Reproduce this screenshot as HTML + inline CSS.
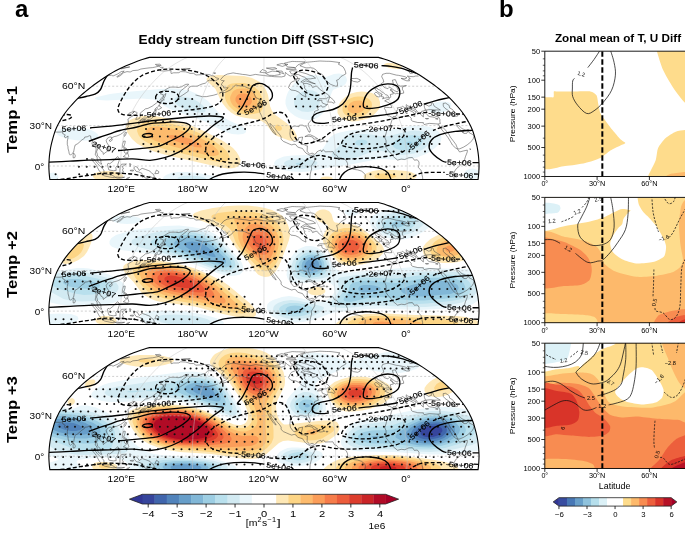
<!DOCTYPE html>
<html><head><meta charset="utf-8"><style>
html,body{margin:0;padding:0;background:#fff;}
svg{display:block;will-change:transform;}
text{font-family:"Liberation Sans",sans-serif;}
</style></head><body>
<svg width="685" height="537" viewBox="0 0 685 537">
<rect width="685" height="537" fill="#fff"/>
<text x="15" y="16.6" font-size="24" font-weight="bold">a</text>
<text x="499" y="16.5" font-size="24" font-weight="bold">b</text>
<text x="138.6" y="43.8" font-size="12.2" font-weight="bold" textLength="235.2" lengthAdjust="spacingAndGlyphs">Eddy stream function Diff (SST+SIC)</text>
<text x="554.9" y="42.2" font-size="10.6" font-weight="bold" textLength="126.2" lengthAdjust="spacingAndGlyphs">Zonal mean of T, U Diff</text>
<text x="17.4" y="119.4" font-size="14.4" text-anchor="middle" font-weight="bold" textLength="67" lengthAdjust="spacingAndGlyphs" transform="rotate(-90 17.4 119.4)">Temp +1</text>
<clipPath id="clip0"><path d="M149.47,57.4 L153.35,57.4 L157.23,57.4 L161.12,57.4 L165,57.4 L168.88,57.4 L172.76,57.4 L176.64,57.4 L180.52,57.4 L184.4,57.4 L188.28,57.4 L192.16,57.4 L196.04,57.4 L199.92,57.4 L203.8,57.4 L207.68,57.4 L211.56,57.4 L215.44,57.4 L219.32,57.4 L223.2,57.4 L227.08,57.4 L230.97,57.4 L234.85,57.4 L238.73,57.4 L242.61,57.4 L246.49,57.4 L250.37,57.4 L254.25,57.4 L258.13,57.4 L262.01,57.4 L265.89,57.4 L269.77,57.4 L273.65,57.4 L277.53,57.4 L281.41,57.4 L285.29,57.4 L289.17,57.4 L293.05,57.4 L296.93,57.4 L300.82,57.4 L304.7,57.4 L308.58,57.4 L312.46,57.4 L316.34,57.4 L320.22,57.4 L324.1,57.4 L327.98,57.4 L331.86,57.4 L335.74,57.4 L339.62,57.4 L343.5,57.4 L347.38,57.4 L351.26,57.4 L355.14,57.4 L359.02,57.4 L362.9,57.4 L366.78,57.4 L370.67,57.4 L374.55,57.4 L378.43,57.4 L378.43,57.4 L381.06,58.1 L384,58.99 L387.2,60.05 L390.62,61.27 L394.22,62.64 L397.97,64.14 L401.81,65.75 L405.62,67.46 L409.29,69.22 L412.74,71.03 L416.01,72.89 L419.14,74.78 L422.19,76.71 L425.17,78.68 L428.09,80.68 L430.96,82.71 L433.79,84.77 L436.55,86.85 L439.25,88.96 L441.89,91.09 L444.44,93.24 L446.91,95.42 L449.28,97.61 L451.51,99.81 L453.62,102.03 L455.64,104.27 L457.6,106.51 L459.5,108.76 L461.32,111.02 L463.02,113.29 L464.61,115.56 L466.09,117.84 L467.48,120.12 L468.78,122.4 L469.99,124.69 L471.09,126.97 L472.08,129.25 L472.96,131.54 L473.73,133.82 L474.41,136.1 L475.04,138.38 L475.65,140.66 L476.23,142.95 L476.77,145.23 L477.25,147.51 L477.65,149.79 L478,152.08 L478.29,154.36 L478.53,156.64 L478.72,158.92 L478.87,161.21 L478.98,163.49 L479.05,165.77 L479,168.05 L478.9,170.34 L478.76,172.62 L478.57,174.9 L478.34,177.18 L478.06,179.47 L478.06,179.47 L470.8,179.47 L463.54,179.47 L456.29,179.47 L449.03,179.47 L441.77,179.47 L434.51,179.47 L427.25,179.47 L420,179.47 L412.74,179.47 L405.48,179.47 L398.22,179.47 L390.96,179.47 L383.71,179.47 L376.45,179.47 L369.19,179.47 L361.93,179.47 L354.67,179.47 L347.42,179.47 L340.16,179.47 L332.9,179.47 L325.64,179.47 L318.38,179.47 L311.13,179.47 L303.87,179.47 L296.61,179.47 L289.35,179.47 L282.09,179.47 L274.84,179.47 L267.58,179.47 L260.32,179.47 L253.06,179.47 L245.81,179.47 L238.55,179.47 L231.29,179.47 L224.03,179.47 L216.77,179.47 L209.52,179.47 L202.26,179.47 L195,179.47 L187.74,179.47 L180.48,179.47 L173.23,179.47 L165.97,179.47 L158.71,179.47 L151.45,179.47 L144.19,179.47 L136.94,179.47 L129.68,179.47 L122.42,179.47 L115.16,179.47 L107.9,179.47 L100.65,179.47 L93.39,179.47 L86.13,179.47 L78.87,179.47 L71.61,179.47 L64.36,179.47 L57.1,179.47 L49.84,179.47 L49.84,179.47 L49.56,177.18 L49.33,174.9 L49.14,172.62 L49,170.34 L48.9,168.05 L48.85,165.77 L48.92,163.49 L49.03,161.21 L49.18,158.92 L49.37,156.64 L49.61,154.36 L49.9,152.08 L50.25,149.79 L50.65,147.51 L51.13,145.23 L51.67,142.95 L52.25,140.66 L52.86,138.38 L53.49,136.1 L54.17,133.82 L54.94,131.54 L55.82,129.25 L56.81,126.97 L57.91,124.69 L59.12,122.4 L60.42,120.12 L61.81,117.84 L63.29,115.56 L64.88,113.29 L66.58,111.02 L68.4,108.76 L70.3,106.51 L72.26,104.27 L74.28,102.03 L76.39,99.81 L78.62,97.61 L80.99,95.42 L83.46,93.24 L86.01,91.09 L88.65,88.96 L91.35,86.85 L94.11,84.77 L96.94,82.71 L99.81,80.68 L102.73,78.68 L105.71,76.71 L108.76,74.78 L111.89,72.89 L115.16,71.03 L118.61,69.22 L122.28,67.46 L126.09,65.75 L129.93,64.14 L133.68,62.64 L137.28,61.27 L140.7,60.05 L143.9,58.99 L146.84,58.1 L149.47,57.4Z"/></clipPath>
<g clip-path="url(#clip0)" id="mapbody0">
<path d="M387 63l5 0 5 1 4 2 1 1 -0.5 1 -1.5 1 -3 0 -8 -1 -3 -1.5 -2 -1.5 0.5 -1 2.5 -1zM210.5 76l7.5 -1 26 1 8 2 7 3.5 4 3.5 3 5 2 5 2 11 2 5 3.5 4 11 8 6.5 6 2 3 1.5 3 0.5 2 -0.5 2 -1.5 1 -3 1 -3 -0.5 -4 -1.5 -8 -3 -3 -2 -2 -2 -6 -8 -4.5 -3 -4.5 -1.5 -11 -1.5 -5 -1 -5 -1.5 -5 -3 -4 -3.5 -4 -5 -3 -5 -4.5 -10 -8.5 -8 -0.5 -2 0.5 -1 1 -1 2.5 -1zM357 92l5 -0.5 5 0.5 5 1 4 2.5 2.5 2.5 1.5 4 0 3 -1 4 -2.5 3 -3.5 3.5 -4 2.5 -5 1.5 -6 1.5 -6 0.5 -5 -1 -4 -1.5 -3 -2 -2.5 -4 0 -4 1.5 -5 3 -4 4 -3.5 5 -3 6 -1.5zM142.5 116l6.5 0 6 0 17 3.5 18 5.5 15 6.5 18 9.5 6 4 4 3 3.5 4 2.5 4 1.5 4 -0.5 4 -2 2.5 -4 1.5 -6 0.5 -7 -1 -53 -12 -14 -4 -10 -4 -7 -4 -5 -4.5 -5 -7 -1 -5 0 -2 1 -2 3 -3 6 -2.5 6.5 -1.5zM379 170l15 0 12.5 1 4.5 1 4 2 1 1 0.5 2 -1 1 -2.5 1.5 -6 2 -8 1.5 -10 0.5 -9 0 -7 -1 -6 -2 -3 -2.5 -0.5 -1 0.5 -2 3 -2 6 -2 6 -1zM104.5 171l6.5 0 6.5 1 4.5 2 1.5 2 -1.5 2 -3 1.5 -5 1 -5 0.5 -6 0 -4.5 -1 -3.5 -1 -2 -2 0 -2 2.5 -2 3.5 -1 5.5 -1zM322 177l3 -0.5 4 0 3 1 0.5 0.5 0 1 -1.5 1 -2 0.5 -5 0 -2 -0.5 -1.5 -1 0 -1 1.5 -1z" fill="#fee8b6" fill-rule="evenodd"/>
<path d="M237 83l7 0 6 1.5 5 3 4 3.5 2.5 5 1.5 7 -0.5 6 -2 3 -2.5 1 -5 1 -5 0.5 -5 -0.5 -4 -1 -4 -1.5 -3 -2.5 -3 -3 -2.5 -4 -1.5 -4 0 -4 1 -5.5 1 -2.5 2 -1.5 3 -1 5 -0.5zM354 97l4 -0.5 4 0 4 1 3 1.5 2.5 3 0.5 3 -0.5 3 -2 3 -2 2 -3 2 -3.5 1.5 -4 0.5 -7 0 -2.5 -1 -2.5 -1.5 -2 -2.5 -0.5 -2 0 -2 0.5 -3 2 -2.5 2.5 -2.5 3.5 -2 3 -1zM146 122l4 -0.5 5 0 13 1.5 16 4 14 5.5 14.5 7.5 10 7 4 4 2 3 1 3 -0.5 2 -2 2 -3 1 -5 0 -6 -1 -45 -11 -12 -3.5 -7 -3 -4.5 -2.5 -4 -3 -2 -3 -1.5 -4 0.5 -3 1.5 -2.5 3 -2 4 -1.5zM276 125l2 -0.5 2.5 1.5 1.5 2 -0.5 2 -2.5 1 -2.5 -1 -1 -1 -0.5 -2 1 -2zM377.5 174l4.5 -0.5 6 0 6 1 2.5 1.5 -0.5 1 -5 1.5 -6 0.5 -5 0 -4 -1 -1.5 -1 0 -1 1 -1 2 -1z" fill="#fdd585" fill-rule="evenodd"/>
<path d="M237 89l4 -0.5 5 0 4 1.5 4 3 2.5 4 1 4 -0.5 4 -2 3 -2 1.5 -3 1 -6 0.5 -6 -2 -4.5 -3 -1.5 -2 -1.5 -3 -0.5 -3 0.5 -2 2 -4 1.5 -1.5 3 -1.5zM354 101l5 -0.5 3 0.5 1.5 1 1.5 1.5 0.5 1.5 0 2 -1 2 -2.5 2.5 -4 1.5 -5 0.5 -3.5 -1.5 -1 -1 -1 -2 0.5 -3 2 -3 4 -2zM150.5 127l7.5 -0.5 11 1.5 12 2.5 11 3.5 10.5 5 10 6 5 5 1 2 0.5 2 -1 1 -3 1 -4 0 -5 -1 -31 -8 -19.5 -6 -6 -3 -2 -2 -1.5 -2 -0.5 -2 1 -2 1.5 -1.5 2.5 -1.5z" fill="#fdbb6d" fill-rule="evenodd"/>
<path d="M239 94l3 -0.5 3 0 3 1 1.5 1.5 1.5 2 1 3 -0.5 2 -1.5 2 -3 1.5 -3 0.5 -3.5 -1 -3 -2 -2 -3 0 -3 1.5 -2.5 2 -1.5zM171.5 135l9 1 10 3 8 4 2.5 2 1 2 -2 0.5 -5 -0.5 -10.5 -3 -9 -3 -6 -3 -1.5 -1 -0.5 -1 1.5 -0.5 2.5 -0.5z" fill="#fb9d59" fill-rule="evenodd"/>
<path d="M334 74l5 -0.5 3 0.5 2 1 1.5 1 1 2 0.5 2 -0.5 2 -1 2 -2.5 2 -8 3 -2 1 -1 2 -6.5 17 -2.5 4 -3 3 -3 2 -4 1.5 -4 0.5 -5 -0.5 -5 -1.5 -4 -2 -4 -3 -3 -3 -1.5 -3 -1 -3 0 -4 1 -4 1.5 -4 3 -4.5 3 -4 4 -3.5 5 -3 6 -1.5 6 -0.5 11 2 8 -3zM160 89l12 -0.5 9 0.5 8 1.5 7 3 7 4 5 3.5 12 13 4 3.5 5 3 12 5.5 3 2 2 2 0 2 -1 1 -2 1 -5 0.5 -6 -0.5 -6.5 -2 -6.5 -3 -9 -5 -6 -3 -26 -9 -8 -3 -5.5 -3 -6.5 -5 -5 -1.5 -11 -1 -35 2 -8.5 -0.5 -3.5 -1 0 -1 2 -1 13 -3 16 -2 34 -3zM437.5 102l5.5 -0.5 5 0.5 3 1.5 0.5 2.5 -1 2 -2 2 -6.5 2.5 -4 0.5 -4 0 -3 -0.5 -2 -1.5 -1 -2 1.5 -3 3.5 -2.5 4.5 -1.5zM410.5 126l7.5 -0.5 6 0.5 6 1 4.5 2 4.5 3 2 3 0.5 3 -1 4 -2.5 3 -3 3 -8 5.5 -10 4 -10 2 -9 0.5 -16 -1 -6 0.5 -25 5 -22 3 -20 4 -7 0.5 -10 -0.5 -9 -1.5 -6.5 -3 -1 -1 -1.5 -2 0.5 -2 1.5 -2 4 -2 4 -1.5 8 -1 18.5 -0.5 3.5 -0.5 3 -1 3.5 -2.5 3.5 -4 4 -7 2.5 -3 4.5 -3 5 -1.5 9 -2 12 -1 28 0.5 21.5 -4zM63.5 128l10.5 -0.5 12 1 5 1.5 4 2 2.5 2 1 2 -1.5 2 -1.5 1 -7.5 1.5 -10 0 -10 -1.5 -8.5 -3 -1.5 -1 -1.5 -2 0.5 -2 1 -1 5.5 -2zM469 169l4 -0.5 4.5 1.5 1.5 1.5 1 1.5 -0.5 3 -2 2 -3.5 1 -4 0 -3.5 -1 -2 -2 -0.5 -3 2 -2.5 3 -1.5zM178 172l11 0 12 1.5 12 2.5 4 1.5 1.5 1.5 -0.5 1 -2 1 -6 1.5 -10 1 -11 0.5 -9 0 -8 -1.5 -5.5 -1.5 -3 -2 -0.5 -1 0.5 -1 2.5 -2 5 -2 7 -1zM50.5 173l3.5 -0.5 3 1.5 1 1.5 0.5 1.5 -0.5 1.5 -1 1.5 -2 1 -2 0.5 -2 -0.5 -2 -1 -1.5 -2 0 -2 1.5 -2 1.5 -1z" fill="#e9f6fb" fill-rule="evenodd"/>
<path d="M304 91l4 -1 5 0.5 4 2 2.5 3.5 1 4 -1 4 -2.5 4 -4 3 -5 1 -6 -0.5 -5 -2.5 -2.5 -3 -0.5 -4 0.5 -3 1 -2 3.5 -3.5 5 -2.5zM177 97l3 -0.5 5 0.5 5 1 5 2 3.5 2 4 3 2.5 3 0.5 3 -0.5 1 -2 0.5 -5 0 -10 -2.5 -8 -3 -3 -2 -2.5 -3 0 -3 0.5 -1 2 -1zM410.5 131l4.5 -0.5 5 0.5 4 1 3.5 2 2 2 1 3 0 2 -1.5 3 -4 4 -5 3 -6 2.5 -7 1 -5 0.5 -5 -0.5 -13 -3 -5 -1 -7 1 -14 5.5 -9 2 -6 0 -5 -0.5 -4 -1 -2 -1.5 -0.5 -1 0.5 -2 7 -7 3 -6 3 -2.5 4 -2 7 -1.5 8 0 7 0.5 11 2 4 0 5 -1 12 -3 7.5 -1.5zM293 159l8 -0.5 9 1 5.5 1.5 1.5 1 0.5 1 -1.5 2 -4 2 -5 1 -5 1 -6 -0.5 -5 -0.5 -3.5 -1 -3 -2 -0.5 -2 2 -2 3 -1 4 -1zM183 176l6 -0.5 8 0.5 6 1 2.5 1 0.5 1 -1.5 1 -3.5 0.5 -9 1 -9 -1 -3 -0.5 -2 -1 -0.5 -1 1.5 -1 4 -1z" fill="#d2eaf2" fill-rule="evenodd"/>
<path d="M405.5 136l7.5 -1 6 1 3 2 1 2 -0.5 2 -2 3 -2.5 2 -4 2 -5 1.5 -5 0 -4 -0.5 -3.5 -1 -3 -2 -1 -2 0 -1 2 -3 5.5 -3 5.5 -2zM358 140l4 -0.5 3 0.5 2 1 0.5 1 -0.5 1.5 -3 1.5 -3 0.5 -3 0 -2 -1 -1 -1.5 1 -2 2 -1zM296 163l5 -0.5 1.5 0.5 0.5 1 -3 1 -2 0 -2.5 -1 0.5 -1z" fill="#b9e0ed" fill-rule="evenodd"/>
<path d="M407 142l3 -0.5 1.5 0.5 0 1 -1.5 1 -3 0 -1 -1 1 -1z" fill="#9dcee3" fill-rule="evenodd"/>
<g fill="#111"><circle cx="55.6" cy="174.2" r="1.02"/><circle cx="79.2" cy="174.2" r="1.02"/><circle cx="87.1" cy="174.2" r="1.02"/><circle cx="94.9" cy="174.2" r="1.02"/><circle cx="102.8" cy="174.2" r="1.02"/><circle cx="110.7" cy="174.2" r="1.02"/><circle cx="118.6" cy="174.2" r="1.02"/><circle cx="173.7" cy="174.2" r="1.02"/><circle cx="181.5" cy="174.2" r="1.02"/><circle cx="189.4" cy="174.2" r="1.02"/><circle cx="197.3" cy="174.2" r="1.02"/><circle cx="205.2" cy="174.2" r="1.02"/><circle cx="213.0" cy="174.2" r="1.02"/><circle cx="291.7" cy="174.2" r="1.02"/><circle cx="299.6" cy="174.2" r="1.02"/><circle cx="307.5" cy="174.2" r="1.02"/><circle cx="315.4" cy="174.2" r="1.02"/><circle cx="323.2" cy="174.2" r="1.02"/><circle cx="331.1" cy="174.2" r="1.02"/><circle cx="339.0" cy="174.2" r="1.02"/><circle cx="370.5" cy="174.2" r="1.02"/><circle cx="378.3" cy="174.2" r="1.02"/><circle cx="386.2" cy="174.2" r="1.02"/><circle cx="394.1" cy="174.2" r="1.02"/><circle cx="401.9" cy="174.2" r="1.02"/><circle cx="409.8" cy="174.2" r="1.02"/><circle cx="78.9" cy="166.7" r="1.02"/><circle cx="86.7" cy="166.7" r="1.02"/><circle cx="94.6" cy="166.7" r="1.02"/><circle cx="102.5" cy="166.7" r="1.02"/><circle cx="110.4" cy="166.7" r="1.02"/><circle cx="118.3" cy="166.7" r="1.02"/><circle cx="212.9" cy="166.7" r="1.02"/><circle cx="220.8" cy="166.7" r="1.02"/><circle cx="228.7" cy="166.7" r="1.02"/><circle cx="276.0" cy="166.7" r="1.02"/><circle cx="283.9" cy="166.7" r="1.02"/><circle cx="291.8" cy="166.7" r="1.02"/><circle cx="299.7" cy="166.7" r="1.02"/><circle cx="307.6" cy="166.7" r="1.02"/><circle cx="315.5" cy="166.7" r="1.02"/><circle cx="323.3" cy="166.7" r="1.02"/><circle cx="331.2" cy="166.7" r="1.02"/><circle cx="339.1" cy="166.7" r="1.02"/><circle cx="347.0" cy="166.7" r="1.02"/><circle cx="354.9" cy="166.7" r="1.02"/><circle cx="370.7" cy="166.7" r="1.02"/><circle cx="378.5" cy="166.7" r="1.02"/><circle cx="386.4" cy="166.7" r="1.02"/><circle cx="394.3" cy="166.7" r="1.02"/><circle cx="87.0" cy="159.1" r="1.02"/><circle cx="165.7" cy="159.1" r="1.02"/><circle cx="173.6" cy="159.1" r="1.02"/><circle cx="181.5" cy="159.1" r="1.02"/><circle cx="189.4" cy="159.1" r="1.02"/><circle cx="197.2" cy="159.1" r="1.02"/><circle cx="205.1" cy="159.1" r="1.02"/><circle cx="213.0" cy="159.1" r="1.02"/><circle cx="220.9" cy="159.1" r="1.02"/><circle cx="228.7" cy="159.1" r="1.02"/><circle cx="236.6" cy="159.1" r="1.02"/><circle cx="291.8" cy="159.1" r="1.02"/><circle cx="299.6" cy="159.1" r="1.02"/><circle cx="307.5" cy="159.1" r="1.02"/><circle cx="315.4" cy="159.1" r="1.02"/><circle cx="323.3" cy="159.1" r="1.02"/><circle cx="331.1" cy="159.1" r="1.02"/><circle cx="339.0" cy="159.1" r="1.02"/><circle cx="346.9" cy="159.1" r="1.02"/><circle cx="354.8" cy="159.1" r="1.02"/><circle cx="150.4" cy="151.6" r="1.02"/><circle cx="158.3" cy="151.6" r="1.02"/><circle cx="166.1" cy="151.6" r="1.02"/><circle cx="174.0" cy="151.6" r="1.02"/><circle cx="181.8" cy="151.6" r="1.02"/><circle cx="189.7" cy="151.6" r="1.02"/><circle cx="197.5" cy="151.6" r="1.02"/><circle cx="205.3" cy="151.6" r="1.02"/><circle cx="213.2" cy="151.6" r="1.02"/><circle cx="221.0" cy="151.6" r="1.02"/><circle cx="228.9" cy="151.6" r="1.02"/><circle cx="338.7" cy="151.6" r="1.02"/><circle cx="346.6" cy="151.6" r="1.02"/><circle cx="354.4" cy="151.6" r="1.02"/><circle cx="362.3" cy="151.6" r="1.02"/><circle cx="370.1" cy="151.6" r="1.02"/><circle cx="378.0" cy="151.6" r="1.02"/><circle cx="385.8" cy="151.6" r="1.02"/><circle cx="393.6" cy="151.6" r="1.02"/><circle cx="401.5" cy="151.6" r="1.02"/><circle cx="409.3" cy="151.6" r="1.02"/><circle cx="417.2" cy="151.6" r="1.02"/><circle cx="425.0" cy="151.6" r="1.02"/><circle cx="143.4" cy="144.0" r="1.02"/><circle cx="151.2" cy="144.0" r="1.02"/><circle cx="159.0" cy="144.0" r="1.02"/><circle cx="166.8" cy="144.0" r="1.02"/><circle cx="174.6" cy="144.0" r="1.02"/><circle cx="182.4" cy="144.0" r="1.02"/><circle cx="190.1" cy="144.0" r="1.02"/><circle cx="197.9" cy="144.0" r="1.02"/><circle cx="205.7" cy="144.0" r="1.02"/><circle cx="213.5" cy="144.0" r="1.02"/><circle cx="221.3" cy="144.0" r="1.02"/><circle cx="229.1" cy="144.0" r="1.02"/><circle cx="338.2" cy="144.0" r="1.02"/><circle cx="346.0" cy="144.0" r="1.02"/><circle cx="353.8" cy="144.0" r="1.02"/><circle cx="361.6" cy="144.0" r="1.02"/><circle cx="369.4" cy="144.0" r="1.02"/><circle cx="377.2" cy="144.0" r="1.02"/><circle cx="385.0" cy="144.0" r="1.02"/><circle cx="392.8" cy="144.0" r="1.02"/><circle cx="400.6" cy="144.0" r="1.02"/><circle cx="408.4" cy="144.0" r="1.02"/><circle cx="416.2" cy="144.0" r="1.02"/><circle cx="424.0" cy="144.0" r="1.02"/><circle cx="431.7" cy="144.0" r="1.02"/><circle cx="439.5" cy="144.0" r="1.02"/><circle cx="144.5" cy="136.5" r="1.02"/><circle cx="152.2" cy="136.5" r="1.02"/><circle cx="159.9" cy="136.5" r="1.02"/><circle cx="167.7" cy="136.5" r="1.02"/><circle cx="175.4" cy="136.5" r="1.02"/><circle cx="183.1" cy="136.5" r="1.02"/><circle cx="190.8" cy="136.5" r="1.02"/><circle cx="198.6" cy="136.5" r="1.02"/><circle cx="206.3" cy="136.5" r="1.02"/><circle cx="214.0" cy="136.5" r="1.02"/><circle cx="221.7" cy="136.5" r="1.02"/><circle cx="353.0" cy="136.5" r="1.02"/><circle cx="360.7" cy="136.5" r="1.02"/><circle cx="368.4" cy="136.5" r="1.02"/><circle cx="376.1" cy="136.5" r="1.02"/><circle cx="383.9" cy="136.5" r="1.02"/><circle cx="391.6" cy="136.5" r="1.02"/><circle cx="399.3" cy="136.5" r="1.02"/><circle cx="407.0" cy="136.5" r="1.02"/><circle cx="414.7" cy="136.5" r="1.02"/><circle cx="422.5" cy="136.5" r="1.02"/><circle cx="430.2" cy="136.5" r="1.02"/><circle cx="146.0" cy="129.0" r="1.02"/><circle cx="153.6" cy="129.0" r="1.02"/><circle cx="161.2" cy="129.0" r="1.02"/><circle cx="168.8" cy="129.0" r="1.02"/><circle cx="176.5" cy="129.0" r="1.02"/><circle cx="184.1" cy="129.0" r="1.02"/><circle cx="191.7" cy="129.0" r="1.02"/><circle cx="199.3" cy="129.0" r="1.02"/><circle cx="237.5" cy="129.0" r="1.02"/><circle cx="245.1" cy="129.0" r="1.02"/><circle cx="405.3" cy="129.0" r="1.02"/><circle cx="412.9" cy="129.0" r="1.02"/><circle cx="420.5" cy="129.0" r="1.02"/><circle cx="148.1" cy="121.4" r="1.02"/><circle cx="155.6" cy="121.4" r="1.02"/><circle cx="163.1" cy="121.4" r="1.02"/><circle cx="170.5" cy="121.4" r="1.02"/><circle cx="193.0" cy="121.4" r="1.02"/><circle cx="200.5" cy="121.4" r="1.02"/><circle cx="208.0" cy="121.4" r="1.02"/><circle cx="215.5" cy="121.4" r="1.02"/><circle cx="223.0" cy="121.4" r="1.02"/><circle cx="180.0" cy="113.9" r="1.02"/><circle cx="187.4" cy="113.9" r="1.02"/><circle cx="194.7" cy="113.9" r="1.02"/><circle cx="202.0" cy="113.9" r="1.02"/><circle cx="209.3" cy="113.9" r="1.02"/><circle cx="216.6" cy="113.9" r="1.02"/><circle cx="223.9" cy="113.9" r="1.02"/><circle cx="348.3" cy="113.9" r="1.02"/><circle cx="355.6" cy="113.9" r="1.02"/><circle cx="362.9" cy="113.9" r="1.02"/><circle cx="370.2" cy="113.9" r="1.02"/><circle cx="175.4" cy="106.4" r="1.02"/><circle cx="182.5" cy="106.4" r="1.02"/><circle cx="189.6" cy="106.4" r="1.02"/><circle cx="196.7" cy="106.4" r="1.02"/><circle cx="239.3" cy="106.4" r="1.02"/><circle cx="246.4" cy="106.4" r="1.02"/><circle cx="253.5" cy="106.4" r="1.02"/><circle cx="260.6" cy="106.4" r="1.02"/><circle cx="296.1" cy="106.4" r="1.02"/><circle cx="303.2" cy="106.4" r="1.02"/><circle cx="310.3" cy="106.4" r="1.02"/><circle cx="317.4" cy="106.4" r="1.02"/><circle cx="345.8" cy="106.4" r="1.02"/><circle cx="352.9" cy="106.4" r="1.02"/><circle cx="360.0" cy="106.4" r="1.02"/><circle cx="367.1" cy="106.4" r="1.02"/><circle cx="171.7" cy="99.1" r="1.02"/><circle cx="178.5" cy="99.1" r="1.02"/><circle cx="185.4" cy="99.1" r="1.02"/><circle cx="192.2" cy="99.1" r="1.02"/><circle cx="240.2" cy="99.1" r="1.02"/><circle cx="247.0" cy="99.1" r="1.02"/><circle cx="253.9" cy="99.1" r="1.02"/><circle cx="260.7" cy="99.1" r="1.02"/><circle cx="295.0" cy="99.1" r="1.02"/><circle cx="301.8" cy="99.1" r="1.02"/><circle cx="308.7" cy="99.1" r="1.02"/><circle cx="315.5" cy="99.1" r="1.02"/><circle cx="241.2" cy="91.9" r="1.02"/><circle cx="247.8" cy="91.9" r="1.02"/><circle cx="254.3" cy="91.9" r="1.02"/><circle cx="260.9" cy="91.9" r="1.02"/><circle cx="242.3" cy="84.9" r="1.02"/><circle cx="248.6" cy="84.9" r="1.02"/><circle cx="254.8" cy="84.9" r="1.02"/></g>
<path d="M107.2,75.8L111.6,75.2L113.0,76.0L118.0,73.8L121.2,71.6L124.2,71.1L121.8,73.3L116.8,76.7L117.3,77.2L120.6,75.5L123.6,72.7L127.0,71.6L130.2,72.0L132.9,70.6L137.9,70.2L140.9,69.0L145.0,68.4L149.0,67.9L152.7,67.6L159.0,66.2L160.3,67.3L163.3,67.4L160.0,70.6L163.9,71.1L168.6,70.6L171.1,70.6L170.9,72.2L171.2,73.5L173.6,72.8L176.2,72.8L178.8,72.7L180.7,71.6L183.1,71.7L185.5,71.8L188.2,72.6L190.0,73.4L193.5,73.3L195.3,74.4L195.7,75.0L198.4,74.8L201.0,74.7L203.9,74.3L206.4,74.4L208.9,74.5L211.8,75.6L214.1,76.1L216.0,77.8L218.4,78.4L219.0,79.0L216.3,80.2L215.5,81.0L213.0,80.5L210.6,80.6L209.5,80.2L207.8,80.8L205.3,83.2L202.0,84.0L199.7,85.0L197.1,86.2L193.3,86.2L191.4,86.3L190.1,86.8L188.1,88.7L188.3,91.2L186.2,92.7L182.8,95.0L180.7,96.3L178.2,97.6L178.8,95.0L180.3,91.2L183.1,89.0L188.3,85.0L188.4,84.1L185.6,84.4L181.5,86.8L178.2,87.5L175.6,87.1L170.8,87.1L168.1,88.1L163.8,90.8L160.3,93.8L163.3,94.7L163.1,96.3L160.8,98.9L159.5,100.9L156.6,102.9L152.2,106.2L147.9,108.4L145.5,108.8L143.1,110.8L140.2,113.1L140.5,115.9L139.4,118.5L137.1,119.3L135.7,119.4L137.2,116.4L137.2,115.2L135.7,114.8L137.3,112.8L136.5,112.3L134.3,111.5L132.3,113.6L134.2,111.8L134.1,111.0L131.8,112.2L129.1,113.2L128.2,114.3L128.9,115.6L131.3,115.1L132.8,115.9L130.0,117.5L127.9,119.1L128.5,122.1L128.9,124.3L128.1,125.3L128.4,126.3L127.2,128.3L124.1,131.7L122.5,133.0L120.5,134.4L116.9,136.0L114.2,136.6L112.3,137.5L111.7,138.7L111.3,137.0L109.7,137.0L107.6,138.1L106.2,140.4L106.7,142.4L107.8,144.2L108.8,145.5L108.9,148.5L108.6,150.5L106.8,151.6L105.1,152.8L103.3,154.4L103.1,152.7L102.7,151.9L101.1,151.2L100.5,149.6L98.9,148.9L98.0,148.0L96.5,151.9L97.2,153.6L97.5,155.9L98.6,156.7L99.6,157.7L100.9,159.9L100.9,162.5L101.8,164.1L100.9,164.2L99.1,162.6L98.3,162.1L97.3,159.7L97.1,157.4L96.0,155.4L95.2,154.7L95.6,152.5L96.1,149.8L96.0,147.8L95.8,144.5L95.5,143.2L93.9,144.0L92.4,144.7L91.9,143.9L92.7,141.1L91.8,139.9L90.8,138.1L90.7,136.0L89.4,135.7L87.2,136.8L84.8,137.0L84.4,138.3L81.8,140.0L80.2,141.5L77.8,143.6L75.1,145.1L74.4,147.8L73.6,152.1L71.7,153.9L70.4,155.2L69.3,154.0L68.8,151.2L68.1,148.8L67.9,146.3L67.3,144.5L67.3,141.1L67.9,138.4L67.9,137.2L68.1,136.0L65.3,137.9L64.2,136.0L65.4,135.2L63.8,134.2L62.8,133.8L62.6,131.8L60.0,132.1L56.6,132.1L54.8,131.8M73.5,152.8L74.8,154.6L75.4,155.9L74.7,157.7L73.2,157.9L73.1,155.2L73.5,152.8M165.8,93.4L165.4,95.7L163.7,98.9L164.1,100.2L163.1,99.8L161.2,102.2L161.1,103.4L159.6,104.2L161.1,100.9L163.1,97.6L163.8,95.7L165.8,93.4M154.7,110.2L156.1,109.8L157.1,108.7L158.6,109.5L161.7,107.8L160.9,107.0L159.8,106.6L159.2,104.8L158.3,106.3L157.2,107.6L156.2,107.8L155.1,109.0L154.7,110.2M156.2,110.3L155.7,112.7L154.0,114.4L153.3,116.2L152.3,117.9L151.1,119.0L149.8,119.4L147.7,119.4L145.8,120.9L145.6,119.4L143.1,119.7L140.6,120.3L140.7,119.8L143.1,118.2L145.4,118.1L147.2,117.8L148.8,115.8L149.2,116.4L151.1,115.0L152.8,113.6L153.9,111.9L154.2,111.1L156.2,110.3M139.3,120.8L140.6,120.3L140.9,122.1L139.6,123.7L138.5,124.0L138.7,121.8L139.3,120.8M141.9,121.6L144.0,121.2L144.8,120.1L143.0,120.1L141.9,121.6M125.6,132.1L126.6,132.5L125.3,135.6L124.4,136.4L124.0,134.8L125.6,132.1M109.5,140.1L111.4,138.9L112.4,139.6L110.9,141.4L109.4,141.0L109.5,140.1M123.5,141.1L125.3,141.1L124.8,143.8L123.7,146.9L126.5,148.5L125.8,149.0L122.8,147.7L122.5,144.5L123.5,141.1M123.3,156.6L125.3,155.2L127.6,152.9L128.8,156.3L127.2,158.5L125.9,157.4L123.3,156.6M124.5,150.4L126.7,149.2L128.0,150.9L128.0,152.5L125.2,153.3L124.2,151.9L124.5,150.4M107.4,164.0L108.1,167.3L108.9,170.0L113.5,170.7L116.2,170.4L115.8,167.3L117.6,165.3L118.9,161.3L119.6,159.0L117.9,156.6L116.0,157.9L114.8,159.5L112.9,161.3L109.8,163.8L108.1,163.3L107.4,164.0M91.3,158.5L93.9,159.0L97.3,163.3L101.1,167.3L103.9,170.0L104.0,173.8L102.3,173.8L99.6,171.4L97.3,167.3L95.3,163.7L93.2,161.7L91.3,158.5M103.2,175.2L104.1,174.1L107.1,174.6L110.1,174.6L112.2,175.3L114.4,176.4L114.4,177.7L110.3,177.2L107.3,176.5L104.8,176.0L103.2,175.2M120.2,173.4L119.8,170.7L120.3,166.0L121.7,164.2L126.4,164.0L124.5,165.3L121.9,166.8L123.5,168.0L122.4,170.0L123.7,172.2L122.2,172.2L121.3,173.4L120.2,173.4M115.1,177.3L116.8,177.0L119.9,177.4L122.2,177.3L124.6,177.2L121.7,178.0L117.5,178.1L115.1,177.3M126.0,179.5L127.0,178.1L129.7,177.3L128.3,178.4L126.0,179.5M129.6,163.6L131.0,164.0L130.1,166.8L129.6,163.6M130.2,170.3L133.5,170.0L133.2,171.1L130.2,170.7L130.2,170.3M133.7,167.8L135.5,166.5L137.3,167.2L139.2,170.4L142.1,168.3L145.7,169.5L149.9,171.1L151.8,173.4L153.6,174.3L154.3,176.8L156.9,179.9L153.3,179.5L152.0,177.4L149.6,176.4L148.5,178.1L146.1,178.3L143.6,176.8L142.5,177.3L142.0,173.4L138.6,171.9L136.2,171.4L135.0,169.8L133.7,167.8M156.5,170.0L158.9,171.7L158.4,173.4L154.8,173.7L156.5,170.0M140.5,182.2L141.4,181.5L140.4,180.8L136.8,181.2L134.4,181.2L133.3,182.2M147.0,182.2L148.0,180.4L149.0,182.2M220.6,79.5L223.9,75.8L227.2,74.1L230.1,73.5L233.1,72.9L236.7,73.5L239.6,73.9L242.5,74.4L245.9,74.7L250.0,75.5L252.7,75.0L255.4,74.4L259.6,75.0L263.9,75.5L268.3,76.1L271.4,76.4L274.5,76.7L278.0,76.8L281.6,76.9L284.9,76.1L285.4,72.4L287.6,74.4L290.2,76.1L294.2,75.0L297.3,76.7L297.9,78.4L294.5,80.8L291.6,82.0L290.2,83.8L288.5,87.5L290.9,90.0L295.5,90.6L298.8,92.2L302.2,95.2L306.0,97.0L305.2,93.1L306.6,90.6L304.6,88.1L304.3,85.6L303.1,83.4L306.9,83.4L311.2,85.0L312.6,87.5L316.3,85.9L317.9,87.5L320.8,90.0L323.6,91.9L327.6,94.4L329.7,96.3L328.5,97.1L326.1,98.7L322.7,98.7L319.4,98.7L317.4,100.9L321.9,100.2L321.8,101.5L322.5,103.1L326.9,104.8L327.8,104.2L324.3,106.8L322.2,107.1L321.2,105.5L320.8,105.9L317.9,107.2L317.7,108.8L318.6,110.0L316.5,110.6L314.5,111.5L314.7,112.8L313.8,113.6L313.5,115.5L313.1,116.3L313.9,118.6L311.9,119.5L310.5,121.3L308.4,123.2L308.3,125.6L309.5,128.0L310.3,130.0L310.0,132.1L309.0,132.1L308.0,130.2L306.9,128.0L305.8,125.9L304.1,126.0L302.3,125.1L299.5,125.2L299.0,126.7L297.9,126.5L295.0,126.0L293.0,126.4L290.2,129.0L290.2,131.1L289.9,133.7L290.4,137.0L292.1,139.7L294.0,141.5L296.5,141.0L298.1,140.5L298.6,139.2L298.7,137.7L302.6,137.0L302.1,139.7L301.4,141.8L301.2,144.5L304.1,144.6L306.5,145.8L307.4,145.9L307.1,151.2L308.0,152.5L309.8,154.1L312.1,153.1L314.6,154.3L316.3,153.2L316.9,151.9L318.6,150.9L320.9,150.0L321.6,151.9L323.3,149.6L325.2,151.9L328.1,151.7L330.5,151.7L332.9,151.6L334.5,154.6L336.6,155.2L338.5,157.9L341.5,158.1L345.1,159.7L346.3,160.6L347.6,163.6L347.7,166.7L349.4,167.8L354.1,169.4L357.7,169.9L361.3,171.0L363.6,172.7L365.3,174.8L365.3,176.8L364.9,178.8L363.8,180.1M309.7,180.8L310.2,174.1L311.1,170.7L311.7,169.0L311.3,166.7L312.0,164.7L313.2,163.6L314.7,160.6L314.9,157.2L313.6,155.2L311.8,155.0L311.0,156.2L309.2,155.0L306.0,153.1L304.6,151.5L302.5,148.5L300.1,147.8L297.7,147.1L295.9,144.7L294.1,144.2L291.7,144.9L289.3,144.0L286.4,142.7L283.4,141.4L281.0,139.1L281.2,137.0L279.7,134.6L277.3,131.9L274.9,128.6L272.6,125.9L270.0,123.3L270.3,125.6L272.0,128.3L273.8,131.0L275.6,133.7L276.2,134.8L275.3,134.4L273.3,132.6L270.9,129.0L269.1,125.9L267.2,122.2L265.8,120.2L263.3,119.4L261.8,116.7L261.2,115.1L259.8,112.4L259.3,109.8L259.1,108.2L259.7,103.9L259.0,101.0L260.8,101.3L258.8,98.9L255.7,97.6L253.9,93.1L252.1,90.6L249.4,88.5L247.1,87.7L244.8,86.5L241.1,86.0L238.3,85.6L235.6,84.9L233.4,87.2L230.7,89.7L227.8,91.2L225.0,92.5L221.5,92.5L219.4,93.1L222.3,91.5L226.3,89.6L228.2,87.7L223.8,88.0L223.4,86.2L221.4,85.0L222.1,82.9L224.3,80.8L221.6,80.5L220.6,79.5M217.6,94.0L213.2,95.3L209.9,95.9L206.6,96.6L202.5,96.7L199.7,96.0L196.9,95.3L195.5,95.0M300.8,82.0L302.3,80.8L305.7,79.0L310.6,78.8L313.1,78.4L315.6,78.1L312.9,76.1L309.3,75.0L306.6,73.8L302.7,72.7L298.9,71.6L295.8,71.1L292.7,70.6L289.6,71.1L291.3,73.8L294.9,74.4L298.4,74.6L301.5,76.1L304.6,77.2L308.7,80.8L313.3,83.2L315.4,83.8L311.4,82.9L305.9,80.8L302.8,82.3L300.8,82.0M265.6,73.3L269.0,72.2L272.2,71.1L275.6,71.4L278.9,71.6L280.3,74.4L277.3,75.0L274.4,75.5L271.8,75.4L269.2,75.3L265.6,73.3M259.8,72.2L262.3,69.5L266.4,71.1L265.6,72.7L262.7,72.5L259.8,72.2M287.4,66.9L290.1,67.1L292.8,67.4L295.5,67.6L297.9,64.9L299.9,64.1L301.9,63.4L303.8,62.7L305.3,61.8L303.1,61.8L300.9,61.7L298.7,61.6L296.5,61.6L294.4,61.5L292.2,61.4L290.3,61.8L288.4,62.2L286.4,62.7L284.4,63.1L287.4,66.9M286.3,68.4L288.9,68.2L291.4,67.9L294.0,67.7L296.3,69.3L293.1,69.4L289.9,69.6L286.6,69.4L286.3,68.4M276.3,70.9L279.2,71.0L282.1,71.1L283.6,73.8L280.8,72.7L276.3,70.9M266.3,68.1L269.2,68.0L272.1,67.8L275.0,67.7L276.8,68.7L274.4,69.1L272.1,69.5L269.2,68.8L266.3,68.1M276.8,64.9L279.2,64.2L281.6,63.5L284.7,64.0L287.9,64.4L285.3,65.4L282.5,66.4L279.6,65.6L276.8,64.9M294.5,79.0L297.1,78.7L299.7,78.4L297.9,81.4L294.5,79.0M299.9,65.7L302.9,66.8L306.0,67.9L308.3,67.8L310.6,67.7L313.3,68.2L316.2,70.0L318.3,72.7L321.1,73.8L323.8,76.1L323.4,78.4L327.2,81.4L330.7,84.4L335.5,86.2L337.4,86.1L337.5,83.2L336.6,80.2L338.5,79.6L341.1,76.4L343.6,75.1L345.9,73.8L345.5,71.6L344.4,69.0L343.1,66.9L338.2,64.0L340.0,62.7L337.0,62.2L334.0,61.8L331.0,61.4L328.8,61.3L326.6,61.3L324.3,61.2L322.1,61.1L319.9,61.0L317.8,61.2L315.7,61.4L313.6,61.6L311.4,61.8L309.2,62.0L307.0,62.2L305.4,62.9L303.7,63.5L301.9,64.6L299.9,65.7M353.4,81.4L350.6,79.6L351.6,78.5L354.2,78.5L356.9,78.4L360.4,79.9L360.0,81.0L357.6,82.1L353.4,81.4M327.8,102.1L329.8,96.9L333.3,99.8L334.9,102.2L334.1,103.3L331.4,102.1L327.8,102.1M304.9,136.6L308.3,134.8L310.6,134.9L314.3,136.6L317.7,138.8L313.8,139.2L312.5,137.0L309.0,136.2L306.6,136.5L304.9,136.6M317.5,141.2L319.7,139.2L322.7,139.5L324.7,141.0L322.8,141.5L320.5,141.8L317.5,141.2M313.0,141.2L315.4,141.5L314.6,142.0L313.0,141.2M326.1,141.1L328.0,141.2L327.8,141.8L326.1,141.8L326.1,141.1M418.6,76.1L415.8,76.0L413.3,76.7L409.5,76.4L407.3,76.1L410.3,78.6L408.6,79.0L409.5,80.8L406.8,80.8L403.5,79.6L401.1,78.4L404.7,78.8L407.0,77.8L405.0,76.7L398.3,75.3L396.3,75.1L389.5,73.3L386.1,73.3L384.3,73.8L382.5,74.4L381.7,76.7L383.2,79.6L383.8,82.0L381.0,83.8L384.4,87.5L387.9,88.7L389.4,87.2L391.2,88.1L394.7,90.8L397.4,91.9L398.4,90.6L396.7,86.8L393.7,85.0L392.4,80.2L395.3,79.6L397.7,85.0L400.4,86.2L403.4,85.9L406.4,85.6L404.4,86.3L402.3,87.1L402.5,89.7L403.5,91.2L403.7,93.1L399.4,93.9L396.4,93.4L395.5,93.8L393.5,92.5L390.0,90.0L391.2,89.1L393.1,93.0L393.4,93.9L390.3,94.5L390.7,96.3L390.8,97.2L389.3,97.8L388.8,99.6L387.2,99.5L384.7,100.9L388.6,102.6L390.6,104.4L392.0,107.5L389.4,107.6L384.8,107.2L384.4,108.4L385.8,110.8L386.4,113.8L387.9,115.9L389.6,116.0L391.5,117.1L392.4,117.5L393.1,116.6L395.9,116.4L396.7,114.6L397.0,113.5L396.3,110.8L398.2,109.5L397.2,107.8L399.1,107.6L401.5,107.1L402.4,106.3L404.6,107.5L407.8,109.5L413.3,112.2L414.8,114.2L414.7,114.8L415.5,114.2L415.5,113.0L416.3,111.9L413.8,110.6L409.5,108.7L406.1,106.3L406.3,104.6L407.5,105.6L410.9,107.5L416.0,109.8L417.6,112.2L420.4,114.2L423.4,116.9L423.2,115.1L423.9,114.6L421.6,112.8L421.7,111.2L424.1,111.1L424.0,110.2L427.1,110.8L425.4,112.8L426.9,114.3L428.5,116.2L429.7,116.6L432.5,117.0L434.4,117.4L436.7,116.4L438.6,116.9L439.0,117.9L439.9,119.4L439.9,121.6L440.3,123.6L438.0,124.0L435.2,123.8L429.4,123.4L424.1,124.5L423.4,123.6L423.4,122.6L417.8,122.5L412.6,121.2L411.0,119.8L411.4,118.6L409.8,116.6L408.4,115.8L403.7,116.4L398.7,117.8L396.8,118.7L392.7,117.7L392.1,118.2L391.9,120.2L390.4,125.1L390.6,126.3L387.0,129.0L386.2,133.0L384.8,137.5L386.0,140.4L386.2,144.5L385.3,146.2L386.4,148.0L388.3,150.5L390.7,153.2L393.3,156.6L397.6,160.1L401.2,159.1L404.8,159.5L408.9,157.7L412.4,157.5L414.4,160.2L417.3,159.8L419.0,162.0L419.0,164.7L418.3,167.3L421.0,170.4L421.7,173.4L422.6,177.4L422.8,180.1M438.0,124.0L439.0,125.7L441.3,129.0L445.1,133.7L448.1,137.7L450.6,141.8L452.5,145.1L455.4,147.8L457.7,149.2L459.6,152.0L463.6,150.9L467.3,150.1L467.3,151.9L465.4,156.8L464.5,159.9L462.2,163.3L458.7,166.7L456.3,168.7L455.0,170.7L453.6,173.4L454.0,176.8L454.2,180.1M439.0,125.7L442.0,128.6L441.9,126.3L445.0,129.6L448.6,133.7L450.3,137.0L453.4,141.1L455.9,144.5L457.7,148.9L459.7,148.8L463.6,147.1L467.2,144.9L470.2,142.4L472.1,140.5L473.4,138.4L474.1,135.7L472.1,134.1L469.4,133.0L468.4,130.7L466.6,133.4L463.7,133.4L462.9,131.0L462.6,132.6L460.9,130.3L458.1,127.6L456.5,125.6L458.4,125.6L460.0,126.7L462.0,128.6L466.1,130.3L468.1,129.5L470.6,131.5M382.5,98.9L384.8,98.1L388.8,97.4L387.7,95.4L385.4,94.4L384.0,93.1L381.5,91.7L379.7,90.0L377.5,89.1L377.1,88.0L375.1,88.0L375.0,89.2L377.1,91.2L379.0,92.7L381.6,93.8L382.3,94.7L380.9,94.9L382.0,95.9L381.5,96.7L383.9,97.1L382.5,98.9M380.5,96.3L378.6,93.8L375.9,92.1L374.4,93.5L376.4,96.3L378.9,97.0L380.5,96.3M425.6,110.0L424.5,107.5L423.9,103.5L428.8,106.2L431.4,105.2L431.1,102.9L432.7,102.6L434.2,106.2L440.4,110.0L434.2,109.9L430.7,109.5L425.6,110.0M443.3,106.2L444.9,108.2L449.8,111.5L451.9,114.8L455.7,116.4L458.1,115.8L454.5,112.2L452.5,109.5L449.6,107.9L449.2,105.5L445.6,103.1L443.2,103.4L443.3,106.2M361.7,64.4L363.5,64.1L365.3,63.8L367.9,63.9L370.5,63.9L373.1,64.0L372.7,64.9L372.2,65.9L371.6,66.9L369.3,66.9L361.7,64.4M409.9,73.3L408.6,70.6M120.2,68.4L125.0,67.7L129.8,66.9L125.3,67.9L120.8,69.0M411.3,71.6L412.4,73.3L409.9,73.3M155.4,64.4L159.7,64.2L161.2,65.4L157.0,65.6L155.4,64.4M181.1,69.0L185.7,68.4L188.0,68.5L190.3,68.6L187.0,69.4L183.8,70.2L181.1,69.0M213.4,72.7L215.7,73.1L213.8,73.5L213.4,72.7M404.7,110.8L405.9,110.8L407.3,113.5L406.1,113.5L404.7,110.8M411.1,114.7L414.6,114.6L414.9,116.6L411.1,114.7M425.4,118.5L428.6,118.6L426.8,119.0L425.4,118.5M435.5,118.7L437.6,118.1L437.6,119.4L435.5,118.7M464.8,182.2L465.7,182.2M469.6,149.0L471.0,149.2L470.0,149.4L469.6,149.0" fill="none" stroke="#3a3a3a" stroke-width="0.5" stroke-linejoin="round"/>
<path d="M121.21,179.47 L120.94,176.01 L120.74,172.56 L120.61,169.11 L120.55,165.65 L120.63,162.2 L120.78,158.75 L120.99,155.3 L121.27,151.84 L121.64,148.39 L122.11,144.94 L122.68,141.48 L123.29,138.03 L123.94,134.58 L124.71,131.13 L125.64,127.67 L126.75,124.22 L128.01,120.77 L129.41,117.32 L130.96,113.87 L132.68,110.44 L134.55,107.03 L136.53,103.64 L138.61,100.27 L140.87,96.93 L143.32,93.63 L145.9,90.38 L148.6,87.17 L151.4,84.02 L154.28,80.94 L157.23,77.92 L160.28,74.97 L163.46,72.12 L166.87,69.36 L170.6,66.7 L174.47,64.22 L178.22,61.99 L181.73,60.08 L184.9,58.54 L187.63,57.4" fill="none" stroke="#c4c4c4" stroke-width="0.5"/>
<path d="M192.58,179.47 L192.44,176.01 L192.35,172.56 L192.28,169.11 L192.25,165.65 L192.29,162.2 L192.36,158.75 L192.47,155.3 L192.61,151.84 L192.8,148.39 L193.03,144.94 L193.31,141.48 L193.62,138.03 L193.95,134.58 L194.33,131.13 L194.8,127.67 L195.35,124.22 L195.98,120.77 L196.68,117.32 L197.45,113.87 L198.31,110.44 L199.25,107.03 L200.24,103.64 L201.28,100.27 L202.41,96.93 L203.64,93.63 L204.93,90.38 L206.28,87.17 L207.67,84.02 L209.11,80.94 L210.59,77.92 L212.11,74.97 L213.71,72.12 L215.41,69.36 L217.28,66.7 L219.21,64.22 L221.09,61.99 L222.84,60.08 L224.42,58.54 L225.79,57.4" fill="none" stroke="#c4c4c4" stroke-width="0.5"/>
<path d="M263.95,179.47 L263.95,176.01 L263.95,172.56 L263.95,169.11 L263.95,165.65 L263.95,162.2 L263.95,158.75 L263.95,155.3 L263.95,151.84 L263.95,148.39 L263.95,144.94 L263.95,141.48 L263.95,138.03 L263.95,134.58 L263.95,131.13 L263.95,127.67 L263.95,124.22 L263.95,120.77 L263.95,117.32 L263.95,113.87 L263.95,110.44 L263.95,107.03 L263.95,103.64 L263.95,100.27 L263.95,96.93 L263.95,93.63 L263.95,90.38 L263.95,87.17 L263.95,84.02 L263.95,80.94 L263.95,77.92 L263.95,74.97 L263.95,72.12 L263.95,69.36 L263.95,66.7 L263.95,64.22 L263.95,61.99 L263.95,60.08 L263.95,58.54 L263.95,57.4" fill="none" stroke="#c4c4c4" stroke-width="0.5"/>
<path d="M335.32,179.47 L335.46,176.01 L335.55,172.56 L335.62,169.11 L335.65,165.65 L335.61,162.2 L335.54,158.75 L335.43,155.3 L335.29,151.84 L335.1,148.39 L334.87,144.94 L334.59,141.48 L334.28,138.03 L333.95,134.58 L333.57,131.13 L333.1,127.67 L332.55,124.22 L331.92,120.77 L331.22,117.32 L330.45,113.87 L329.59,110.44 L328.65,107.03 L327.66,103.64 L326.62,100.27 L325.49,96.93 L324.26,93.63 L322.97,90.38 L321.62,87.17 L320.23,84.02 L318.79,80.94 L317.31,77.92 L315.79,74.97 L314.19,72.12 L312.49,69.36 L310.62,66.7 L308.69,64.22 L306.81,61.99 L305.06,60.08 L303.48,58.54 L302.11,57.4" fill="none" stroke="#c4c4c4" stroke-width="0.5"/>
<path d="M406.69,179.47 L406.96,176.01 L407.16,172.56 L407.29,169.11 L407.35,165.65 L407.27,162.2 L407.12,158.75 L406.91,155.3 L406.63,151.84 L406.26,148.39 L405.79,144.94 L405.22,141.48 L404.61,138.03 L403.96,134.58 L403.19,131.13 L402.26,127.67 L401.15,124.22 L399.89,120.77 L398.49,117.32 L396.94,113.87 L395.22,110.44 L393.35,107.03 L391.37,103.64 L389.29,100.27 L387.03,96.93 L384.58,93.63 L382,90.38 L379.3,87.17 L376.5,84.02 L373.62,80.94 L370.67,77.92 L367.62,74.97 L364.44,72.12 L361.03,69.36 L357.3,66.7 L353.43,64.22 L349.68,61.99 L346.17,60.08 L343,58.54 L340.27,57.4" fill="none" stroke="#c4c4c4" stroke-width="0.5"/>
<line x1="48.85" y1="166" x2="479.05" y2="166" stroke="#b0b0b0" stroke-width="0.6" stroke-dasharray="2,2"/>
<line x1="57.45" y1="125.6" x2="470.45" y2="125.6" stroke="#b0b0b0" stroke-width="0.6" stroke-dasharray="2,2"/>
<line x1="92.17" y1="86.22" x2="435.73" y2="86.22" stroke="#b0b0b0" stroke-width="0.6" stroke-dasharray="2,2"/>
<path d="M108.5,73.5 C107.75,74.75 105.33,78.33 104,81 C102.67,83.67 102,87.3 100.5,89.5 C99,91.7 97.42,93.03 95,94.2 C92.58,95.37 89,95.78 86,96.5 C83,97.22 78.5,98.17 77,98.5" fill="none" stroke="#000" stroke-width="1.35"/>
<path d="M56,120 C56.67,119.42 58.33,117.42 60,116.5 C61.67,115.58 64.08,114.67 66,114.5 C67.92,114.33 70.83,114.83 71.5,115.5 C72.17,116.17 71.42,117.67 70,118.5 C68.58,119.33 65.33,120 63,120.5 C60.67,121 57.17,121.33 56,121.5" fill="none" stroke="#000" stroke-width="1.35" stroke-dasharray="4,2.2"/>
<path d="M172,111.8 C175.83,111.4 188.33,110.3 195,109.4 C201.67,108.5 207.75,107.72 212,106.4 C216.25,105.08 218.7,103.63 220.5,101.5 C222.3,99.37 223.13,96.35 222.8,93.6 C222.47,90.85 221.05,87.93 218.5,85 C215.95,82.07 211.42,78.25 207.5,76 C203.58,73.75 200.18,72.62 195,71.5 C189.82,70.38 182.42,69.55 176.4,69.3 C170.38,69.05 164.75,68.88 158.9,70 C153.05,71.12 146.45,72.83 141.3,76 C136.15,79.17 131.72,84.17 128,89 C124.28,93.83 120.58,101.25 119,105 C117.42,108.75 117.67,109.87 118.5,111.5 C119.33,113.13 120.92,114.17 124,114.8 C127.08,115.43 133.83,115.27 137,115.3 C140.17,115.33 142,115.05 143,115" fill="none" stroke="#000" stroke-width="1.35" stroke-dasharray="4,2.2"/>
<path d="M155.6,97.5 C155.68,95.92 157.1,93.53 159,92.5 C160.9,91.47 164.17,91.22 167,91.3 C169.83,91.38 174.03,91.97 176,93 C177.97,94.03 178.97,96 178.8,97.5 C178.63,99 176.97,100.98 175,102 C173.03,103.02 169.75,103.6 167,103.6 C164.25,103.6 160.4,103.02 158.5,102 C156.6,100.98 155.52,99.08 155.6,97.5Z" fill="none" stroke="#000" stroke-width="1.35" stroke-dasharray="4,2.2"/>
<path d="M90,128 C95.27,127.47 110.85,126.05 121.6,124.8 C132.35,123.55 143.93,121.72 154.5,120.5 C165.07,119.28 176.02,118.25 185,117.5 C193.98,116.75 202.57,116.15 208.4,116 C214.23,115.85 217.57,116.22 220,116.6 C222.43,116.98 223.97,116.93 223,118.3 C222.03,119.67 217.12,122.5 214.2,124.8 C211.28,127.1 208.9,129.18 205.5,132.1 C202.1,135.02 198.18,139.02 193.8,142.3 C189.42,145.58 184.07,149.23 179.2,151.8 C174.33,154.37 169.47,156.28 164.6,157.7 C159.73,159.12 155.33,160.1 150,160.3 C144.67,160.5 139.27,159.02 132.6,158.9 C125.93,158.78 117.3,159.38 110,159.6 C102.7,159.82 95.47,159.93 88.8,160.2 C82.13,160.47 76.63,160.87 70,161.2 C63.37,161.53 52.5,162.03 49,162.2" fill="none" stroke="#000" stroke-width="1.35"/>
<path d="M118,150.5 C118.97,150.45 120.13,150.52 123.8,150.2 C127.47,149.88 134.42,149.18 140,148.6 C145.58,148.02 152.72,147.75 157.3,146.7 C161.88,145.65 163.85,144 167.5,142.3 C171.15,140.6 176.03,138.32 179.2,136.5 C182.37,134.68 184.68,132.98 186.5,131.4 C188.32,129.82 189.62,128.1 190.1,127 C190.58,125.9 190.48,125.53 189.4,124.8 C188.32,124.07 186.52,123.08 183.6,122.6 C180.68,122.12 175.3,121.88 171.9,121.9 C168.5,121.92 166.85,122.42 163.2,122.7 C159.55,122.98 154.37,122.88 150,123.6 C145.63,124.32 142,125.85 137,127 C132,128.15 124.38,129.4 120,130.5 C115.62,131.6 114.2,132.43 110.7,133.6 C107.2,134.77 102.65,136.22 99,137.5 C95.35,138.78 90.5,140.67 88.8,141.3" fill="none" stroke="#000" stroke-width="1.35"/>
<path d="M142.4,135.6 C142.73,135.02 145.35,133.92 147,133.7 C148.65,133.48 151.63,133.82 152.3,134.3 C152.97,134.78 152.22,136.12 151,136.6 C149.78,137.08 146.43,137.37 145,137.2 C143.57,137.03 142.07,136.18 142.4,135.6Z" fill="none" stroke="#000" stroke-width="1.35"/>
<path d="M269.5,101 C269.97,100.33 272.05,98.78 272.3,97 C272.55,95.22 272.32,92.37 271,90.3 C269.68,88.23 266.58,85.73 264.4,84.6 C262.22,83.47 259.9,83.27 257.9,83.5 C255.9,83.73 254.05,83.95 252.4,86 C250.75,88.05 249.65,92.35 248,95.8 C246.35,99.25 244.25,103.78 242.5,106.7 C240.75,109.62 237.75,112.05 237.5,113.3 C237.25,114.55 240.42,114.05 241,114.2" fill="none" stroke="#000" stroke-width="1.35"/>
<path d="M294,74.5 C295.05,73.12 298.22,70.98 301,70.4 C303.78,69.82 307.45,70.32 310.7,71 C313.95,71.68 317.82,72.75 320.5,74.5 C323.18,76.25 325.63,79.17 326.8,81.5 C327.97,83.83 328.08,86.52 327.5,88.5 C326.92,90.48 325.4,92.23 323.3,93.4 C321.2,94.57 317.7,95.62 314.9,95.5 C312.1,95.38 309.07,94.33 306.5,92.7 C303.93,91.07 301.47,88.03 299.5,85.7 C297.53,83.37 295.62,80.57 294.7,78.7 C293.78,76.83 292.95,75.88 294,74.5Z" fill="none" stroke="#000" stroke-width="1.35" stroke-dasharray="4,2.2"/>
<path d="M418,73.8 C416.33,73.25 410.88,71.43 408,70.5 C405.12,69.57 403.53,68.9 400.7,68.2 C397.87,67.5 394.2,66.73 391,66.3 C387.8,65.87 383.08,65.72 381.5,65.6" fill="none" stroke="#000" stroke-width="1.35"/>
<path d="M352.6,67.5 C352.43,68.25 351.83,70.37 351.6,72 C351.37,73.63 351.38,74.78 351.2,77.3 C351.02,79.82 350.97,84.07 350.5,87.1 C350.03,90.13 349.68,92.7 348.4,95.5 C347.12,98.3 345.37,101.57 342.8,103.9 C340.23,106.23 336.72,108.12 333,109.5 C329.28,110.88 323.63,111.28 320.5,112.2 C317.37,113.12 315.6,113.83 314.2,115 C312.8,116.17 311.98,117.92 312.1,119.2 C312.22,120.48 313.27,122 314.9,122.7 C316.53,123.4 319.55,123.4 321.9,123.4 C324.25,123.4 327.82,122.82 329,122.7" fill="none" stroke="#000" stroke-width="1.35"/>
<path d="M358.5,117.8 C361.25,117.5 369.08,116.75 375,116 C380.92,115.25 390.17,113.9 394,113.3 C397.83,112.7 397.33,112.55 398,112.4" fill="none" stroke="#000" stroke-width="1.35"/>
<path d="M424,104.2 C426,103.6 431.85,101.7 436,100.6 C440.15,99.5 445.23,98.5 448.9,97.6 C452.57,96.7 456.48,95.6 458,95.2" fill="none" stroke="#000" stroke-width="1.35"/>
<path d="M478,120.3 C476.07,120.52 470.23,120.98 466.4,121.6 C462.57,122.22 458.65,123.22 455,124 C451.35,124.78 448.17,125.22 444.5,126.3 C440.83,127.38 434.92,129.8 433,130.5" fill="none" stroke="#000" stroke-width="1.35" stroke-dasharray="4,2.2"/>
<path d="M405,150.5 C403.5,151.18 400.43,153.45 396,154.6 C391.57,155.75 383.77,156.78 378.4,157.4 C373.03,158.02 368.67,158.05 363.8,158.3 C358.93,158.55 354.07,158.92 349.2,158.9 C344.33,158.88 338.8,158.68 334.6,158.2 C330.4,157.72 326.93,156.43 324,156 C321.07,155.57 319.63,155.13 317,155.6 C314.37,156.07 311.12,157.2 308.2,158.8 C305.28,160.4 302.78,163.6 299.5,165.2 C296.22,166.8 292.75,167.93 288.5,168.4 C284.25,168.87 277.65,168.15 274,168 C270.35,167.85 267.83,167.58 266.6,167.5" fill="none" stroke="#000" stroke-width="1.35" stroke-dasharray="4,2.2"/>
<path d="M238.5,163.2 C236.25,163 229.42,162.82 225,162 C220.58,161.18 215.1,159.93 212,158.3 C208.9,156.67 207.33,154.3 206.4,152.2 C205.47,150.1 205.58,147.83 206.4,145.7 C207.22,143.57 209.03,141.42 211.3,139.4 C213.57,137.38 216.58,135.55 220,133.6 C223.42,131.65 227.63,129.33 231.8,127.7 C235.97,126.07 240.97,124.88 245,123.8 C249.03,122.72 252.5,122.25 256,121.2 C259.5,120.15 263.33,118.7 266,117.5 C268.67,116.3 270,114.88 272,114 C274,113.12 276,112.27 278,112.2 C280,112.13 282.42,112.63 284,113.6 C285.58,114.57 286.42,115.93 287.5,118 C288.58,120.07 289.5,123.22 290.5,126 C291.5,128.78 292,132 293.5,134.7 C295,137.4 297.05,140.75 299.5,142.2 C301.95,143.65 304.55,143.93 308.2,143.4 C311.85,142.87 317,141.28 321.4,139 C325.8,136.72 329.97,131.87 334.6,129.7 C339.23,127.53 344.33,126.97 349.2,126 C354.07,125.03 358.93,124.62 363.8,123.9 C368.67,123.18 373.53,122.55 378.4,121.7 C383.27,120.85 388.13,119.78 393,118.8 C397.87,117.82 403.1,116.73 407.6,115.8 C412.1,114.87 416.6,113.78 420,113.2 C423.4,112.62 426.67,112.45 428,112.3" fill="none" stroke="#000" stroke-width="1.35" stroke-dasharray="4,2.2"/>
<path d="M456,114 C457,114 459.67,113.92 462,114 C464.33,114.08 468.67,114.42 470,114.5" fill="none" stroke="#000" stroke-width="1.35" stroke-dasharray="4,2.2"/>
<path d="M365.5,130.5 C363.25,131.02 355.58,132.18 352,133.6 C348.42,135.02 345.68,137.1 344,139 C342.32,140.9 341.03,143.62 341.9,145 C342.77,146.38 345.55,146.68 349.2,147.3 C352.85,147.92 357.97,148.83 363.8,148.7 C369.63,148.57 378.85,147.6 384.2,146.5 C389.55,145.4 392.73,143.8 395.9,142.1 C399.07,140.4 401.73,138.25 403.2,136.3 C404.67,134.35 405.67,131.75 404.7,130.4 C403.73,129.05 399.27,128.53 397.4,128.2 C395.53,127.87 394.15,128.37 393.5,128.4" fill="none" stroke="#000" stroke-width="1.35" stroke-dasharray="4,2.2"/>
<path d="M363.4,106.5 C362.57,104.1 364.32,97.52 367,94 C369.68,90.48 375.33,87.03 379.5,85.4 C383.67,83.77 388.7,83.6 392,84.2 C395.3,84.8 398.3,86.53 399.3,89 C400.3,91.47 400.05,96.3 398,99 C395.95,101.7 391.33,103.63 387,105.2 C382.67,106.77 375.93,108.18 372,108.4 C368.07,108.62 364.23,108.9 363.4,106.5Z" fill="none" stroke="#000" stroke-width="1.35"/>
<path d="M479,130 C477.63,130.05 474.73,130.07 470.8,130.3 C466.87,130.53 460.53,130.67 455.4,131.4 C450.27,132.13 444.02,133.23 440,134.7 C435.98,136.17 433.1,138.02 431.3,140.2 C429.5,142.38 428.83,145.43 429.2,147.8 C429.57,150.17 431.32,152.2 433.5,154.4 C435.68,156.6 440.13,159.7 442.3,161 C444.47,162.3 445.8,162 446.5,162.2" fill="none" stroke="#000" stroke-width="1.35"/>
<path d="M472.5,162.6 L479,162.6" fill="none" stroke="#000" stroke-width="1.35"/>
<path d="M408.5,181 C409.08,180.4 410.58,178.47 412,177.4 C413.42,176.33 415.27,175.35 417,174.6 C418.73,173.85 419.73,173.27 422.4,172.9 C425.07,172.53 429.28,172.48 433,172.4 C436.72,172.32 442.75,172.4 444.7,172.4" fill="none" stroke="#000" stroke-width="1.35" stroke-dasharray="4,2.2"/>
<path d="M474,174 L479,174.2" fill="none" stroke="#000" stroke-width="1.35" stroke-dasharray="4,2.2"/>
<path d="M339,181 C339.5,180 340.5,176.83 342,175 C343.5,173.17 345.33,171.3 348,170 C350.67,168.7 354.33,167.73 358,167.2 C361.67,166.67 366.17,166.57 370,166.8 C373.83,167.03 378,167.57 381,168.6 C384,169.63 386.25,170.93 388,173 C389.75,175.07 390.92,179.67 391.5,181" fill="none" stroke="#000" stroke-width="1.35"/>
<path d="M207,181 C208.17,180.33 211.37,178.17 214,177 C216.63,175.83 219.47,174.75 222.8,174 C226.13,173.25 230.35,172.8 234,172.5 C237.65,172.2 241.2,172.18 244.7,172.2 C248.2,172.22 251.72,172.3 255,172.6 C258.28,172.9 262.83,173.77 264.4,174" fill="none" stroke="#000" stroke-width="1.35"/>
<path d="M291,176.5 L295,181" fill="none" stroke="#000" stroke-width="1.35"/>
<path d="M48,180.5 C51.17,180.18 61.67,179.27 67,178.6 C72.33,177.93 76.37,177.05 80,176.5 C83.63,175.95 85.47,175.78 88.8,175.3 C92.13,174.82 96.35,173.98 100,173.6 C103.65,173.22 107.03,173.03 110.7,173 C114.37,172.97 118.35,173.22 122,173.4 C125.65,173.58 129.27,173.7 132.6,174.1 C135.93,174.5 139.1,175.25 142,175.8 C144.9,176.35 147.5,176.9 150,177.4 C152.5,177.9 154.5,178.27 157,178.8 C159.5,179.33 163.67,180.3 165,180.6" fill="none" stroke="#000" stroke-width="1.35" stroke-dasharray="4,2.2"/>
<text x="74" y="131.2" font-size="7.4" text-anchor="middle" textLength="24.6" lengthAdjust="spacingAndGlyphs" stroke="#000" stroke-width="0.18" transform="rotate(-3 74 128.6)">5e+06</text>
<text x="104" y="149.6" font-size="7.4" text-anchor="middle" textLength="24.6" lengthAdjust="spacingAndGlyphs" stroke="#000" stroke-width="0.18" transform="rotate(17 104 147)">2e+07</text>
<text x="157.5" y="116.6" font-size="7.4" text-anchor="middle" textLength="27.4" lengthAdjust="spacingAndGlyphs" stroke="#000" stroke-width="0.18" transform="rotate(-5 157.5 114)">-5e+06</text>
<text x="255.5" y="110.1" font-size="7.4" text-anchor="middle" textLength="24.6" lengthAdjust="spacingAndGlyphs" stroke="#000" stroke-width="0.18" transform="rotate(-28 255.5 107.5)">5e+06</text>
<text x="366.2" y="67.8" font-size="7.4" text-anchor="middle" textLength="24.6" lengthAdjust="spacingAndGlyphs" stroke="#000" stroke-width="0.18" transform="rotate(3 366.2 65.2)">5e+06</text>
<text x="344.3" y="121.2" font-size="7.4" text-anchor="middle" textLength="24.6" lengthAdjust="spacingAndGlyphs" stroke="#000" stroke-width="0.18" transform="rotate(-5 344.3 118.6)">5e+06</text>
<text x="410.6" y="110" font-size="7.4" text-anchor="middle" textLength="24.6" lengthAdjust="spacingAndGlyphs" stroke="#000" stroke-width="0.18" transform="rotate(-22 410.6 107.4)">5e+06</text>
<text x="442" y="116.1" font-size="7.4" text-anchor="middle" textLength="27.4" lengthAdjust="spacingAndGlyphs" stroke="#000" stroke-width="0.18" transform="rotate(3 442 113.5)">-5e+06</text>
<text x="418.5" y="143.6" font-size="7.4" text-anchor="middle" textLength="27.4" lengthAdjust="spacingAndGlyphs" stroke="#000" stroke-width="0.18" transform="rotate(-42 418.5 141)">-5e+06</text>
<text x="379.3" y="131.1" font-size="7.4" text-anchor="middle" textLength="27.4" lengthAdjust="spacingAndGlyphs" stroke="#000" stroke-width="0.18" transform="rotate(-3 379.3 128.5)">-2e+07</text>
<text x="252" y="167.2" font-size="7.4" text-anchor="middle" textLength="27.4" lengthAdjust="spacingAndGlyphs" stroke="#000" stroke-width="0.18" transform="rotate(5 252 164.6)">-5e+06</text>
<text x="459.3" y="165.2" font-size="7.4" text-anchor="middle" textLength="24.6" lengthAdjust="spacingAndGlyphs" stroke="#000" stroke-width="0.18" transform="rotate(2 459.3 162.6)">5e+06</text>
<text x="459.7" y="177.4" font-size="7.4" text-anchor="middle" textLength="27.4" lengthAdjust="spacingAndGlyphs" stroke="#000" stroke-width="0.18" transform="rotate(5 459.7 174.8)">-5e+06</text>
<text x="278.6" y="179.2" font-size="7.4" text-anchor="middle" textLength="24.6" lengthAdjust="spacingAndGlyphs" stroke="#000" stroke-width="0.18" transform="rotate(10 278.6 176.6)">5e+06</text>
</g>
<path d="M149.47,57.4 L153.35,57.4 L157.23,57.4 L161.12,57.4 L165,57.4 L168.88,57.4 L172.76,57.4 L176.64,57.4 L180.52,57.4 L184.4,57.4 L188.28,57.4 L192.16,57.4 L196.04,57.4 L199.92,57.4 L203.8,57.4 L207.68,57.4 L211.56,57.4 L215.44,57.4 L219.32,57.4 L223.2,57.4 L227.08,57.4 L230.97,57.4 L234.85,57.4 L238.73,57.4 L242.61,57.4 L246.49,57.4 L250.37,57.4 L254.25,57.4 L258.13,57.4 L262.01,57.4 L265.89,57.4 L269.77,57.4 L273.65,57.4 L277.53,57.4 L281.41,57.4 L285.29,57.4 L289.17,57.4 L293.05,57.4 L296.93,57.4 L300.82,57.4 L304.7,57.4 L308.58,57.4 L312.46,57.4 L316.34,57.4 L320.22,57.4 L324.1,57.4 L327.98,57.4 L331.86,57.4 L335.74,57.4 L339.62,57.4 L343.5,57.4 L347.38,57.4 L351.26,57.4 L355.14,57.4 L359.02,57.4 L362.9,57.4 L366.78,57.4 L370.67,57.4 L374.55,57.4 L378.43,57.4 L378.43,57.4 L381.06,58.1 L384,58.99 L387.2,60.05 L390.62,61.27 L394.22,62.64 L397.97,64.14 L401.81,65.75 L405.62,67.46 L409.29,69.22 L412.74,71.03 L416.01,72.89 L419.14,74.78 L422.19,76.71 L425.17,78.68 L428.09,80.68 L430.96,82.71 L433.79,84.77 L436.55,86.85 L439.25,88.96 L441.89,91.09 L444.44,93.24 L446.91,95.42 L449.28,97.61 L451.51,99.81 L453.62,102.03 L455.64,104.27 L457.6,106.51 L459.5,108.76 L461.32,111.02 L463.02,113.29 L464.61,115.56 L466.09,117.84 L467.48,120.12 L468.78,122.4 L469.99,124.69 L471.09,126.97 L472.08,129.25 L472.96,131.54 L473.73,133.82 L474.41,136.1 L475.04,138.38 L475.65,140.66 L476.23,142.95 L476.77,145.23 L477.25,147.51 L477.65,149.79 L478,152.08 L478.29,154.36 L478.53,156.64 L478.72,158.92 L478.87,161.21 L478.98,163.49 L479.05,165.77 L479,168.05 L478.9,170.34 L478.76,172.62 L478.57,174.9 L478.34,177.18 L478.06,179.47 L478.06,179.47 L470.8,179.47 L463.54,179.47 L456.29,179.47 L449.03,179.47 L441.77,179.47 L434.51,179.47 L427.25,179.47 L420,179.47 L412.74,179.47 L405.48,179.47 L398.22,179.47 L390.96,179.47 L383.71,179.47 L376.45,179.47 L369.19,179.47 L361.93,179.47 L354.67,179.47 L347.42,179.47 L340.16,179.47 L332.9,179.47 L325.64,179.47 L318.38,179.47 L311.13,179.47 L303.87,179.47 L296.61,179.47 L289.35,179.47 L282.09,179.47 L274.84,179.47 L267.58,179.47 L260.32,179.47 L253.06,179.47 L245.81,179.47 L238.55,179.47 L231.29,179.47 L224.03,179.47 L216.77,179.47 L209.52,179.47 L202.26,179.47 L195,179.47 L187.74,179.47 L180.48,179.47 L173.23,179.47 L165.97,179.47 L158.71,179.47 L151.45,179.47 L144.19,179.47 L136.94,179.47 L129.68,179.47 L122.42,179.47 L115.16,179.47 L107.9,179.47 L100.65,179.47 L93.39,179.47 L86.13,179.47 L78.87,179.47 L71.61,179.47 L64.36,179.47 L57.1,179.47 L49.84,179.47 L49.84,179.47 L49.56,177.18 L49.33,174.9 L49.14,172.62 L49,170.34 L48.9,168.05 L48.85,165.77 L48.92,163.49 L49.03,161.21 L49.18,158.92 L49.37,156.64 L49.61,154.36 L49.9,152.08 L50.25,149.79 L50.65,147.51 L51.13,145.23 L51.67,142.95 L52.25,140.66 L52.86,138.38 L53.49,136.1 L54.17,133.82 L54.94,131.54 L55.82,129.25 L56.81,126.97 L57.91,124.69 L59.12,122.4 L60.42,120.12 L61.81,117.84 L63.29,115.56 L64.88,113.29 L66.58,111.02 L68.4,108.76 L70.3,106.51 L72.26,104.27 L74.28,102.03 L76.39,99.81 L78.62,97.61 L80.99,95.42 L83.46,93.24 L86.01,91.09 L88.65,88.96 L91.35,86.85 L94.11,84.77 L96.94,82.71 L99.81,80.68 L102.73,78.68 L105.71,76.71 L108.76,74.78 L111.89,72.89 L115.16,71.03 L118.61,69.22 L122.28,67.46 L126.09,65.75 L129.93,64.14 L133.68,62.64 L137.28,61.27 L140.7,60.05 L143.9,58.99 L146.84,58.1 L149.47,57.4Z" fill="none" stroke="#000" stroke-width="1.1"/>
<text x="85.3" y="88.9" font-size="9.9" text-anchor="end" textLength="23.3" lengthAdjust="spacingAndGlyphs">60°N</text>
<text x="52.1" y="128.8" font-size="9.9" text-anchor="end" textLength="22.5" lengthAdjust="spacingAndGlyphs">30°N</text>
<text x="44.2" y="169.5" font-size="9.9" text-anchor="end" textLength="9.5" lengthAdjust="spacingAndGlyphs">0°</text>
<text x="121.3" y="192" font-size="9.9" text-anchor="middle" textLength="27.5" lengthAdjust="spacingAndGlyphs">120°E</text>
<text x="192.7" y="192" font-size="9.9" text-anchor="middle" textLength="30.4" lengthAdjust="spacingAndGlyphs">180°W</text>
<text x="263.5" y="192" font-size="9.9" text-anchor="middle" textLength="30.4" lengthAdjust="spacingAndGlyphs">120°W</text>
<text x="334.6" y="192" font-size="9.9" text-anchor="middle" textLength="24.6" lengthAdjust="spacingAndGlyphs">60°W</text>
<text x="406" y="192" font-size="9.9" text-anchor="middle" textLength="9.5" lengthAdjust="spacingAndGlyphs">0°</text>
<text x="17.4" y="264.5" font-size="14.4" text-anchor="middle" font-weight="bold" textLength="67" lengthAdjust="spacingAndGlyphs" transform="rotate(-90 17.4 264.5)">Temp +2</text>
<clipPath id="clip1"><path d="M149.47,202.5 L153.35,202.5 L157.23,202.5 L161.12,202.5 L165,202.5 L168.88,202.5 L172.76,202.5 L176.64,202.5 L180.52,202.5 L184.4,202.5 L188.28,202.5 L192.16,202.5 L196.04,202.5 L199.92,202.5 L203.8,202.5 L207.68,202.5 L211.56,202.5 L215.44,202.5 L219.32,202.5 L223.2,202.5 L227.08,202.5 L230.97,202.5 L234.85,202.5 L238.73,202.5 L242.61,202.5 L246.49,202.5 L250.37,202.5 L254.25,202.5 L258.13,202.5 L262.01,202.5 L265.89,202.5 L269.77,202.5 L273.65,202.5 L277.53,202.5 L281.41,202.5 L285.29,202.5 L289.17,202.5 L293.05,202.5 L296.93,202.5 L300.82,202.5 L304.7,202.5 L308.58,202.5 L312.46,202.5 L316.34,202.5 L320.22,202.5 L324.1,202.5 L327.98,202.5 L331.86,202.5 L335.74,202.5 L339.62,202.5 L343.5,202.5 L347.38,202.5 L351.26,202.5 L355.14,202.5 L359.02,202.5 L362.9,202.5 L366.78,202.5 L370.67,202.5 L374.55,202.5 L378.43,202.5 L378.43,202.5 L381.06,203.2 L384,204.09 L387.2,205.15 L390.62,206.37 L394.22,207.74 L397.97,209.24 L401.81,210.85 L405.62,212.56 L409.29,214.32 L412.74,216.13 L416.01,217.99 L419.14,219.88 L422.19,221.81 L425.17,223.78 L428.09,225.78 L430.96,227.81 L433.79,229.87 L436.55,231.95 L439.25,234.06 L441.89,236.19 L444.44,238.34 L446.91,240.52 L449.28,242.71 L451.51,244.91 L453.62,247.13 L455.64,249.37 L457.6,251.61 L459.5,253.86 L461.32,256.12 L463.02,258.39 L464.61,260.66 L466.09,262.94 L467.48,265.22 L468.78,267.5 L469.99,269.79 L471.09,272.07 L472.08,274.35 L472.96,276.64 L473.73,278.92 L474.41,281.2 L475.04,283.48 L475.65,285.76 L476.23,288.05 L476.77,290.33 L477.25,292.61 L477.65,294.89 L478,297.18 L478.29,299.46 L478.53,301.74 L478.72,304.02 L478.87,306.31 L478.98,308.59 L479.05,310.87 L479,313.15 L478.9,315.44 L478.76,317.72 L478.57,320 L478.34,322.28 L478.06,324.57 L478.06,324.57 L470.8,324.57 L463.54,324.57 L456.29,324.57 L449.03,324.57 L441.77,324.57 L434.51,324.57 L427.25,324.57 L420,324.57 L412.74,324.57 L405.48,324.57 L398.22,324.57 L390.96,324.57 L383.71,324.57 L376.45,324.57 L369.19,324.57 L361.93,324.57 L354.67,324.57 L347.42,324.57 L340.16,324.57 L332.9,324.57 L325.64,324.57 L318.38,324.57 L311.13,324.57 L303.87,324.57 L296.61,324.57 L289.35,324.57 L282.09,324.57 L274.84,324.57 L267.58,324.57 L260.32,324.57 L253.06,324.57 L245.81,324.57 L238.55,324.57 L231.29,324.57 L224.03,324.57 L216.77,324.57 L209.52,324.57 L202.26,324.57 L195,324.57 L187.74,324.57 L180.48,324.57 L173.23,324.57 L165.97,324.57 L158.71,324.57 L151.45,324.57 L144.19,324.57 L136.94,324.57 L129.68,324.57 L122.42,324.57 L115.16,324.57 L107.9,324.57 L100.65,324.57 L93.39,324.57 L86.13,324.57 L78.87,324.57 L71.61,324.57 L64.36,324.57 L57.1,324.57 L49.84,324.57 L49.84,324.57 L49.56,322.28 L49.33,320 L49.14,317.72 L49,315.44 L48.9,313.15 L48.85,310.87 L48.92,308.59 L49.03,306.31 L49.18,304.02 L49.37,301.74 L49.61,299.46 L49.9,297.18 L50.25,294.89 L50.65,292.61 L51.13,290.33 L51.67,288.05 L52.25,285.76 L52.86,283.48 L53.49,281.2 L54.17,278.92 L54.94,276.64 L55.82,274.35 L56.81,272.07 L57.91,269.79 L59.12,267.5 L60.42,265.22 L61.81,262.94 L63.29,260.66 L64.88,258.39 L66.58,256.12 L68.4,253.86 L70.3,251.61 L72.26,249.37 L74.28,247.13 L76.39,244.91 L78.62,242.71 L80.99,240.52 L83.46,238.34 L86.01,236.19 L88.65,234.06 L91.35,231.95 L94.11,229.87 L96.94,227.81 L99.81,225.78 L102.73,223.78 L105.71,221.81 L108.76,219.88 L111.89,217.99 L115.16,216.13 L118.61,214.32 L122.28,212.56 L126.09,210.85 L129.93,209.24 L133.68,207.74 L137.28,206.37 L140.7,205.15 L143.9,204.09 L146.84,203.2 L149.47,202.5Z"/></clipPath>
<g clip-path="url(#clip1)" id="mapbody1">
<path d="M227.5 206l10.5 -0.5 10 0 9 1 8 1.5 7 2 6 3 4.5 3 3 4 2.5 5 1.5 5 0.5 5 -1 5 -2.5 7 -7.5 19 -3 5 -4 4 -3 1.5 -4 0.5 -4 -1 -3 -1.5 -3 -3.5 -7 -10 -12 -13 -8 -12.5 -3.5 -4.5 -3.5 -2.5 -4 -2 -20.5 -7.5 -3 -2 -0.5 -1 0 -1.5 1.5 -1.5 6.5 -2.5 12 -2.5 14.5 -2zM319.5 210l2.5 -0.5 3 0 4 1.5 2.5 3 2 7 1.5 1.5 18 2 4 1 5 3 13.5 10.5 6.5 6 1.5 3 0.5 2 -0.5 2 -1 2 -3.5 3.5 -5 3 -6 2.5 -6 1.5 -7 1 -7 0 -5 -1 -4 -2 -3 -2.5 -4.5 -5 -5.5 -7 -2.5 -5 -1 -4 0.5 -3 5 -10 -0.5 -1 -0.5 -0.5 -8 -3 -3.5 -3.5 -1 -3 1 -2 1.5 -1.5 2.5 -1.5zM449 231l7 -0.5 7 0.5 6 2 4.5 3 3.5 4 1.5 5 -1 5 -3 4 -3.5 3 -6 3 -7 2 -7 1 -8 0 -7 -1 -5.5 -2 -5 -3 -2 -3 -1 -4 0.5 -3 3 -4 4.5 -4 5.5 -3 7 -3.5 6 -1.5zM87.5 233l2.5 0 2 1 0.5 2 0 2 -1.5 5 -2 5 -2 4 -3 4 -5.5 4 -7.5 3.5 -6 0.5 -2.5 -1 -1.5 -1 -1 -3 0.5 -3 2.5 -4 3 -4 6 -5.5 6 -4.5 5 -3 4.5 -2zM143 260l8 0 8 0.5 16 2.5 20 5.5 17 7.5 10 5 6 4 21 17.5 3.5 3.5 2.5 3 1 3 0 3 -2 2 -4 0.5 -6 0 -7 -0.5 -14 -3 -28 -7.5 -34 -4.5 -6 -1.5 -5 -2 -5 -3 -4 -3.5 -7.5 -10 -8.5 -9 -2 -4 0.5 -3 1.5 -1.5 2.5 -1.5 7.5 -2 8 -1zM317.5 287l4.5 0.5 2.5 1.5 1 2 -1 2 -3.5 2 -5 0.5 -5 -1 -2.5 -1.5 -0.5 -1 0.5 -2 1.5 -1 3 -1.5 4.5 -0.5zM366 314l19 -0.5 30 1.5 41 1 9.5 1 7.5 2 5 2 1 2 -0.5 2 -3 2 -9.5 3 -126.5 0 -3.5 -3 -0.5 -2 1 -2 2.5 -2 4 -2 10 -3 13 -2zM102.5 316l5.5 0 5 1 3 2 0.5 2 -0.5 1 -2 1.5 -6 1.5 -7 -0.5 -4 -1.5 -1.5 -2 0.5 -2 3 -2 3.5 -1z" fill="#fee8b6" fill-rule="evenodd"/>
<path d="M237 211l16 1 6 1 6 1.5 4 2 4 2.5 4 4 3 4 2 5 1 4 0.5 4 -1 5 -2.5 9 -3 8 -3 4.5 -3 3 -3 1 -3 0.5 -4 -1.5 -3 -2 -18.5 -19.5 -4 -6 -4 -11 -2.5 -3 -4 -3 -10.5 -5 -2.5 -2 -0.5 -1 0 -1 1 -1 5.5 -2 8 -1 11 -1zM344 228l7 0 6 1.5 6 3 7 5.5 4 4 2.5 4 0 4 -2 4 -3.5 3 -5 3 -5 1.5 -6 1 -5 0.5 -5 -1 -4 -1.5 -4 -2.5 -4.5 -5 -3 -5 -2 -4 0 -4 2 -4 3.5 -3.5 5 -3 6 -1.5zM447.5 236l5.5 -0.5 5 0 5 1.5 3.5 2 2.5 3 1.5 3 -0.5 4 -1.5 3 -3 3 -3.5 2 -5 2 -5 1 -6 0 -5 -0.5 -4.5 -1.5 -3.5 -2 -1.5 -2 -1.5 -3 0.5 -3 1.5 -3 2.5 -3 3.5 -2.5 5 -2 4.5 -1.5zM80.5 243l2.5 0 1 2 -1 4 -2 3.5 -3 3 -4 2.5 -3 1 -3 -0.5 -1 -1 0 -1.5 0.5 -2 2 -3 5.5 -5 5.5 -3zM148.5 263l11.5 0 14 2 16 4 14 5.5 11.5 6.5 8 6 21.5 18 2.5 3 1 2 -0.5 1 -2 1.5 -4 1 -6 -0.5 -7 -1 -10 -2 -23 -6 -30 -5 -7 -2.5 -5 -2 -6 -3 -5 -4.5 -7.5 -9 -2.5 -5 0 -2 0.5 -2 2.5 -2.5 5 -2 7.5 -1.5zM370.5 316l18.5 0 54 3 11 2 3 1 1 1 0 1 -1.5 1 -6.5 2 -9 1.5 -19.5 1.5 -66 0 -5 -2 -1.5 -1 -1.5 -2 0.5 -2 0.5 -1 4.5 -2.5 8 -2 9.5 -1.5z" fill="#fdd585" fill-rule="evenodd"/>
<path d="M239 217l6 -0.5 6 0.5 5 0.5 5 1.5 4 2 4 2.5 4 3.5 2.5 3 1.5 3 1.5 4 0.5 4 -0.5 5 -1.5 6 -2 6 -2 3.5 -3 3 -2 1 -3 0 -2 -0.5 -3 -1.5 -13 -11 -5.5 -6.5 -1.5 -3 -1.5 -4 -1.5 -13 -3 -6 0 -1 1 -1 4 -1zM342.5 232l5.5 -0.5 6 0.5 6 2 5 3 4.5 4 2 4 0.5 4 -1.5 3 -3 3 -3.5 2 -4 2 -5 1 -5 0 -4 -0.5 -4 -1 -3 -2 -3.5 -3.5 -3 -4 -1 -4 0 -3 1 -3 2.5 -3 3 -2 4.5 -2zM448.5 240l3.5 -0.5 4 0.5 3 1 3 2 1.5 2 0.5 2 -1 3 -1.5 2 -4.5 3 -7 2 -6 -0.5 -3 -1 -2 -1.5 -2 -2 -0.5 -2 0.5 -2 1 -2 4 -3.5 3 -1.5 3.5 -1zM150.5 266l10.5 -0.5 12 1 13 3.5 13 4.5 10 5.5 8 6 19 17 1.5 2 0.5 2 -1 1 -3 1 -5 -0.5 -6 -0.5 -28 -7 -25 -4.5 -7 -2 -6 -2.5 -6 -3.5 -5 -4 -4.5 -5.5 -1.5 -4 0 -3 2 -2.5 3 -2 5.5 -1.5zM378 318l13 0.5 16.5 1.5 11.5 2 3 1 0.5 1 -6.5 2 -11.5 2 -11.5 1.5 -11 0.5 -9 -0.5 -8 -1.5 -5.5 -2 -1.5 -2 1.5 -2 4.5 -2 6 -1 8 -1z" fill="#fdbb6d" fill-rule="evenodd"/>
<path d="M252.5 224l3.5 0 3 0.5 6 2 3 2 3 2.5 3 5 1 6 0 4 -1 4 -1.5 4 -1.5 3 -2 2 -1.5 1 -2.5 0.5 -2 -0.5 -6 -3 -9 -7.5 -2.5 -3.5 -1.5 -3 -1 -3 -0.5 -3 0.5 -3 1 -3 1.5 -3 2 -2 2.5 -1.5 2.5 -0.5zM343.5 235l4.5 -1 5 0.5 5 1.5 4 2 3.5 3 2 3 0.5 2 -0.5 2 -1 3 -2 2 -3 2 -3.5 1.5 -4 1 -7 0 -3 -1 -3 -1.5 -2.5 -2 -2.5 -3 -1 -3 -0.5 -3 1 -3 1.5 -2 3 -2.5 3.5 -1.5zM447.5 246l2.5 -0.5 3 0 2 1.5 0 2 -1 1.5 -2 1 -3 0.5 -2 -0.5 -1.5 -1.5 -0.5 -1 1 -2 1.5 -1zM157 268l9 0 10 1 11 3 10 4 9 5 8.5 7 9.5 10 1.5 2 0 2 -1 1 -2.5 0.5 -8 -1 -19 -4.5 -23 -4 -7 -2 -6 -2.5 -5 -3 -4 -3.5 -3 -4 -1 -3 0.5 -3 2 -2 3.5 -2 5 -1zM375.5 322l6.5 -0.5 6 0.5 5.5 1 0.5 1 -2 1 -4 1 -9 0 -4.5 -1 -1.5 -1 0 -1 2.5 -1z" fill="#fb9d59" fill-rule="evenodd"/>
<path d="M253.5 230l4.5 -0.5 5 1 4 2.5 3 4 1.5 5 -0.5 5 -2 5 -3 2.5 -3 0.5 -5 -2 -6 -4.5 -3.5 -4.5 -1.5 -4 0.5 -4 2.5 -4 3.5 -2zM347 237l4 0 4 0.5 3.5 1.5 3 2 1.5 2 1 3 -1 3 -1.5 2 -4.5 3 -6 1 -6 -1 -4 -2.5 -2 -2 -1 -2.5 0 -2 0.5 -2 1 -2 2.5 -2 5 -2zM157.5 271l7.5 -1 8 0.5 10 2.5 9 3 9 5 6.5 5 5.5 6 1 2 0.5 2 -1 1 -1.5 0.5 -7 -0.5 -29.5 -5 -6.5 -1.5 -6 -2.5 -4 -2 -4 -3 -2.5 -3 -0.5 -2 -0.5 -2 1 -2 2.5 -2 2.5 -1z" fill="#f67c4a" fill-rule="evenodd"/>
<path d="M256 235l2 -0.5 3 0.5 2 1 2 2 1.5 3 0 3 -0.5 2 -2 2.5 -2 0.5 -3 -0.5 -3 -2 -2 -2.5 -1 -2 -0.5 -3 1.5 -2.5 2 -1.5zM348 240l5 0 4.5 2 2 3 0 2 -1 2 -3.5 2.5 -4 0.5 -4 -0.5 -3 -1.5 -2 -3 0.5 -3 1.5 -2 4 -2zM163.5 273l5.5 -0.5 6 0.5 7 1.5 7 2.5 5.5 3 6 4 3.5 4 0.5 2 0 1 -1.5 1 -2 0.5 -9 -0.5 -15 -2 -10 -3 -6.5 -4 -2 -2 -1 -2 0 -2 1.5 -2 1.5 -1 3 -1z" fill="#ec5c3b" fill-rule="evenodd"/>
<path d="M167.5 276l3.5 -0.5 4 0.5 9.5 2 4 2 4.5 3 1.5 2 0 1 0 1 -3.5 1 -6 0 -7 -1 -7 -2 -3.5 -2 -3 -3 0 -2 1 -1 2 -1z" fill="#dd3d2d" fill-rule="evenodd"/>
<path d="M400 207l8 -0.5 7 0.5 6 0.5 6 2 4 2 3.5 2.5 1 3 0 3 -1.5 3 -3 3 -8 6 -10 5 -5 1.5 -5 1 -9 0 -8 -2 -8 -4 -3 -2.5 -3 -3 -1.5 -3 -0.5 -4 1 -3 1.5 -2 5.5 -3 7 -2.5 7 -2 8 -1.5zM346 210l4 -1 4 0.5 3.5 1.5 1 2 -0.5 1 -3 1.5 -4 0.5 -3 -0.5 -2.5 -1.5 -1 -1 0.5 -2 1 -1zM117 216l8 -0.5 8 0.5 6.5 2 1 1 0.5 1 -0.5 1 -1.5 1 -5 1.5 -7 0.5 -7 -0.5 -5.5 -1.5 -3 -2 -0.5 -1 0.5 -1 2 -1 3.5 -1zM164.5 226l14.5 -0.5 13 1.5 13 2.5 9 4 4 2.5 3.5 3 8.5 10 10 11 2 3 1 3 0.5 3 -1 3 -2.5 2.5 -4 1 -5 0.5 -5 -0.5 -9 -2.5 -21 -8 -20 -6 -19 -4.5 -28 -3.5 -8 -1 -8.5 -3 -1.5 -1 -1.5 -2 0 -3 2 -3 4.5 -3 5 -1.5 10 -3 10 -1.5 23.5 -3zM306 246l4 0 4 0.5 3 1 4 2.5 6.5 6 8.5 13 3 2 4 1 6 0.5 11 -1 54 -4.5 28 1.5 24 0.5 9 1 4 1.5 4 2.5 0 22 -4 4 -6 4 -7 2.5 -8 1.5 -40 2 -37 -1.5 -14 0.5 -32 3.5 -6 1.5 -16 6 -10 2 -7 0.5 -6 0 -6 -1 -6 -2 -4 -2 -3 -2 -2.5 -3.5 -1.5 -3 0 -3 0.5 -2 2 -2 3.5 -2 9 -3 7 -1 7 1 18 4.5 4 0 4 0 4 -1 3 -2 3.5 -3.5 2 -3 0 -3 -1 -3 -2.5 -2.5 -3 -1.5 -7 -0.5 -18 1.5 -7 0 -5 -1 -3 -2.5 -1.5 -4.5 0.5 -5 1 -6 2.5 -6 3.5 -4.5 4 -4 4 -2 4 -1.5zM44 267l0 -0.5 2 0.5 8 2.5 5 1 6 -0.5 12 -2 6 0 6 0.5 8 2 14 5 6 3 3.5 2.5 2.5 2 2 3 0.5 3 -0.5 3 -2.5 5 -3.5 3.5 -6 2.5 -8 1.5 -16 1 -16 0 -14 -1 -10.5 -2.5 -4.5 -1.5 0 -33.5zM155 311l9 -0.5 10 0.5 11 0.5 10 1.5 10 2 11 3 6.5 3 1.5 2 -1 1.5 -3 1.5 -9 2 -15 1 -18 0 -15 -1.5 -12 -2 -7 -3 -2.5 -1.5 -1.5 -2 0 -2 0.5 -1 2 -2 5.5 -2 7 -1zM48 314l13 -0.5 10 0.5 6 2 1 1 0.5 2 -1.5 2 -1.5 1 -3.5 1.5 -4 0.5 -12 0.5 -12 -1 0 -9 4 -0.5z" fill="#e9f6fb" fill-rule="evenodd"/>
<path d="M398 212l11 -0.5 9 2 4 1.5 2 2 1 2 0 3 -3 4 -5 4 -7 3.5 -8 2 -7 0.5 -7 -1 -6 -2.5 -4 -3.5 -1.5 -2 -0.5 -3 1 -3 1.5 -2 3.5 -2 5 -2.5 11 -2.5zM169 230l12 -1 12 1 10 2 9 4 7 5 17 18 3 5 0 3 -0.5 2 -2.5 2.5 -4 1 -5 0 -5 -0.5 -7 -2.5 -16 -6 -10 -3 -24 -7 -26.5 -6.5 -4.5 -2 -2.5 -2 0 -1 0.5 -2 3.5 -2 3.5 -1.5 13.5 -3.5 16.5 -3zM306.5 250l4.5 -0.5 5 1 5 2 4 3.5 3.5 5 2 6 1 6 -1.5 2.5 -3 1.5 -6 1.5 -14 1.5 -8 -0.5 -3 -1.5 -2.5 -2 -1.5 -3 -1 -4 0.5 -4 1.5 -4 2.5 -4 3 -3 3.5 -2 4.5 -2zM69.5 272l7.5 -0.5 7 0.5 11 2.5 11 3 6 2.5 4.5 3 2 3 0 3 -1.5 2.5 -3 2.5 -4 2.5 -5 2 -10 2.5 -13 0.5 -10 -0.5 -8.5 -2 -19.5 -11 0 -15 13 0.5 12.5 -1.5zM414.5 272l12.5 -0.5 20 0 11 0.5 7 1.5 6 2 4 3.5 1.5 2 1 3 0 5 -1 3 -2 3 -2.5 2.5 -3 2 -7 3 -10 2 -26 2.5 -11 0 -42 -1.5 -22 2 -8 0.5 -10.5 -1 -2.5 -1 -0.5 -1 2 -4 5 -6 2 -3 0.5 -3 -1.5 -8 0.5 -2 2 -1.5 6 -1 11 -1.5 13 -0.5 24 0 20.5 -2.5zM283.5 301l7.5 -1 9 1 21 5 2.5 1 0.5 1 -1 2 -4 3 -5 2.5 -5 2 -5 1 -6 0.5 -6 0 -5 -0.5 -5 -1.5 -4.5 -2 -2.5 -2 -2 -3 0.5 -3 1.5 -2 3 -2 5.5 -2zM162.5 315l12.5 -0.5 16 1 8.5 1.5 7.5 2 3.5 2 0 1 -0.5 1 -2.5 1 -10.5 1.5 -13 0 -13 -1 -9 -2 -5.5 -2.5 -0.5 -1 0 -1 1 -1 2 -1 3.5 -1z" fill="#d2eaf2" fill-rule="evenodd"/>
<path d="M397 216l8 -0.5 7 1.5 2 1 2 2 0 3 -2 3 -4 3 -5 2 -5 1 -5 0.5 -5 -1 -4 -1 -3 -2.5 -1 -2 0 -2 2 -3 5.5 -3 7.5 -2zM173 233l10 -1 10 0.5 9 2 8 3.5 7 5 15 15 2.5 3 0.5 2 0.5 2 -1 2 -2 2 -3.5 1 -5 0 -5 -1 -20 -7.5 -37.5 -12.5 -7 -3 -3 -2 -0.5 -1 0 -2 4.5 -3 8.5 -3 9 -2zM306 253l5 -1 4 0.5 4 1.5 4 3 3 4 1.5 5 -0.5 4 -2 3.5 -2.5 1.5 -3.5 1.5 -9 1.5 -7.5 -1 -2.5 -1 -2.5 -2 -1.5 -2 -1 -3 0 -3 1 -4 2 -3 2 -2 3 -2.5 3 -1.5zM69 275l6 -0.5 6 0.5 18.5 4 6 2 3.5 2 2 2 0.5 2 -0.5 1.5 -2 1.5 -6 2.5 -10 2 -9 0.5 -9 -1.5 -14 -4 -7 -3 -2 -1.5 -2 -2 0 -2 0.5 -1 2.5 -1.5 6 -1.5 10 -2zM422 275l11 -0.5 13 0 8.5 0.5 6.5 1.5 5 2.5 3.5 3 2 4 -0.5 4 -1.5 3 -3 3 -3.5 2 -4 1.5 -8 1.5 -24 2.5 -9 0.5 -9 0 -24 -2.5 -10 0 -7 0.5 -15 2.5 -7 0.5 -6 -1 -2 -1 -1 -1 0 -1 0.5 -2 5.5 -7 0.5 -2 0 -5 1 -2 1.5 -2 4 -1.5 7 -1.5 9 -0.5 24 1 7 0 25 -3.5zM289.5 303l7.5 0 9 1.5 5.5 2.5 1 1 0.5 2 -1 2 -3.5 2 -4.5 1.5 -6 1 -6 0 -5 -1 -4 -1.5 -3 -2 -0.5 -1 -0.5 -2 1 -2 4 -2.5 5.5 -1.5zM182.5 320l3 0 -3 0z" fill="#b9e0ed" fill-rule="evenodd"/>
<path d="M396 221l4 -0.5 3 0.5 2 1 0.5 1 0 1 -2.5 2 -4 1.5 -5 0 -2.5 -1.5 -0.5 -1 1 -2 4 -2zM183 235l8 0 7 1 6.5 2 5.5 3 6 4.5 13 12.5 2 4 0.5 2 -0.5 1 -2 1.5 -3 1 -4 -0.5 -4 -1 -17 -6.5 -25 -8.5 -8 -4 -3.5 -3 -0.5 -2 0.5 -1 3.5 -2.5 7 -2 8 -1.5zM308 255l4 -0.5 4 0.5 3 1.5 3 2.5 2 3 0.5 4 -0.5 3 -2 3 -5 2.5 -7 1 -6 -1 -4 -2.5 -1 -2 -1 -3 0.5 -3 1 -2 3.5 -4.5 5 -2.5zM426 278l18 -0.5 7 0.5 5 1 4 1.5 3.5 2.5 1.5 3 0.5 3 -1 2 -1.5 2 -4 2.5 -5 2 -8 1 -22 2 -9 0 -9 -0.5 -17 -2.5 -10 -0.5 -12 1 -16 4 -5 -0.5 -1.5 -0.5 -1 -1 0.5 -2 3.5 -4 1 -2 1 -5 0.5 -2 2.5 -2 3.5 -1 6 -1 7 -0.5 20 2 7 0.5 7 -1 23 -4zM69.5 279l8.5 0 12.5 2 6.5 2 3 2 0 1 -1 1.5 -4 1 -5 0.5 -7 -0.5 -8 -1 -6 -1 -3.5 -1.5 -2.5 -2 0 -1 1 -1 1.5 -1 4 -1zM290.5 306l4.5 -0.5 5 0.5 4.5 2 1 1 0 1 -2 2 -3.5 1.5 -5 0 -5 -0.5 -4 -2 -0.5 -2 2 -2 3 -1z" fill="#9dcee3" fill-rule="evenodd"/>
<path d="M185.5 238l6.5 0 6 1 5 1.5 5 2.5 5.5 4 10.5 10 2 3 0 2.5 -1 1 -2 0.5 -3 0 -4 -1.5 -32 -11.5 -6 -3 -3.5 -3 -0.5 -2 1.5 -2 4.5 -2 5.5 -1zM309.5 257l3.5 -0.5 3 0.5 3 2 2 2 1 3 0 3 -2 3 -2 1.5 -4 1.5 -5 0.5 -4 -1.5 -3 -3 -0.5 -3 1 -4 3 -3 4 -2zM434 281l11 0 8 1.5 4.5 2.5 1 2 0 2 -1.5 2 -1 1 -5.5 2 -27.5 2.5 -8 0 -6 -1 -6 -2.5 -2 -2 0 -1 3 -2 7.5 -3 11.5 -2.5 11 -1.5zM363.5 285l5.5 0 5 0.5 5 1.5 1.5 1 0 1 -0.5 1 -3 1 -6 1 -7 0.5 -4.5 -1.5 -1.5 -2 1 -2 1 -1 3.5 -1z" fill="#81b7d7" fill-rule="evenodd"/>
<path d="M188 242l4 -0.5 4 0.5 4.5 1 3.5 2 3.5 2 4.5 4 3 4 0.5 1 0 1 -2.5 0 -4 -1 -13 -4 -7 -3 -3 -2 -1.5 -2 0 -1 1 -1 2.5 -1zM308.5 260l4.5 -1 2 0.5 2 1 1.5 1.5 0.5 2 0 2 -1 2 -3 2 -3 1 -3 -0.5 -3 -1.5 -1 -2 0 -3 1 -2 2.5 -2z" fill="#679ec9" fill-rule="evenodd"/>
<path d="M311.5 263l1.5 0 1 0.5 0.5 1.5 -0.5 1 -2 1 -2 -1 -0.5 -1 0.5 -1 1.5 -1z" fill="#5183bb" fill-rule="evenodd"/>
<g fill="#111"><circle cx="55.6" cy="319.3" r="1.02"/><circle cx="63.5" cy="319.3" r="1.02"/><circle cx="71.3" cy="319.3" r="1.02"/><circle cx="94.9" cy="319.3" r="1.02"/><circle cx="102.8" cy="319.3" r="1.02"/><circle cx="110.7" cy="319.3" r="1.02"/><circle cx="118.6" cy="319.3" r="1.02"/><circle cx="126.4" cy="319.3" r="1.02"/><circle cx="134.3" cy="319.3" r="1.02"/><circle cx="142.2" cy="319.3" r="1.02"/><circle cx="150.0" cy="319.3" r="1.02"/><circle cx="157.9" cy="319.3" r="1.02"/><circle cx="165.8" cy="319.3" r="1.02"/><circle cx="173.7" cy="319.3" r="1.02"/><circle cx="181.5" cy="319.3" r="1.02"/><circle cx="189.4" cy="319.3" r="1.02"/><circle cx="197.3" cy="319.3" r="1.02"/><circle cx="291.7" cy="319.3" r="1.02"/><circle cx="299.6" cy="319.3" r="1.02"/><circle cx="307.5" cy="319.3" r="1.02"/><circle cx="315.4" cy="319.3" r="1.02"/><circle cx="323.2" cy="319.3" r="1.02"/><circle cx="331.1" cy="319.3" r="1.02"/><circle cx="339.0" cy="319.3" r="1.02"/><circle cx="346.8" cy="319.3" r="1.02"/><circle cx="354.7" cy="319.3" r="1.02"/><circle cx="362.6" cy="319.3" r="1.02"/><circle cx="370.5" cy="319.3" r="1.02"/><circle cx="378.3" cy="319.3" r="1.02"/><circle cx="386.2" cy="319.3" r="1.02"/><circle cx="394.1" cy="319.3" r="1.02"/><circle cx="401.9" cy="319.3" r="1.02"/><circle cx="409.8" cy="319.3" r="1.02"/><circle cx="417.7" cy="319.3" r="1.02"/><circle cx="425.6" cy="319.3" r="1.02"/><circle cx="433.4" cy="319.3" r="1.02"/><circle cx="441.3" cy="319.3" r="1.02"/><circle cx="449.2" cy="319.3" r="1.02"/><circle cx="457.0" cy="319.3" r="1.02"/><circle cx="464.9" cy="319.3" r="1.02"/><circle cx="472.8" cy="319.3" r="1.02"/><circle cx="94.6" cy="311.8" r="1.02"/><circle cx="102.5" cy="311.8" r="1.02"/><circle cx="110.4" cy="311.8" r="1.02"/><circle cx="118.3" cy="311.8" r="1.02"/><circle cx="126.2" cy="311.8" r="1.02"/><circle cx="134.1" cy="311.8" r="1.02"/><circle cx="141.9" cy="311.8" r="1.02"/><circle cx="149.8" cy="311.8" r="1.02"/><circle cx="157.7" cy="311.8" r="1.02"/><circle cx="165.6" cy="311.8" r="1.02"/><circle cx="173.5" cy="311.8" r="1.02"/><circle cx="181.4" cy="311.8" r="1.02"/><circle cx="189.3" cy="311.8" r="1.02"/><circle cx="197.2" cy="311.8" r="1.02"/><circle cx="205.0" cy="311.8" r="1.02"/><circle cx="212.9" cy="311.8" r="1.02"/><circle cx="220.8" cy="311.8" r="1.02"/><circle cx="228.7" cy="311.8" r="1.02"/><circle cx="236.6" cy="311.8" r="1.02"/><circle cx="244.5" cy="311.8" r="1.02"/><circle cx="252.4" cy="311.8" r="1.02"/><circle cx="260.2" cy="311.8" r="1.02"/><circle cx="291.8" cy="311.8" r="1.02"/><circle cx="299.7" cy="311.8" r="1.02"/><circle cx="307.6" cy="311.8" r="1.02"/><circle cx="315.5" cy="311.8" r="1.02"/><circle cx="323.3" cy="311.8" r="1.02"/><circle cx="331.2" cy="311.8" r="1.02"/><circle cx="339.1" cy="311.8" r="1.02"/><circle cx="347.0" cy="311.8" r="1.02"/><circle cx="354.9" cy="311.8" r="1.02"/><circle cx="362.8" cy="311.8" r="1.02"/><circle cx="370.7" cy="311.8" r="1.02"/><circle cx="378.5" cy="311.8" r="1.02"/><circle cx="386.4" cy="311.8" r="1.02"/><circle cx="394.3" cy="311.8" r="1.02"/><circle cx="402.2" cy="311.8" r="1.02"/><circle cx="410.1" cy="311.8" r="1.02"/><circle cx="418.0" cy="311.8" r="1.02"/><circle cx="425.9" cy="311.8" r="1.02"/><circle cx="433.7" cy="311.8" r="1.02"/><circle cx="441.6" cy="311.8" r="1.02"/><circle cx="449.5" cy="311.8" r="1.02"/><circle cx="457.4" cy="311.8" r="1.02"/><circle cx="465.3" cy="311.8" r="1.02"/><circle cx="473.2" cy="311.8" r="1.02"/><circle cx="157.9" cy="304.2" r="1.02"/><circle cx="165.7" cy="304.2" r="1.02"/><circle cx="173.6" cy="304.2" r="1.02"/><circle cx="181.5" cy="304.2" r="1.02"/><circle cx="189.4" cy="304.2" r="1.02"/><circle cx="197.2" cy="304.2" r="1.02"/><circle cx="205.1" cy="304.2" r="1.02"/><circle cx="213.0" cy="304.2" r="1.02"/><circle cx="220.9" cy="304.2" r="1.02"/><circle cx="228.7" cy="304.2" r="1.02"/><circle cx="236.6" cy="304.2" r="1.02"/><circle cx="244.5" cy="304.2" r="1.02"/><circle cx="252.4" cy="304.2" r="1.02"/><circle cx="260.3" cy="304.2" r="1.02"/><circle cx="331.1" cy="304.2" r="1.02"/><circle cx="339.0" cy="304.2" r="1.02"/><circle cx="346.9" cy="304.2" r="1.02"/><circle cx="354.8" cy="304.2" r="1.02"/><circle cx="362.6" cy="304.2" r="1.02"/><circle cx="370.5" cy="304.2" r="1.02"/><circle cx="378.4" cy="304.2" r="1.02"/><circle cx="386.3" cy="304.2" r="1.02"/><circle cx="142.6" cy="296.7" r="1.02"/><circle cx="150.4" cy="296.7" r="1.02"/><circle cx="158.3" cy="296.7" r="1.02"/><circle cx="166.1" cy="296.7" r="1.02"/><circle cx="174.0" cy="296.7" r="1.02"/><circle cx="181.8" cy="296.7" r="1.02"/><circle cx="189.7" cy="296.7" r="1.02"/><circle cx="197.5" cy="296.7" r="1.02"/><circle cx="205.3" cy="296.7" r="1.02"/><circle cx="213.2" cy="296.7" r="1.02"/><circle cx="221.0" cy="296.7" r="1.02"/><circle cx="228.9" cy="296.7" r="1.02"/><circle cx="236.7" cy="296.7" r="1.02"/><circle cx="244.6" cy="296.7" r="1.02"/><circle cx="307.3" cy="296.7" r="1.02"/><circle cx="315.2" cy="296.7" r="1.02"/><circle cx="323.0" cy="296.7" r="1.02"/><circle cx="330.9" cy="296.7" r="1.02"/><circle cx="338.7" cy="296.7" r="1.02"/><circle cx="346.6" cy="296.7" r="1.02"/><circle cx="354.4" cy="296.7" r="1.02"/><circle cx="362.3" cy="296.7" r="1.02"/><circle cx="370.1" cy="296.7" r="1.02"/><circle cx="378.0" cy="296.7" r="1.02"/><circle cx="385.8" cy="296.7" r="1.02"/><circle cx="393.6" cy="296.7" r="1.02"/><circle cx="401.5" cy="296.7" r="1.02"/><circle cx="409.3" cy="296.7" r="1.02"/><circle cx="417.2" cy="296.7" r="1.02"/><circle cx="425.0" cy="296.7" r="1.02"/><circle cx="432.9" cy="296.7" r="1.02"/><circle cx="440.7" cy="296.7" r="1.02"/><circle cx="448.6" cy="296.7" r="1.02"/><circle cx="456.4" cy="296.7" r="1.02"/><circle cx="464.3" cy="296.7" r="1.02"/><circle cx="472.1" cy="296.7" r="1.02"/><circle cx="57.7" cy="289.1" r="1.02"/><circle cx="65.5" cy="289.1" r="1.02"/><circle cx="73.2" cy="289.1" r="1.02"/><circle cx="81.0" cy="289.1" r="1.02"/><circle cx="88.8" cy="289.1" r="1.02"/><circle cx="96.6" cy="289.1" r="1.02"/><circle cx="104.4" cy="289.1" r="1.02"/><circle cx="135.6" cy="289.1" r="1.02"/><circle cx="143.4" cy="289.1" r="1.02"/><circle cx="151.2" cy="289.1" r="1.02"/><circle cx="159.0" cy="289.1" r="1.02"/><circle cx="166.8" cy="289.1" r="1.02"/><circle cx="174.6" cy="289.1" r="1.02"/><circle cx="182.4" cy="289.1" r="1.02"/><circle cx="190.1" cy="289.1" r="1.02"/><circle cx="197.9" cy="289.1" r="1.02"/><circle cx="205.7" cy="289.1" r="1.02"/><circle cx="213.5" cy="289.1" r="1.02"/><circle cx="221.3" cy="289.1" r="1.02"/><circle cx="229.1" cy="289.1" r="1.02"/><circle cx="307.1" cy="289.1" r="1.02"/><circle cx="314.8" cy="289.1" r="1.02"/><circle cx="322.6" cy="289.1" r="1.02"/><circle cx="330.4" cy="289.1" r="1.02"/><circle cx="338.2" cy="289.1" r="1.02"/><circle cx="346.0" cy="289.1" r="1.02"/><circle cx="353.8" cy="289.1" r="1.02"/><circle cx="361.6" cy="289.1" r="1.02"/><circle cx="369.4" cy="289.1" r="1.02"/><circle cx="377.2" cy="289.1" r="1.02"/><circle cx="385.0" cy="289.1" r="1.02"/><circle cx="392.8" cy="289.1" r="1.02"/><circle cx="400.6" cy="289.1" r="1.02"/><circle cx="408.4" cy="289.1" r="1.02"/><circle cx="416.2" cy="289.1" r="1.02"/><circle cx="424.0" cy="289.1" r="1.02"/><circle cx="431.7" cy="289.1" r="1.02"/><circle cx="439.5" cy="289.1" r="1.02"/><circle cx="447.3" cy="289.1" r="1.02"/><circle cx="455.1" cy="289.1" r="1.02"/><circle cx="462.9" cy="289.1" r="1.02"/><circle cx="470.7" cy="289.1" r="1.02"/><circle cx="59.6" cy="281.6" r="1.02"/><circle cx="67.3" cy="281.6" r="1.02"/><circle cx="75.0" cy="281.6" r="1.02"/><circle cx="82.7" cy="281.6" r="1.02"/><circle cx="90.5" cy="281.6" r="1.02"/><circle cx="98.2" cy="281.6" r="1.02"/><circle cx="105.9" cy="281.6" r="1.02"/><circle cx="136.8" cy="281.6" r="1.02"/><circle cx="144.5" cy="281.6" r="1.02"/><circle cx="152.2" cy="281.6" r="1.02"/><circle cx="159.9" cy="281.6" r="1.02"/><circle cx="167.7" cy="281.6" r="1.02"/><circle cx="175.4" cy="281.6" r="1.02"/><circle cx="183.1" cy="281.6" r="1.02"/><circle cx="190.8" cy="281.6" r="1.02"/><circle cx="198.6" cy="281.6" r="1.02"/><circle cx="206.3" cy="281.6" r="1.02"/><circle cx="214.0" cy="281.6" r="1.02"/><circle cx="221.7" cy="281.6" r="1.02"/><circle cx="291.2" cy="281.6" r="1.02"/><circle cx="298.9" cy="281.6" r="1.02"/><circle cx="306.6" cy="281.6" r="1.02"/><circle cx="314.4" cy="281.6" r="1.02"/><circle cx="322.1" cy="281.6" r="1.02"/><circle cx="329.8" cy="281.6" r="1.02"/><circle cx="337.5" cy="281.6" r="1.02"/><circle cx="345.3" cy="281.6" r="1.02"/><circle cx="353.0" cy="281.6" r="1.02"/><circle cx="360.7" cy="281.6" r="1.02"/><circle cx="368.4" cy="281.6" r="1.02"/><circle cx="376.1" cy="281.6" r="1.02"/><circle cx="383.9" cy="281.6" r="1.02"/><circle cx="391.6" cy="281.6" r="1.02"/><circle cx="399.3" cy="281.6" r="1.02"/><circle cx="407.0" cy="281.6" r="1.02"/><circle cx="414.7" cy="281.6" r="1.02"/><circle cx="422.5" cy="281.6" r="1.02"/><circle cx="430.2" cy="281.6" r="1.02"/><circle cx="437.9" cy="281.6" r="1.02"/><circle cx="445.6" cy="281.6" r="1.02"/><circle cx="453.4" cy="281.6" r="1.02"/><circle cx="461.1" cy="281.6" r="1.02"/><circle cx="62.1" cy="274.1" r="1.02"/><circle cx="69.7" cy="274.1" r="1.02"/><circle cx="77.3" cy="274.1" r="1.02"/><circle cx="84.9" cy="274.1" r="1.02"/><circle cx="92.6" cy="274.1" r="1.02"/><circle cx="100.2" cy="274.1" r="1.02"/><circle cx="138.3" cy="274.1" r="1.02"/><circle cx="146.0" cy="274.1" r="1.02"/><circle cx="153.6" cy="274.1" r="1.02"/><circle cx="161.2" cy="274.1" r="1.02"/><circle cx="168.8" cy="274.1" r="1.02"/><circle cx="176.5" cy="274.1" r="1.02"/><circle cx="184.1" cy="274.1" r="1.02"/><circle cx="191.7" cy="274.1" r="1.02"/><circle cx="199.3" cy="274.1" r="1.02"/><circle cx="207.0" cy="274.1" r="1.02"/><circle cx="290.9" cy="274.1" r="1.02"/><circle cx="298.5" cy="274.1" r="1.02"/><circle cx="306.1" cy="274.1" r="1.02"/><circle cx="313.8" cy="274.1" r="1.02"/><circle cx="321.4" cy="274.1" r="1.02"/><circle cx="329.0" cy="274.1" r="1.02"/><circle cx="367.1" cy="274.1" r="1.02"/><circle cx="374.8" cy="274.1" r="1.02"/><circle cx="382.4" cy="274.1" r="1.02"/><circle cx="390.0" cy="274.1" r="1.02"/><circle cx="397.7" cy="274.1" r="1.02"/><circle cx="405.3" cy="274.1" r="1.02"/><circle cx="412.9" cy="274.1" r="1.02"/><circle cx="420.5" cy="274.1" r="1.02"/><circle cx="428.2" cy="274.1" r="1.02"/><circle cx="435.8" cy="274.1" r="1.02"/><circle cx="140.6" cy="266.5" r="1.02"/><circle cx="148.1" cy="266.5" r="1.02"/><circle cx="155.6" cy="266.5" r="1.02"/><circle cx="163.1" cy="266.5" r="1.02"/><circle cx="170.5" cy="266.5" r="1.02"/><circle cx="178.0" cy="266.5" r="1.02"/><circle cx="185.5" cy="266.5" r="1.02"/><circle cx="215.5" cy="266.5" r="1.02"/><circle cx="223.0" cy="266.5" r="1.02"/><circle cx="230.5" cy="266.5" r="1.02"/><circle cx="238.0" cy="266.5" r="1.02"/><circle cx="260.4" cy="266.5" r="1.02"/><circle cx="267.9" cy="266.5" r="1.02"/><circle cx="275.4" cy="266.5" r="1.02"/><circle cx="290.4" cy="266.5" r="1.02"/><circle cx="297.9" cy="266.5" r="1.02"/><circle cx="305.4" cy="266.5" r="1.02"/><circle cx="312.9" cy="266.5" r="1.02"/><circle cx="320.4" cy="266.5" r="1.02"/><circle cx="327.8" cy="266.5" r="1.02"/><circle cx="187.4" cy="259.0" r="1.02"/><circle cx="194.7" cy="259.0" r="1.02"/><circle cx="202.0" cy="259.0" r="1.02"/><circle cx="209.3" cy="259.0" r="1.02"/><circle cx="216.6" cy="259.0" r="1.02"/><circle cx="223.9" cy="259.0" r="1.02"/><circle cx="231.3" cy="259.0" r="1.02"/><circle cx="238.6" cy="259.0" r="1.02"/><circle cx="260.5" cy="259.0" r="1.02"/><circle cx="267.8" cy="259.0" r="1.02"/><circle cx="275.1" cy="259.0" r="1.02"/><circle cx="289.8" cy="259.0" r="1.02"/><circle cx="297.1" cy="259.0" r="1.02"/><circle cx="304.4" cy="259.0" r="1.02"/><circle cx="311.7" cy="259.0" r="1.02"/><circle cx="319.0" cy="259.0" r="1.02"/><circle cx="326.4" cy="259.0" r="1.02"/><circle cx="333.7" cy="259.0" r="1.02"/><circle cx="341.0" cy="259.0" r="1.02"/><circle cx="348.3" cy="259.0" r="1.02"/><circle cx="355.6" cy="259.0" r="1.02"/><circle cx="362.9" cy="259.0" r="1.02"/><circle cx="370.2" cy="259.0" r="1.02"/><circle cx="377.6" cy="259.0" r="1.02"/><circle cx="384.9" cy="259.0" r="1.02"/><circle cx="132.9" cy="251.5" r="1.02"/><circle cx="140.0" cy="251.5" r="1.02"/><circle cx="147.1" cy="251.5" r="1.02"/><circle cx="154.1" cy="251.5" r="1.02"/><circle cx="161.2" cy="251.5" r="1.02"/><circle cx="168.3" cy="251.5" r="1.02"/><circle cx="175.4" cy="251.5" r="1.02"/><circle cx="182.5" cy="251.5" r="1.02"/><circle cx="189.6" cy="251.5" r="1.02"/><circle cx="196.7" cy="251.5" r="1.02"/><circle cx="203.8" cy="251.5" r="1.02"/><circle cx="210.9" cy="251.5" r="1.02"/><circle cx="218.0" cy="251.5" r="1.02"/><circle cx="225.1" cy="251.5" r="1.02"/><circle cx="232.2" cy="251.5" r="1.02"/><circle cx="239.3" cy="251.5" r="1.02"/><circle cx="253.5" cy="251.5" r="1.02"/><circle cx="260.6" cy="251.5" r="1.02"/><circle cx="267.7" cy="251.5" r="1.02"/><circle cx="274.8" cy="251.5" r="1.02"/><circle cx="281.9" cy="251.5" r="1.02"/><circle cx="289.0" cy="251.5" r="1.02"/><circle cx="296.1" cy="251.5" r="1.02"/><circle cx="303.2" cy="251.5" r="1.02"/><circle cx="310.3" cy="251.5" r="1.02"/><circle cx="317.4" cy="251.5" r="1.02"/><circle cx="324.5" cy="251.5" r="1.02"/><circle cx="331.6" cy="251.5" r="1.02"/><circle cx="338.7" cy="251.5" r="1.02"/><circle cx="345.8" cy="251.5" r="1.02"/><circle cx="352.9" cy="251.5" r="1.02"/><circle cx="360.0" cy="251.5" r="1.02"/><circle cx="367.1" cy="251.5" r="1.02"/><circle cx="374.2" cy="251.5" r="1.02"/><circle cx="381.3" cy="251.5" r="1.02"/><circle cx="130.6" cy="244.2" r="1.02"/><circle cx="137.4" cy="244.2" r="1.02"/><circle cx="144.3" cy="244.2" r="1.02"/><circle cx="151.1" cy="244.2" r="1.02"/><circle cx="158.0" cy="244.2" r="1.02"/><circle cx="164.8" cy="244.2" r="1.02"/><circle cx="171.7" cy="244.2" r="1.02"/><circle cx="178.5" cy="244.2" r="1.02"/><circle cx="185.4" cy="244.2" r="1.02"/><circle cx="192.2" cy="244.2" r="1.02"/><circle cx="199.1" cy="244.2" r="1.02"/><circle cx="205.9" cy="244.2" r="1.02"/><circle cx="212.8" cy="244.2" r="1.02"/><circle cx="219.6" cy="244.2" r="1.02"/><circle cx="226.5" cy="244.2" r="1.02"/><circle cx="233.3" cy="244.2" r="1.02"/><circle cx="253.9" cy="244.2" r="1.02"/><circle cx="260.7" cy="244.2" r="1.02"/><circle cx="267.6" cy="244.2" r="1.02"/><circle cx="274.4" cy="244.2" r="1.02"/><circle cx="281.3" cy="244.2" r="1.02"/><circle cx="336.1" cy="244.2" r="1.02"/><circle cx="342.9" cy="244.2" r="1.02"/><circle cx="349.8" cy="244.2" r="1.02"/><circle cx="356.6" cy="244.2" r="1.02"/><circle cx="363.5" cy="244.2" r="1.02"/><circle cx="370.3" cy="244.2" r="1.02"/><circle cx="377.2" cy="244.2" r="1.02"/><circle cx="384.0" cy="244.2" r="1.02"/><circle cx="136.3" cy="237.0" r="1.02"/><circle cx="142.8" cy="237.0" r="1.02"/><circle cx="149.4" cy="237.0" r="1.02"/><circle cx="155.9" cy="237.0" r="1.02"/><circle cx="162.5" cy="237.0" r="1.02"/><circle cx="169.1" cy="237.0" r="1.02"/><circle cx="175.6" cy="237.0" r="1.02"/><circle cx="182.2" cy="237.0" r="1.02"/><circle cx="188.7" cy="237.0" r="1.02"/><circle cx="195.3" cy="237.0" r="1.02"/><circle cx="201.8" cy="237.0" r="1.02"/><circle cx="208.4" cy="237.0" r="1.02"/><circle cx="215.0" cy="237.0" r="1.02"/><circle cx="221.5" cy="237.0" r="1.02"/><circle cx="228.1" cy="237.0" r="1.02"/><circle cx="247.8" cy="237.0" r="1.02"/><circle cx="254.3" cy="237.0" r="1.02"/><circle cx="260.9" cy="237.0" r="1.02"/><circle cx="267.4" cy="237.0" r="1.02"/><circle cx="274.0" cy="237.0" r="1.02"/><circle cx="280.5" cy="237.0" r="1.02"/><circle cx="333.0" cy="237.0" r="1.02"/><circle cx="339.6" cy="237.0" r="1.02"/><circle cx="346.1" cy="237.0" r="1.02"/><circle cx="352.7" cy="237.0" r="1.02"/><circle cx="359.2" cy="237.0" r="1.02"/><circle cx="365.8" cy="237.0" r="1.02"/><circle cx="372.4" cy="237.0" r="1.02"/><circle cx="378.9" cy="237.0" r="1.02"/><circle cx="385.5" cy="237.0" r="1.02"/><circle cx="392.0" cy="237.0" r="1.02"/><circle cx="398.6" cy="237.0" r="1.02"/><circle cx="405.1" cy="237.0" r="1.02"/><circle cx="411.7" cy="237.0" r="1.02"/><circle cx="418.3" cy="237.0" r="1.02"/><circle cx="236.1" cy="230.0" r="1.02"/><circle cx="242.3" cy="230.0" r="1.02"/><circle cx="248.6" cy="230.0" r="1.02"/><circle cx="254.8" cy="230.0" r="1.02"/><circle cx="261.0" cy="230.0" r="1.02"/><circle cx="267.3" cy="230.0" r="1.02"/><circle cx="273.5" cy="230.0" r="1.02"/><circle cx="279.7" cy="230.0" r="1.02"/><circle cx="354.5" cy="230.0" r="1.02"/><circle cx="360.7" cy="230.0" r="1.02"/><circle cx="367.0" cy="230.0" r="1.02"/><circle cx="373.2" cy="230.0" r="1.02"/><circle cx="379.4" cy="230.0" r="1.02"/><circle cx="385.7" cy="230.0" r="1.02"/><circle cx="391.9" cy="230.0" r="1.02"/><circle cx="398.1" cy="230.0" r="1.02"/><circle cx="404.4" cy="230.0" r="1.02"/><circle cx="410.6" cy="230.0" r="1.02"/><circle cx="416.8" cy="230.0" r="1.02"/><circle cx="231.8" cy="223.3" r="1.02"/><circle cx="237.7" cy="223.3" r="1.02"/><circle cx="243.5" cy="223.3" r="1.02"/><circle cx="249.4" cy="223.3" r="1.02"/><circle cx="255.3" cy="223.3" r="1.02"/><circle cx="261.2" cy="223.3" r="1.02"/><circle cx="267.1" cy="223.3" r="1.02"/><circle cx="273.0" cy="223.3" r="1.02"/><circle cx="278.8" cy="223.3" r="1.02"/><circle cx="284.7" cy="223.3" r="1.02"/><circle cx="343.6" cy="223.3" r="1.02"/><circle cx="349.4" cy="223.3" r="1.02"/><circle cx="355.3" cy="223.3" r="1.02"/><circle cx="361.2" cy="223.3" r="1.02"/><circle cx="367.1" cy="223.3" r="1.02"/><circle cx="373.0" cy="223.3" r="1.02"/><circle cx="378.9" cy="223.3" r="1.02"/><circle cx="384.7" cy="223.3" r="1.02"/><circle cx="390.6" cy="223.3" r="1.02"/><circle cx="396.5" cy="223.3" r="1.02"/><circle cx="402.4" cy="223.3" r="1.02"/><circle cx="408.3" cy="223.3" r="1.02"/><circle cx="414.2" cy="223.3" r="1.02"/><circle cx="228.3" cy="216.9" r="1.02"/><circle cx="233.8" cy="216.9" r="1.02"/><circle cx="239.3" cy="216.9" r="1.02"/><circle cx="244.8" cy="216.9" r="1.02"/><circle cx="250.3" cy="216.9" r="1.02"/><circle cx="255.9" cy="216.9" r="1.02"/><circle cx="261.4" cy="216.9" r="1.02"/><circle cx="266.9" cy="216.9" r="1.02"/><circle cx="272.4" cy="216.9" r="1.02"/><circle cx="338.5" cy="216.9" r="1.02"/><circle cx="344.0" cy="216.9" r="1.02"/><circle cx="349.5" cy="216.9" r="1.02"/><circle cx="355.0" cy="216.9" r="1.02"/><circle cx="360.5" cy="216.9" r="1.02"/><circle cx="366.0" cy="216.9" r="1.02"/><circle cx="371.6" cy="216.9" r="1.02"/><circle cx="377.1" cy="216.9" r="1.02"/><circle cx="382.6" cy="216.9" r="1.02"/><circle cx="388.1" cy="216.9" r="1.02"/><circle cx="393.6" cy="216.9" r="1.02"/><circle cx="399.1" cy="216.9" r="1.02"/><circle cx="404.6" cy="216.9" r="1.02"/><circle cx="410.1" cy="216.9" r="1.02"/><circle cx="236.2" cy="211.1" r="1.02"/><circle cx="241.3" cy="211.1" r="1.02"/><circle cx="246.3" cy="211.1" r="1.02"/><circle cx="251.4" cy="211.1" r="1.02"/><circle cx="256.5" cy="211.1" r="1.02"/><circle cx="261.6" cy="211.1" r="1.02"/><circle cx="342.8" cy="211.1" r="1.02"/><circle cx="347.8" cy="211.1" r="1.02"/><circle cx="352.9" cy="211.1" r="1.02"/><circle cx="358.0" cy="211.1" r="1.02"/><circle cx="363.1" cy="211.1" r="1.02"/><circle cx="368.1" cy="211.1" r="1.02"/><circle cx="373.2" cy="211.1" r="1.02"/><circle cx="378.3" cy="211.1" r="1.02"/><circle cx="383.4" cy="211.1" r="1.02"/><circle cx="388.4" cy="211.1" r="1.02"/><circle cx="393.5" cy="211.1" r="1.02"/><circle cx="398.6" cy="211.1" r="1.02"/></g>
<path d="M107.2,220.9L111.6,220.3L113.0,221.1L118.0,218.9L121.2,216.7L124.2,216.2L121.8,218.4L116.8,221.8L117.3,222.3L120.6,220.6L123.6,217.8L127.0,216.7L130.2,217.1L132.9,215.7L137.9,215.3L140.9,214.1L145.0,213.5L149.0,213.0L152.7,212.7L159.0,211.3L160.3,212.4L163.3,212.5L160.0,215.7L163.9,216.2L168.6,215.7L171.1,215.7L170.9,217.3L171.2,218.6L173.6,217.9L176.2,217.9L178.8,217.8L180.7,216.7L183.1,216.8L185.5,216.9L188.2,217.7L190.0,218.5L193.5,218.4L195.3,219.5L195.7,220.1L198.4,219.9L201.0,219.8L203.9,219.4L206.4,219.5L208.9,219.6L211.8,220.7L214.1,221.2L216.0,222.9L218.4,223.5L219.0,224.1L216.3,225.3L215.5,226.1L213.0,225.6L210.6,225.7L209.5,225.3L207.8,225.9L205.3,228.3L202.0,229.1L199.7,230.1L197.1,231.3L193.3,231.3L191.4,231.4L190.1,231.9L188.1,233.8L188.3,236.3L186.2,237.8L182.8,240.1L180.7,241.4L178.2,242.7L178.8,240.1L180.3,236.3L183.1,234.1L188.3,230.1L188.4,229.2L185.6,229.5L181.5,231.9L178.2,232.6L175.6,232.2L170.8,232.2L168.1,233.2L163.8,235.9L160.3,238.9L163.3,239.8L163.1,241.4L160.8,244.0L159.5,246.0L156.6,248.0L152.2,251.3L147.9,253.5L145.5,253.9L143.1,255.9L140.2,258.2L140.5,261.0L139.4,263.6L137.1,264.4L135.7,264.5L137.2,261.5L137.2,260.3L135.7,259.9L137.3,257.9L136.5,257.4L134.3,256.6L132.3,258.7L134.2,256.9L134.1,256.1L131.8,257.3L129.1,258.3L128.2,259.4L128.9,260.7L131.3,260.2L132.8,261.0L130.0,262.6L127.9,264.2L128.5,267.2L128.9,269.4L128.1,270.4L128.4,271.4L127.2,273.4L124.1,276.8L122.5,278.1L120.5,279.5L116.9,281.1L114.2,281.7L112.3,282.6L111.7,283.8L111.3,282.1L109.7,282.1L107.6,283.2L106.2,285.5L106.7,287.5L107.8,289.3L108.8,290.6L108.9,293.6L108.6,295.6L106.8,296.7L105.1,297.9L103.3,299.5L103.1,297.8L102.7,297.0L101.1,296.3L100.5,294.7L98.9,294.0L98.0,293.1L96.5,297.0L97.2,298.7L97.5,301.0L98.6,301.8L99.6,302.8L100.9,305.0L100.9,307.6L101.8,309.2L100.9,309.3L99.1,307.7L98.3,307.2L97.3,304.8L97.1,302.5L96.0,300.5L95.2,299.8L95.6,297.6L96.1,294.9L96.0,292.9L95.8,289.6L95.5,288.3L93.9,289.1L92.4,289.8L91.9,289.0L92.7,286.2L91.8,285.0L90.8,283.2L90.7,281.1L89.4,280.8L87.2,281.9L84.8,282.1L84.4,283.4L81.8,285.1L80.2,286.6L77.8,288.7L75.1,290.2L74.4,292.9L73.6,297.2L71.7,299.0L70.4,300.3L69.3,299.1L68.8,296.3L68.1,293.9L67.9,291.4L67.3,289.6L67.3,286.2L67.9,283.5L67.9,282.3L68.1,281.1L65.3,283.0L64.2,281.1L65.4,280.3L63.8,279.3L62.8,278.9L62.6,276.9L60.0,277.2L56.6,277.2L54.8,276.9M73.5,297.9L74.8,299.7L75.4,301.0L74.7,302.8L73.2,303.0L73.1,300.3L73.5,297.9M165.8,238.5L165.4,240.8L163.7,244.0L164.1,245.3L163.1,244.9L161.2,247.3L161.1,248.5L159.6,249.3L161.1,246.0L163.1,242.7L163.8,240.8L165.8,238.5M154.7,255.3L156.1,254.9L157.1,253.8L158.6,254.6L161.7,252.9L160.9,252.1L159.8,251.7L159.2,249.9L158.3,251.4L157.2,252.7L156.2,252.9L155.1,254.1L154.7,255.3M156.2,255.4L155.7,257.8L154.0,259.5L153.3,261.3L152.3,263.0L151.1,264.1L149.8,264.5L147.7,264.5L145.8,266.0L145.6,264.5L143.1,264.8L140.6,265.4L140.7,264.9L143.1,263.3L145.4,263.2L147.2,262.9L148.8,260.9L149.2,261.5L151.1,260.1L152.8,258.7L153.9,257.0L154.2,256.2L156.2,255.4M139.3,265.9L140.6,265.4L140.9,267.2L139.6,268.8L138.5,269.1L138.7,266.9L139.3,265.9M141.9,266.7L144.0,266.3L144.8,265.2L143.0,265.2L141.9,266.7M125.6,277.2L126.6,277.6L125.3,280.7L124.4,281.5L124.0,279.9L125.6,277.2M109.5,285.2L111.4,284.0L112.4,284.7L110.9,286.5L109.4,286.1L109.5,285.2M123.5,286.2L125.3,286.2L124.8,288.9L123.7,292.0L126.5,293.6L125.8,294.1L122.8,292.8L122.5,289.6L123.5,286.2M123.3,301.7L125.3,300.3L127.6,298.0L128.8,301.4L127.2,303.6L125.9,302.5L123.3,301.7M124.5,295.5L126.7,294.3L128.0,296.0L128.0,297.6L125.2,298.4L124.2,297.0L124.5,295.5M107.4,309.1L108.1,312.4L108.9,315.1L113.5,315.8L116.2,315.5L115.8,312.4L117.6,310.4L118.9,306.4L119.6,304.1L117.9,301.7L116.0,303.0L114.8,304.6L112.9,306.4L109.8,308.9L108.1,308.4L107.4,309.1M91.3,303.6L93.9,304.1L97.3,308.4L101.1,312.4L103.9,315.1L104.0,318.9L102.3,318.9L99.6,316.5L97.3,312.4L95.3,308.8L93.2,306.8L91.3,303.6M103.2,320.3L104.1,319.2L107.1,319.7L110.1,319.7L112.2,320.4L114.4,321.5L114.4,322.8L110.3,322.3L107.3,321.6L104.8,321.1L103.2,320.3M120.2,318.5L119.8,315.8L120.3,311.1L121.7,309.3L126.4,309.1L124.5,310.4L121.9,311.9L123.5,313.1L122.4,315.1L123.7,317.3L122.2,317.3L121.3,318.5L120.2,318.5M115.1,322.4L116.8,322.1L119.9,322.5L122.2,322.4L124.6,322.3L121.7,323.1L117.5,323.2L115.1,322.4M126.0,324.6L127.0,323.2L129.7,322.4L128.3,323.5L126.0,324.6M129.6,308.7L131.0,309.1L130.1,311.9L129.6,308.7M130.2,315.4L133.5,315.1L133.2,316.2L130.2,315.8L130.2,315.4M133.7,312.9L135.5,311.6L137.3,312.3L139.2,315.5L142.1,313.4L145.7,314.6L149.9,316.2L151.8,318.5L153.6,319.4L154.3,321.9L156.9,325.0L153.3,324.6L152.0,322.5L149.6,321.5L148.5,323.2L146.1,323.4L143.6,321.9L142.5,322.4L142.0,318.5L138.6,317.0L136.2,316.5L135.0,314.9L133.7,312.9M156.5,315.1L158.9,316.8L158.4,318.5L154.8,318.8L156.5,315.1M140.5,327.3L141.4,326.6L140.4,325.9L136.8,326.3L134.4,326.3L133.3,327.3M147.0,327.3L148.0,325.5L149.0,327.3M220.6,224.6L223.9,220.9L227.2,219.2L230.1,218.6L233.1,218.0L236.7,218.6L239.6,219.0L242.5,219.5L245.9,219.8L250.0,220.6L252.7,220.1L255.4,219.5L259.6,220.1L263.9,220.6L268.3,221.2L271.4,221.5L274.5,221.8L278.0,221.9L281.6,222.0L284.9,221.2L285.4,217.5L287.6,219.5L290.2,221.2L294.2,220.1L297.3,221.8L297.9,223.5L294.5,225.9L291.6,227.1L290.2,228.9L288.5,232.6L290.9,235.1L295.5,235.7L298.8,237.3L302.2,240.3L306.0,242.1L305.2,238.2L306.6,235.7L304.6,233.2L304.3,230.7L303.1,228.5L306.9,228.5L311.2,230.1L312.6,232.6L316.3,231.0L317.9,232.6L320.8,235.1L323.6,237.0L327.6,239.5L329.7,241.4L328.5,242.2L326.1,243.8L322.7,243.8L319.4,243.8L317.4,246.0L321.9,245.3L321.8,246.6L322.5,248.2L326.9,249.9L327.8,249.3L324.3,251.9L322.2,252.2L321.2,250.6L320.8,251.0L317.9,252.3L317.7,253.9L318.6,255.1L316.5,255.7L314.5,256.6L314.7,257.9L313.8,258.7L313.5,260.6L313.1,261.4L313.9,263.7L311.9,264.6L310.5,266.4L308.4,268.3L308.3,270.7L309.5,273.1L310.3,275.1L310.0,277.2L309.0,277.2L308.0,275.3L306.9,273.1L305.8,271.0L304.1,271.1L302.3,270.2L299.5,270.3L299.0,271.8L297.9,271.6L295.0,271.1L293.0,271.5L290.2,274.1L290.2,276.2L289.9,278.8L290.4,282.1L292.1,284.8L294.0,286.6L296.5,286.1L298.1,285.6L298.6,284.3L298.7,282.8L302.6,282.1L302.1,284.8L301.4,286.9L301.2,289.6L304.1,289.7L306.5,290.9L307.4,291.0L307.1,296.3L308.0,297.6L309.8,299.2L312.1,298.2L314.6,299.4L316.3,298.3L316.9,297.0L318.6,296.0L320.9,295.1L321.6,297.0L323.3,294.7L325.2,297.0L328.1,296.8L330.5,296.8L332.9,296.7L334.5,299.7L336.6,300.3L338.5,303.0L341.5,303.2L345.1,304.8L346.3,305.7L347.6,308.7L347.7,311.8L349.4,312.9L354.1,314.5L357.7,315.0L361.3,316.1L363.6,317.8L365.3,319.9L365.3,321.9L364.9,323.9L363.8,325.2M309.7,325.9L310.2,319.2L311.1,315.8L311.7,314.1L311.3,311.8L312.0,309.8L313.2,308.7L314.7,305.7L314.9,302.3L313.6,300.3L311.8,300.1L311.0,301.3L309.2,300.1L306.0,298.2L304.6,296.6L302.5,293.6L300.1,292.9L297.7,292.2L295.9,289.8L294.1,289.3L291.7,290.0L289.3,289.1L286.4,287.8L283.4,286.5L281.0,284.2L281.2,282.1L279.7,279.7L277.3,277.0L274.9,273.7L272.6,271.0L270.0,268.4L270.3,270.7L272.0,273.4L273.8,276.1L275.6,278.8L276.2,279.9L275.3,279.5L273.3,277.7L270.9,274.1L269.1,271.0L267.2,267.3L265.8,265.3L263.3,264.5L261.8,261.8L261.2,260.2L259.8,257.5L259.3,254.9L259.1,253.3L259.7,249.0L259.0,246.1L260.8,246.4L258.8,244.0L255.7,242.7L253.9,238.2L252.1,235.7L249.4,233.6L247.1,232.8L244.8,231.6L241.1,231.1L238.3,230.7L235.6,230.0L233.4,232.3L230.7,234.8L227.8,236.3L225.0,237.6L221.5,237.6L219.4,238.2L222.3,236.6L226.3,234.7L228.2,232.8L223.8,233.1L223.4,231.3L221.4,230.1L222.1,228.0L224.3,225.9L221.6,225.6L220.6,224.6M217.6,239.1L213.2,240.4L209.9,241.0L206.6,241.7L202.5,241.8L199.7,241.1L196.9,240.4L195.5,240.1M300.8,227.1L302.3,225.9L305.7,224.1L310.6,223.9L313.1,223.5L315.6,223.2L312.9,221.2L309.3,220.1L306.6,218.9L302.7,217.8L298.9,216.7L295.8,216.2L292.7,215.7L289.6,216.2L291.3,218.9L294.9,219.5L298.4,219.7L301.5,221.2L304.6,222.3L308.7,225.9L313.3,228.3L315.4,228.9L311.4,228.0L305.9,225.9L302.8,227.4L300.8,227.1M265.6,218.4L269.0,217.3L272.2,216.2L275.6,216.5L278.9,216.7L280.3,219.5L277.3,220.1L274.4,220.6L271.8,220.5L269.2,220.4L265.6,218.4M259.8,217.3L262.3,214.6L266.4,216.2L265.6,217.8L262.7,217.6L259.8,217.3M287.4,212.0L290.1,212.2L292.8,212.5L295.5,212.7L297.9,210.0L299.9,209.2L301.9,208.5L303.8,207.8L305.3,206.9L303.1,206.9L300.9,206.8L298.7,206.7L296.5,206.7L294.4,206.6L292.2,206.5L290.3,206.9L288.4,207.3L286.4,207.8L284.4,208.2L287.4,212.0M286.3,213.5L288.9,213.3L291.4,213.0L294.0,212.8L296.3,214.4L293.1,214.5L289.9,214.7L286.6,214.5L286.3,213.5M276.3,216.0L279.2,216.1L282.1,216.2L283.6,218.9L280.8,217.8L276.3,216.0M266.3,213.2L269.2,213.1L272.1,212.9L275.0,212.8L276.8,213.8L274.4,214.2L272.1,214.6L269.2,213.9L266.3,213.2M276.8,210.0L279.2,209.3L281.6,208.6L284.7,209.1L287.9,209.5L285.3,210.5L282.5,211.5L279.6,210.7L276.8,210.0M294.5,224.1L297.1,223.8L299.7,223.5L297.9,226.5L294.5,224.1M299.9,210.8L302.9,211.9L306.0,213.0L308.3,212.9L310.6,212.8L313.3,213.3L316.2,215.1L318.3,217.8L321.1,218.9L323.8,221.2L323.4,223.5L327.2,226.5L330.7,229.5L335.5,231.3L337.4,231.2L337.5,228.3L336.6,225.3L338.5,224.7L341.1,221.5L343.6,220.2L345.9,218.9L345.5,216.7L344.4,214.1L343.1,212.0L338.2,209.1L340.0,207.8L337.0,207.3L334.0,206.9L331.0,206.5L328.8,206.4L326.6,206.4L324.3,206.3L322.1,206.2L319.9,206.1L317.8,206.3L315.7,206.5L313.6,206.7L311.4,206.9L309.2,207.1L307.0,207.3L305.4,208.0L303.7,208.6L301.9,209.7L299.9,210.8M353.4,226.5L350.6,224.7L351.6,223.6L354.2,223.6L356.9,223.5L360.4,225.0L360.0,226.1L357.6,227.2L353.4,226.5M327.8,247.2L329.8,242.0L333.3,244.9L334.9,247.3L334.1,248.4L331.4,247.2L327.8,247.2M304.9,281.7L308.3,279.9L310.6,280.0L314.3,281.7L317.7,283.9L313.8,284.3L312.5,282.1L309.0,281.3L306.6,281.6L304.9,281.7M317.5,286.3L319.7,284.3L322.7,284.6L324.7,286.1L322.8,286.6L320.5,286.9L317.5,286.3M313.0,286.3L315.4,286.6L314.6,287.1L313.0,286.3M326.1,286.2L328.0,286.3L327.8,286.9L326.1,286.9L326.1,286.2M418.6,221.2L415.8,221.1L413.3,221.8L409.5,221.5L407.3,221.2L410.3,223.7L408.6,224.1L409.5,225.9L406.8,225.9L403.5,224.7L401.1,223.5L404.7,223.9L407.0,222.9L405.0,221.8L398.3,220.4L396.3,220.2L389.5,218.4L386.1,218.4L384.3,218.9L382.5,219.5L381.7,221.8L383.2,224.7L383.8,227.1L381.0,228.9L384.4,232.6L387.9,233.8L389.4,232.3L391.2,233.2L394.7,235.9L397.4,237.0L398.4,235.7L396.7,231.9L393.7,230.1L392.4,225.3L395.3,224.7L397.7,230.1L400.4,231.3L403.4,231.0L406.4,230.7L404.4,231.4L402.3,232.2L402.5,234.8L403.5,236.3L403.7,238.2L399.4,239.0L396.4,238.5L395.5,238.9L393.5,237.6L390.0,235.1L391.2,234.2L393.1,238.1L393.4,239.0L390.3,239.6L390.7,241.4L390.8,242.3L389.3,242.9L388.8,244.7L387.2,244.6L384.7,246.0L388.6,247.7L390.6,249.5L392.0,252.6L389.4,252.7L384.8,252.3L384.4,253.5L385.8,255.9L386.4,258.9L387.9,261.0L389.6,261.1L391.5,262.2L392.4,262.6L393.1,261.7L395.9,261.5L396.7,259.7L397.0,258.6L396.3,255.9L398.2,254.6L397.2,252.9L399.1,252.7L401.5,252.2L402.4,251.4L404.6,252.6L407.8,254.6L413.3,257.3L414.8,259.3L414.7,259.9L415.5,259.3L415.5,258.1L416.3,257.0L413.8,255.7L409.5,253.8L406.1,251.4L406.3,249.7L407.5,250.7L410.9,252.6L416.0,254.9L417.6,257.3L420.4,259.3L423.4,262.0L423.2,260.2L423.9,259.7L421.6,257.9L421.7,256.3L424.1,256.2L424.0,255.3L427.1,255.9L425.4,257.9L426.9,259.4L428.5,261.3L429.7,261.7L432.5,262.1L434.4,262.5L436.7,261.5L438.6,262.0L439.0,263.0L439.9,264.5L439.9,266.7L440.3,268.7L438.0,269.1L435.2,268.9L429.4,268.5L424.1,269.6L423.4,268.7L423.4,267.7L417.8,267.6L412.6,266.3L411.0,264.9L411.4,263.7L409.8,261.7L408.4,260.9L403.7,261.5L398.7,262.9L396.8,263.8L392.7,262.8L392.1,263.3L391.9,265.3L390.4,270.2L390.6,271.4L387.0,274.1L386.2,278.1L384.8,282.6L386.0,285.5L386.2,289.6L385.3,291.3L386.4,293.1L388.3,295.6L390.7,298.3L393.3,301.7L397.6,305.2L401.2,304.2L404.8,304.6L408.9,302.8L412.4,302.6L414.4,305.3L417.3,304.9L419.0,307.1L419.0,309.8L418.3,312.4L421.0,315.5L421.7,318.5L422.6,322.5L422.8,325.2M438.0,269.1L439.0,270.8L441.3,274.1L445.1,278.8L448.1,282.8L450.6,286.9L452.5,290.2L455.4,292.9L457.7,294.3L459.6,297.1L463.6,296.0L467.3,295.2L467.3,297.0L465.4,301.9L464.5,305.0L462.2,308.4L458.7,311.8L456.3,313.8L455.0,315.8L453.6,318.5L454.0,321.9L454.2,325.2M439.0,270.8L442.0,273.7L441.9,271.4L445.0,274.7L448.6,278.8L450.3,282.1L453.4,286.2L455.9,289.6L457.7,294.0L459.7,293.9L463.6,292.2L467.2,290.0L470.2,287.5L472.1,285.6L473.4,283.5L474.1,280.8L472.1,279.2L469.4,278.1L468.4,275.8L466.6,278.5L463.7,278.5L462.9,276.1L462.6,277.7L460.9,275.4L458.1,272.7L456.5,270.7L458.4,270.7L460.0,271.8L462.0,273.7L466.1,275.4L468.1,274.6L470.6,276.6M382.5,244.0L384.8,243.2L388.8,242.5L387.7,240.5L385.4,239.5L384.0,238.2L381.5,236.8L379.7,235.1L377.5,234.2L377.1,233.1L375.1,233.1L375.0,234.3L377.1,236.3L379.0,237.8L381.6,238.9L382.3,239.8L380.9,240.0L382.0,241.0L381.5,241.8L383.9,242.2L382.5,244.0M380.5,241.4L378.6,238.9L375.9,237.2L374.4,238.6L376.4,241.4L378.9,242.1L380.5,241.4M425.6,255.1L424.5,252.6L423.9,248.6L428.8,251.3L431.4,250.3L431.1,248.0L432.7,247.7L434.2,251.3L440.4,255.1L434.2,255.0L430.7,254.6L425.6,255.1M443.3,251.3L444.9,253.3L449.8,256.6L451.9,259.9L455.7,261.5L458.1,260.9L454.5,257.3L452.5,254.6L449.6,253.0L449.2,250.6L445.6,248.2L443.2,248.5L443.3,251.3M361.7,209.5L363.5,209.2L365.3,208.9L367.9,209.0L370.5,209.0L373.1,209.1L372.7,210.0L372.2,211.0L371.6,212.0L369.3,212.0L361.7,209.5M409.9,218.4L408.6,215.7M120.2,213.5L125.0,212.8L129.8,212.0L125.3,213.0L120.8,214.1M411.3,216.7L412.4,218.4L409.9,218.4M155.4,209.5L159.7,209.3L161.2,210.5L157.0,210.7L155.4,209.5M181.1,214.1L185.7,213.5L188.0,213.6L190.3,213.7L187.0,214.5L183.8,215.3L181.1,214.1M213.4,217.8L215.7,218.2L213.8,218.6L213.4,217.8M404.7,255.9L405.9,255.9L407.3,258.6L406.1,258.6L404.7,255.9M411.1,259.8L414.6,259.7L414.9,261.7L411.1,259.8M425.4,263.6L428.6,263.7L426.8,264.1L425.4,263.6M435.5,263.8L437.6,263.2L437.6,264.5L435.5,263.8M464.8,327.3L465.7,327.3M469.6,294.1L471.0,294.3L470.0,294.5L469.6,294.1" fill="none" stroke="#3a3a3a" stroke-width="0.5" stroke-linejoin="round"/>
<path d="M121.21,324.57 L120.94,321.11 L120.74,317.66 L120.61,314.21 L120.55,310.75 L120.63,307.3 L120.78,303.85 L120.99,300.4 L121.27,296.94 L121.64,293.49 L122.11,290.04 L122.68,286.58 L123.29,283.13 L123.94,279.68 L124.71,276.23 L125.64,272.77 L126.75,269.32 L128.01,265.87 L129.41,262.42 L130.96,258.97 L132.68,255.54 L134.55,252.13 L136.53,248.74 L138.61,245.37 L140.87,242.03 L143.32,238.73 L145.9,235.48 L148.6,232.27 L151.4,229.12 L154.28,226.04 L157.23,223.02 L160.28,220.07 L163.46,217.22 L166.87,214.46 L170.6,211.8 L174.47,209.32 L178.22,207.09 L181.73,205.18 L184.9,203.64 L187.63,202.5" fill="none" stroke="#c4c4c4" stroke-width="0.5"/>
<path d="M192.58,324.57 L192.44,321.11 L192.35,317.66 L192.28,314.21 L192.25,310.75 L192.29,307.3 L192.36,303.85 L192.47,300.4 L192.61,296.94 L192.8,293.49 L193.03,290.04 L193.31,286.58 L193.62,283.13 L193.95,279.68 L194.33,276.23 L194.8,272.77 L195.35,269.32 L195.98,265.87 L196.68,262.42 L197.45,258.97 L198.31,255.54 L199.25,252.13 L200.24,248.74 L201.28,245.37 L202.41,242.03 L203.64,238.73 L204.93,235.48 L206.28,232.27 L207.67,229.12 L209.11,226.04 L210.59,223.02 L212.11,220.07 L213.71,217.22 L215.41,214.46 L217.28,211.8 L219.21,209.32 L221.09,207.09 L222.84,205.18 L224.42,203.64 L225.79,202.5" fill="none" stroke="#c4c4c4" stroke-width="0.5"/>
<path d="M263.95,324.57 L263.95,321.11 L263.95,317.66 L263.95,314.21 L263.95,310.75 L263.95,307.3 L263.95,303.85 L263.95,300.4 L263.95,296.94 L263.95,293.49 L263.95,290.04 L263.95,286.58 L263.95,283.13 L263.95,279.68 L263.95,276.23 L263.95,272.77 L263.95,269.32 L263.95,265.87 L263.95,262.42 L263.95,258.97 L263.95,255.54 L263.95,252.13 L263.95,248.74 L263.95,245.37 L263.95,242.03 L263.95,238.73 L263.95,235.48 L263.95,232.27 L263.95,229.12 L263.95,226.04 L263.95,223.02 L263.95,220.07 L263.95,217.22 L263.95,214.46 L263.95,211.8 L263.95,209.32 L263.95,207.09 L263.95,205.18 L263.95,203.64 L263.95,202.5" fill="none" stroke="#c4c4c4" stroke-width="0.5"/>
<path d="M335.32,324.57 L335.46,321.11 L335.55,317.66 L335.62,314.21 L335.65,310.75 L335.61,307.3 L335.54,303.85 L335.43,300.4 L335.29,296.94 L335.1,293.49 L334.87,290.04 L334.59,286.58 L334.28,283.13 L333.95,279.68 L333.57,276.23 L333.1,272.77 L332.55,269.32 L331.92,265.87 L331.22,262.42 L330.45,258.97 L329.59,255.54 L328.65,252.13 L327.66,248.74 L326.62,245.37 L325.49,242.03 L324.26,238.73 L322.97,235.48 L321.62,232.27 L320.23,229.12 L318.79,226.04 L317.31,223.02 L315.79,220.07 L314.19,217.22 L312.49,214.46 L310.62,211.8 L308.69,209.32 L306.81,207.09 L305.06,205.18 L303.48,203.64 L302.11,202.5" fill="none" stroke="#c4c4c4" stroke-width="0.5"/>
<path d="M406.69,324.57 L406.96,321.11 L407.16,317.66 L407.29,314.21 L407.35,310.75 L407.27,307.3 L407.12,303.85 L406.91,300.4 L406.63,296.94 L406.26,293.49 L405.79,290.04 L405.22,286.58 L404.61,283.13 L403.96,279.68 L403.19,276.23 L402.26,272.77 L401.15,269.32 L399.89,265.87 L398.49,262.42 L396.94,258.97 L395.22,255.54 L393.35,252.13 L391.37,248.74 L389.29,245.37 L387.03,242.03 L384.58,238.73 L382,235.48 L379.3,232.27 L376.5,229.12 L373.62,226.04 L370.67,223.02 L367.62,220.07 L364.44,217.22 L361.03,214.46 L357.3,211.8 L353.43,209.32 L349.68,207.09 L346.17,205.18 L343,203.64 L340.27,202.5" fill="none" stroke="#c4c4c4" stroke-width="0.5"/>
<line x1="48.85" y1="311.1" x2="479.05" y2="311.1" stroke="#b0b0b0" stroke-width="0.6" stroke-dasharray="2,2"/>
<line x1="57.45" y1="270.7" x2="470.45" y2="270.7" stroke="#b0b0b0" stroke-width="0.6" stroke-dasharray="2,2"/>
<line x1="92.17" y1="231.32" x2="435.73" y2="231.32" stroke="#b0b0b0" stroke-width="0.6" stroke-dasharray="2,2"/>
<path d="M108.5,218.6 C107.75,219.85 105.33,223.43 104,226.1 C102.67,228.77 102,232.4 100.5,234.6 C99,236.8 97.42,238.13 95,239.3 C92.58,240.47 89,240.88 86,241.6 C83,242.32 78.5,243.27 77,243.6" fill="none" stroke="#000" stroke-width="1.35"/>
<path d="M56,265.1 C56.67,264.52 58.33,262.52 60,261.6 C61.67,260.68 64.08,259.77 66,259.6 C67.92,259.43 70.83,259.93 71.5,260.6 C72.17,261.27 71.42,262.77 70,263.6 C68.58,264.43 65.33,265.1 63,265.6 C60.67,266.1 57.17,266.43 56,266.6" fill="none" stroke="#000" stroke-width="1.35" stroke-dasharray="4,2.2"/>
<path d="M172,256.9 C175.83,256.5 188.33,255.4 195,254.5 C201.67,253.6 207.75,252.82 212,251.5 C216.25,250.18 218.7,248.73 220.5,246.6 C222.3,244.47 223.13,241.45 222.8,238.7 C222.47,235.95 221.05,233.03 218.5,230.1 C215.95,227.17 211.42,223.35 207.5,221.1 C203.58,218.85 200.18,217.72 195,216.6 C189.82,215.48 182.42,214.65 176.4,214.4 C170.38,214.15 164.75,213.98 158.9,215.1 C153.05,216.22 146.45,217.93 141.3,221.1 C136.15,224.27 131.72,229.27 128,234.1 C124.28,238.93 120.58,246.35 119,250.1 C117.42,253.85 117.67,254.97 118.5,256.6 C119.33,258.23 120.92,259.27 124,259.9 C127.08,260.53 133.83,260.37 137,260.4 C140.17,260.43 142,260.15 143,260.1" fill="none" stroke="#000" stroke-width="1.35" stroke-dasharray="4,2.2"/>
<path d="M155.6,242.6 C155.68,241.02 157.1,238.63 159,237.6 C160.9,236.57 164.17,236.32 167,236.4 C169.83,236.48 174.03,237.07 176,238.1 C177.97,239.13 178.97,241.1 178.8,242.6 C178.63,244.1 176.97,246.08 175,247.1 C173.03,248.12 169.75,248.7 167,248.7 C164.25,248.7 160.4,248.12 158.5,247.1 C156.6,246.08 155.52,244.18 155.6,242.6Z" fill="none" stroke="#000" stroke-width="1.35" stroke-dasharray="4,2.2"/>
<path d="M90,273.1 C95.27,272.57 110.85,271.15 121.6,269.9 C132.35,268.65 143.93,266.82 154.5,265.6 C165.07,264.38 176.02,263.35 185,262.6 C193.98,261.85 202.57,261.25 208.4,261.1 C214.23,260.95 217.57,261.32 220,261.7 C222.43,262.08 223.97,262.03 223,263.4 C222.03,264.77 217.12,267.6 214.2,269.9 C211.28,272.2 208.9,274.28 205.5,277.2 C202.1,280.12 198.18,284.12 193.8,287.4 C189.42,290.68 184.07,294.33 179.2,296.9 C174.33,299.47 169.47,301.38 164.6,302.8 C159.73,304.22 155.33,305.2 150,305.4 C144.67,305.6 139.27,304.12 132.6,304 C125.93,303.88 117.3,304.48 110,304.7 C102.7,304.92 95.47,305.03 88.8,305.3 C82.13,305.57 76.63,305.97 70,306.3 C63.37,306.63 52.5,307.13 49,307.3" fill="none" stroke="#000" stroke-width="1.35"/>
<path d="M118,295.6 C118.97,295.55 120.13,295.62 123.8,295.3 C127.47,294.98 134.42,294.28 140,293.7 C145.58,293.12 152.72,292.85 157.3,291.8 C161.88,290.75 163.85,289.1 167.5,287.4 C171.15,285.7 176.03,283.42 179.2,281.6 C182.37,279.78 184.68,278.08 186.5,276.5 C188.32,274.92 189.62,273.2 190.1,272.1 C190.58,271 190.48,270.63 189.4,269.9 C188.32,269.17 186.52,268.18 183.6,267.7 C180.68,267.22 175.3,266.98 171.9,267 C168.5,267.02 166.85,267.52 163.2,267.8 C159.55,268.08 154.37,267.98 150,268.7 C145.63,269.42 142,270.95 137,272.1 C132,273.25 124.38,274.5 120,275.6 C115.62,276.7 114.2,277.53 110.7,278.7 C107.2,279.87 102.65,281.32 99,282.6 C95.35,283.88 90.5,285.77 88.8,286.4" fill="none" stroke="#000" stroke-width="1.35"/>
<path d="M142.4,280.7 C142.73,280.12 145.35,279.02 147,278.8 C148.65,278.58 151.63,278.92 152.3,279.4 C152.97,279.88 152.22,281.22 151,281.7 C149.78,282.18 146.43,282.47 145,282.3 C143.57,282.13 142.07,281.28 142.4,280.7Z" fill="none" stroke="#000" stroke-width="1.35"/>
<path d="M269.5,246.1 C269.97,245.43 272.05,243.88 272.3,242.1 C272.55,240.32 272.32,237.47 271,235.4 C269.68,233.33 266.58,230.83 264.4,229.7 C262.22,228.57 259.9,228.37 257.9,228.6 C255.9,228.83 254.05,229.05 252.4,231.1 C250.75,233.15 249.65,237.45 248,240.9 C246.35,244.35 244.25,248.88 242.5,251.8 C240.75,254.72 237.75,257.15 237.5,258.4 C237.25,259.65 240.42,259.15 241,259.3" fill="none" stroke="#000" stroke-width="1.35"/>
<path d="M294,219.6 C295.05,218.22 298.22,216.08 301,215.5 C303.78,214.92 307.45,215.42 310.7,216.1 C313.95,216.78 317.82,217.85 320.5,219.6 C323.18,221.35 325.63,224.27 326.8,226.6 C327.97,228.93 328.08,231.62 327.5,233.6 C326.92,235.58 325.4,237.33 323.3,238.5 C321.2,239.67 317.7,240.72 314.9,240.6 C312.1,240.48 309.07,239.43 306.5,237.8 C303.93,236.17 301.47,233.13 299.5,230.8 C297.53,228.47 295.62,225.67 294.7,223.8 C293.78,221.93 292.95,220.98 294,219.6Z" fill="none" stroke="#000" stroke-width="1.35" stroke-dasharray="4,2.2"/>
<path d="M418,218.9 C416.33,218.35 410.88,216.53 408,215.6 C405.12,214.67 403.53,214 400.7,213.3 C397.87,212.6 394.2,211.83 391,211.4 C387.8,210.97 383.08,210.82 381.5,210.7" fill="none" stroke="#000" stroke-width="1.35"/>
<path d="M352.6,212.6 C352.43,213.35 351.83,215.47 351.6,217.1 C351.37,218.73 351.38,219.88 351.2,222.4 C351.02,224.92 350.97,229.17 350.5,232.2 C350.03,235.23 349.68,237.8 348.4,240.6 C347.12,243.4 345.37,246.67 342.8,249 C340.23,251.33 336.72,253.22 333,254.6 C329.28,255.98 323.63,256.38 320.5,257.3 C317.37,258.22 315.6,258.93 314.2,260.1 C312.8,261.27 311.98,263.02 312.1,264.3 C312.22,265.58 313.27,267.1 314.9,267.8 C316.53,268.5 319.55,268.5 321.9,268.5 C324.25,268.5 327.82,267.92 329,267.8" fill="none" stroke="#000" stroke-width="1.35"/>
<path d="M358.5,262.9 C361.25,262.6 369.08,261.85 375,261.1 C380.92,260.35 390.17,259 394,258.4 C397.83,257.8 397.33,257.65 398,257.5" fill="none" stroke="#000" stroke-width="1.35"/>
<path d="M424,249.3 C426,248.7 431.85,246.8 436,245.7 C440.15,244.6 445.23,243.6 448.9,242.7 C452.57,241.8 456.48,240.7 458,240.3" fill="none" stroke="#000" stroke-width="1.35"/>
<path d="M478,265.4 C476.07,265.62 470.23,266.08 466.4,266.7 C462.57,267.32 458.65,268.32 455,269.1 C451.35,269.88 448.17,270.32 444.5,271.4 C440.83,272.48 434.92,274.9 433,275.6" fill="none" stroke="#000" stroke-width="1.35" stroke-dasharray="4,2.2"/>
<path d="M405,295.6 C403.5,296.28 400.43,298.55 396,299.7 C391.57,300.85 383.77,301.88 378.4,302.5 C373.03,303.12 368.67,303.15 363.8,303.4 C358.93,303.65 354.07,304.02 349.2,304 C344.33,303.98 338.8,303.78 334.6,303.3 C330.4,302.82 326.93,301.53 324,301.1 C321.07,300.67 319.63,300.23 317,300.7 C314.37,301.17 311.12,302.3 308.2,303.9 C305.28,305.5 302.78,308.7 299.5,310.3 C296.22,311.9 292.75,313.03 288.5,313.5 C284.25,313.97 277.65,313.25 274,313.1 C270.35,312.95 267.83,312.68 266.6,312.6" fill="none" stroke="#000" stroke-width="1.35" stroke-dasharray="4,2.2"/>
<path d="M238.5,308.3 C236.25,308.1 229.42,307.92 225,307.1 C220.58,306.28 215.1,305.03 212,303.4 C208.9,301.77 207.33,299.4 206.4,297.3 C205.47,295.2 205.58,292.93 206.4,290.8 C207.22,288.67 209.03,286.52 211.3,284.5 C213.57,282.48 216.58,280.65 220,278.7 C223.42,276.75 227.63,274.43 231.8,272.8 C235.97,271.17 240.97,269.98 245,268.9 C249.03,267.82 252.5,267.35 256,266.3 C259.5,265.25 263.33,263.8 266,262.6 C268.67,261.4 270,259.98 272,259.1 C274,258.22 276,257.37 278,257.3 C280,257.23 282.42,257.73 284,258.7 C285.58,259.67 286.42,261.03 287.5,263.1 C288.58,265.17 289.5,268.32 290.5,271.1 C291.5,273.88 292,277.1 293.5,279.8 C295,282.5 297.05,285.85 299.5,287.3 C301.95,288.75 304.55,289.03 308.2,288.5 C311.85,287.97 317,286.38 321.4,284.1 C325.8,281.82 329.97,276.97 334.6,274.8 C339.23,272.63 344.33,272.07 349.2,271.1 C354.07,270.13 358.93,269.72 363.8,269 C368.67,268.28 373.53,267.65 378.4,266.8 C383.27,265.95 388.13,264.88 393,263.9 C397.87,262.92 403.1,261.83 407.6,260.9 C412.1,259.97 416.6,258.88 420,258.3 C423.4,257.72 426.67,257.55 428,257.4" fill="none" stroke="#000" stroke-width="1.35" stroke-dasharray="4,2.2"/>
<path d="M456,259.1 C457,259.1 459.67,259.02 462,259.1 C464.33,259.18 468.67,259.52 470,259.6" fill="none" stroke="#000" stroke-width="1.35" stroke-dasharray="4,2.2"/>
<path d="M365.5,275.6 C363.25,276.12 355.58,277.28 352,278.7 C348.42,280.12 345.68,282.2 344,284.1 C342.32,286 341.03,288.72 341.9,290.1 C342.77,291.48 345.55,291.78 349.2,292.4 C352.85,293.02 357.97,293.93 363.8,293.8 C369.63,293.67 378.85,292.7 384.2,291.6 C389.55,290.5 392.73,288.9 395.9,287.2 C399.07,285.5 401.73,283.35 403.2,281.4 C404.67,279.45 405.67,276.85 404.7,275.5 C403.73,274.15 399.27,273.63 397.4,273.3 C395.53,272.97 394.15,273.47 393.5,273.5" fill="none" stroke="#000" stroke-width="1.35" stroke-dasharray="4,2.2"/>
<path d="M363.4,251.6 C362.57,249.2 364.32,242.62 367,239.1 C369.68,235.58 375.33,232.13 379.5,230.5 C383.67,228.87 388.7,228.7 392,229.3 C395.3,229.9 398.3,231.63 399.3,234.1 C400.3,236.57 400.05,241.4 398,244.1 C395.95,246.8 391.33,248.73 387,250.3 C382.67,251.87 375.93,253.28 372,253.5 C368.07,253.72 364.23,254 363.4,251.6Z" fill="none" stroke="#000" stroke-width="1.35"/>
<path d="M479,275.1 C477.63,275.15 474.73,275.17 470.8,275.4 C466.87,275.63 460.53,275.77 455.4,276.5 C450.27,277.23 444.02,278.33 440,279.8 C435.98,281.27 433.1,283.12 431.3,285.3 C429.5,287.48 428.83,290.53 429.2,292.9 C429.57,295.27 431.32,297.3 433.5,299.5 C435.68,301.7 440.13,304.8 442.3,306.1 C444.47,307.4 445.8,307.1 446.5,307.3" fill="none" stroke="#000" stroke-width="1.35"/>
<path d="M472.5,307.7 L479,307.7" fill="none" stroke="#000" stroke-width="1.35"/>
<path d="M408.5,326.1 C409.08,325.5 410.58,323.57 412,322.5 C413.42,321.43 415.27,320.45 417,319.7 C418.73,318.95 419.73,318.37 422.4,318 C425.07,317.63 429.28,317.58 433,317.5 C436.72,317.42 442.75,317.5 444.7,317.5" fill="none" stroke="#000" stroke-width="1.35" stroke-dasharray="4,2.2"/>
<path d="M474,319.1 L479,319.3" fill="none" stroke="#000" stroke-width="1.35" stroke-dasharray="4,2.2"/>
<path d="M339,326.1 C339.5,325.1 340.5,321.93 342,320.1 C343.5,318.27 345.33,316.4 348,315.1 C350.67,313.8 354.33,312.83 358,312.3 C361.67,311.77 366.17,311.67 370,311.9 C373.83,312.13 378,312.67 381,313.7 C384,314.73 386.25,316.03 388,318.1 C389.75,320.17 390.92,324.77 391.5,326.1" fill="none" stroke="#000" stroke-width="1.35"/>
<path d="M207,326.1 C208.17,325.43 211.37,323.27 214,322.1 C216.63,320.93 219.47,319.85 222.8,319.1 C226.13,318.35 230.35,317.9 234,317.6 C237.65,317.3 241.2,317.28 244.7,317.3 C248.2,317.32 251.72,317.4 255,317.7 C258.28,318 262.83,318.87 264.4,319.1" fill="none" stroke="#000" stroke-width="1.35"/>
<path d="M291,321.6 L295,326.1" fill="none" stroke="#000" stroke-width="1.35"/>
<path d="M48,325.6 C51.17,325.28 61.67,324.37 67,323.7 C72.33,323.03 76.37,322.15 80,321.6 C83.63,321.05 85.47,320.88 88.8,320.4 C92.13,319.92 96.35,319.08 100,318.7 C103.65,318.32 107.03,318.13 110.7,318.1 C114.37,318.07 118.35,318.32 122,318.5 C125.65,318.68 129.27,318.8 132.6,319.2 C135.93,319.6 139.1,320.35 142,320.9 C144.9,321.45 147.5,322 150,322.5 C152.5,323 154.5,323.37 157,323.9 C159.5,324.43 163.67,325.4 165,325.7" fill="none" stroke="#000" stroke-width="1.35" stroke-dasharray="4,2.2"/>
<text x="74" y="276.3" font-size="7.4" text-anchor="middle" textLength="24.6" lengthAdjust="spacingAndGlyphs" stroke="#000" stroke-width="0.18" transform="rotate(-3 74 273.7)">5e+06</text>
<text x="104" y="294.7" font-size="7.4" text-anchor="middle" textLength="24.6" lengthAdjust="spacingAndGlyphs" stroke="#000" stroke-width="0.18" transform="rotate(17 104 292.1)">2e+07</text>
<text x="157.5" y="261.7" font-size="7.4" text-anchor="middle" textLength="27.4" lengthAdjust="spacingAndGlyphs" stroke="#000" stroke-width="0.18" transform="rotate(-5 157.5 259.1)">-5e+06</text>
<text x="255.5" y="255.2" font-size="7.4" text-anchor="middle" textLength="24.6" lengthAdjust="spacingAndGlyphs" stroke="#000" stroke-width="0.18" transform="rotate(-28 255.5 252.6)">5e+06</text>
<text x="366.2" y="212.9" font-size="7.4" text-anchor="middle" textLength="24.6" lengthAdjust="spacingAndGlyphs" stroke="#000" stroke-width="0.18" transform="rotate(3 366.2 210.3)">5e+06</text>
<text x="344.3" y="266.3" font-size="7.4" text-anchor="middle" textLength="24.6" lengthAdjust="spacingAndGlyphs" stroke="#000" stroke-width="0.18" transform="rotate(-5 344.3 263.7)">5e+06</text>
<text x="410.6" y="255.1" font-size="7.4" text-anchor="middle" textLength="24.6" lengthAdjust="spacingAndGlyphs" stroke="#000" stroke-width="0.18" transform="rotate(-22 410.6 252.5)">5e+06</text>
<text x="442" y="261.2" font-size="7.4" text-anchor="middle" textLength="27.4" lengthAdjust="spacingAndGlyphs" stroke="#000" stroke-width="0.18" transform="rotate(3 442 258.6)">-5e+06</text>
<text x="418.5" y="288.7" font-size="7.4" text-anchor="middle" textLength="27.4" lengthAdjust="spacingAndGlyphs" stroke="#000" stroke-width="0.18" transform="rotate(-42 418.5 286.1)">-5e+06</text>
<text x="379.3" y="276.2" font-size="7.4" text-anchor="middle" textLength="27.4" lengthAdjust="spacingAndGlyphs" stroke="#000" stroke-width="0.18" transform="rotate(-3 379.3 273.6)">-2e+07</text>
<text x="252" y="312.3" font-size="7.4" text-anchor="middle" textLength="27.4" lengthAdjust="spacingAndGlyphs" stroke="#000" stroke-width="0.18" transform="rotate(5 252 309.7)">-5e+06</text>
<text x="459.3" y="310.3" font-size="7.4" text-anchor="middle" textLength="24.6" lengthAdjust="spacingAndGlyphs" stroke="#000" stroke-width="0.18" transform="rotate(2 459.3 307.7)">5e+06</text>
<text x="459.7" y="322.5" font-size="7.4" text-anchor="middle" textLength="27.4" lengthAdjust="spacingAndGlyphs" stroke="#000" stroke-width="0.18" transform="rotate(5 459.7 319.9)">-5e+06</text>
<text x="278.6" y="324.3" font-size="7.4" text-anchor="middle" textLength="24.6" lengthAdjust="spacingAndGlyphs" stroke="#000" stroke-width="0.18" transform="rotate(10 278.6 321.7)">5e+06</text>
</g>
<path d="M149.47,202.5 L153.35,202.5 L157.23,202.5 L161.12,202.5 L165,202.5 L168.88,202.5 L172.76,202.5 L176.64,202.5 L180.52,202.5 L184.4,202.5 L188.28,202.5 L192.16,202.5 L196.04,202.5 L199.92,202.5 L203.8,202.5 L207.68,202.5 L211.56,202.5 L215.44,202.5 L219.32,202.5 L223.2,202.5 L227.08,202.5 L230.97,202.5 L234.85,202.5 L238.73,202.5 L242.61,202.5 L246.49,202.5 L250.37,202.5 L254.25,202.5 L258.13,202.5 L262.01,202.5 L265.89,202.5 L269.77,202.5 L273.65,202.5 L277.53,202.5 L281.41,202.5 L285.29,202.5 L289.17,202.5 L293.05,202.5 L296.93,202.5 L300.82,202.5 L304.7,202.5 L308.58,202.5 L312.46,202.5 L316.34,202.5 L320.22,202.5 L324.1,202.5 L327.98,202.5 L331.86,202.5 L335.74,202.5 L339.62,202.5 L343.5,202.5 L347.38,202.5 L351.26,202.5 L355.14,202.5 L359.02,202.5 L362.9,202.5 L366.78,202.5 L370.67,202.5 L374.55,202.5 L378.43,202.5 L378.43,202.5 L381.06,203.2 L384,204.09 L387.2,205.15 L390.62,206.37 L394.22,207.74 L397.97,209.24 L401.81,210.85 L405.62,212.56 L409.29,214.32 L412.74,216.13 L416.01,217.99 L419.14,219.88 L422.19,221.81 L425.17,223.78 L428.09,225.78 L430.96,227.81 L433.79,229.87 L436.55,231.95 L439.25,234.06 L441.89,236.19 L444.44,238.34 L446.91,240.52 L449.28,242.71 L451.51,244.91 L453.62,247.13 L455.64,249.37 L457.6,251.61 L459.5,253.86 L461.32,256.12 L463.02,258.39 L464.61,260.66 L466.09,262.94 L467.48,265.22 L468.78,267.5 L469.99,269.79 L471.09,272.07 L472.08,274.35 L472.96,276.64 L473.73,278.92 L474.41,281.2 L475.04,283.48 L475.65,285.76 L476.23,288.05 L476.77,290.33 L477.25,292.61 L477.65,294.89 L478,297.18 L478.29,299.46 L478.53,301.74 L478.72,304.02 L478.87,306.31 L478.98,308.59 L479.05,310.87 L479,313.15 L478.9,315.44 L478.76,317.72 L478.57,320 L478.34,322.28 L478.06,324.57 L478.06,324.57 L470.8,324.57 L463.54,324.57 L456.29,324.57 L449.03,324.57 L441.77,324.57 L434.51,324.57 L427.25,324.57 L420,324.57 L412.74,324.57 L405.48,324.57 L398.22,324.57 L390.96,324.57 L383.71,324.57 L376.45,324.57 L369.19,324.57 L361.93,324.57 L354.67,324.57 L347.42,324.57 L340.16,324.57 L332.9,324.57 L325.64,324.57 L318.38,324.57 L311.13,324.57 L303.87,324.57 L296.61,324.57 L289.35,324.57 L282.09,324.57 L274.84,324.57 L267.58,324.57 L260.32,324.57 L253.06,324.57 L245.81,324.57 L238.55,324.57 L231.29,324.57 L224.03,324.57 L216.77,324.57 L209.52,324.57 L202.26,324.57 L195,324.57 L187.74,324.57 L180.48,324.57 L173.23,324.57 L165.97,324.57 L158.71,324.57 L151.45,324.57 L144.19,324.57 L136.94,324.57 L129.68,324.57 L122.42,324.57 L115.16,324.57 L107.9,324.57 L100.65,324.57 L93.39,324.57 L86.13,324.57 L78.87,324.57 L71.61,324.57 L64.36,324.57 L57.1,324.57 L49.84,324.57 L49.84,324.57 L49.56,322.28 L49.33,320 L49.14,317.72 L49,315.44 L48.9,313.15 L48.85,310.87 L48.92,308.59 L49.03,306.31 L49.18,304.02 L49.37,301.74 L49.61,299.46 L49.9,297.18 L50.25,294.89 L50.65,292.61 L51.13,290.33 L51.67,288.05 L52.25,285.76 L52.86,283.48 L53.49,281.2 L54.17,278.92 L54.94,276.64 L55.82,274.35 L56.81,272.07 L57.91,269.79 L59.12,267.5 L60.42,265.22 L61.81,262.94 L63.29,260.66 L64.88,258.39 L66.58,256.12 L68.4,253.86 L70.3,251.61 L72.26,249.37 L74.28,247.13 L76.39,244.91 L78.62,242.71 L80.99,240.52 L83.46,238.34 L86.01,236.19 L88.65,234.06 L91.35,231.95 L94.11,229.87 L96.94,227.81 L99.81,225.78 L102.73,223.78 L105.71,221.81 L108.76,219.88 L111.89,217.99 L115.16,216.13 L118.61,214.32 L122.28,212.56 L126.09,210.85 L129.93,209.24 L133.68,207.74 L137.28,206.37 L140.7,205.15 L143.9,204.09 L146.84,203.2 L149.47,202.5Z" fill="none" stroke="#000" stroke-width="1.1"/>
<text x="85.3" y="234" font-size="9.9" text-anchor="end" textLength="23.3" lengthAdjust="spacingAndGlyphs">60°N</text>
<text x="52.1" y="273.9" font-size="9.9" text-anchor="end" textLength="22.5" lengthAdjust="spacingAndGlyphs">30°N</text>
<text x="44.2" y="314.6" font-size="9.9" text-anchor="end" textLength="9.5" lengthAdjust="spacingAndGlyphs">0°</text>
<text x="121.3" y="337.1" font-size="9.9" text-anchor="middle" textLength="27.5" lengthAdjust="spacingAndGlyphs">120°E</text>
<text x="192.7" y="337.1" font-size="9.9" text-anchor="middle" textLength="30.4" lengthAdjust="spacingAndGlyphs">180°W</text>
<text x="263.5" y="337.1" font-size="9.9" text-anchor="middle" textLength="30.4" lengthAdjust="spacingAndGlyphs">120°W</text>
<text x="334.6" y="337.1" font-size="9.9" text-anchor="middle" textLength="24.6" lengthAdjust="spacingAndGlyphs">60°W</text>
<text x="406" y="337.1" font-size="9.9" text-anchor="middle" textLength="9.5" lengthAdjust="spacingAndGlyphs">0°</text>
<text x="17.4" y="409.6" font-size="14.4" text-anchor="middle" font-weight="bold" textLength="67" lengthAdjust="spacingAndGlyphs" transform="rotate(-90 17.4 409.6)">Temp +3</text>
<clipPath id="clip2"><path d="M149.47,347.6 L153.35,347.6 L157.23,347.6 L161.12,347.6 L165,347.6 L168.88,347.6 L172.76,347.6 L176.64,347.6 L180.52,347.6 L184.4,347.6 L188.28,347.6 L192.16,347.6 L196.04,347.6 L199.92,347.6 L203.8,347.6 L207.68,347.6 L211.56,347.6 L215.44,347.6 L219.32,347.6 L223.2,347.6 L227.08,347.6 L230.97,347.6 L234.85,347.6 L238.73,347.6 L242.61,347.6 L246.49,347.6 L250.37,347.6 L254.25,347.6 L258.13,347.6 L262.01,347.6 L265.89,347.6 L269.77,347.6 L273.65,347.6 L277.53,347.6 L281.41,347.6 L285.29,347.6 L289.17,347.6 L293.05,347.6 L296.93,347.6 L300.82,347.6 L304.7,347.6 L308.58,347.6 L312.46,347.6 L316.34,347.6 L320.22,347.6 L324.1,347.6 L327.98,347.6 L331.86,347.6 L335.74,347.6 L339.62,347.6 L343.5,347.6 L347.38,347.6 L351.26,347.6 L355.14,347.6 L359.02,347.6 L362.9,347.6 L366.78,347.6 L370.67,347.6 L374.55,347.6 L378.43,347.6 L378.43,347.6 L381.06,348.3 L384,349.19 L387.2,350.25 L390.62,351.47 L394.22,352.84 L397.97,354.34 L401.81,355.95 L405.62,357.66 L409.29,359.42 L412.74,361.23 L416.01,363.09 L419.14,364.98 L422.19,366.91 L425.17,368.88 L428.09,370.88 L430.96,372.91 L433.79,374.97 L436.55,377.05 L439.25,379.16 L441.89,381.29 L444.44,383.44 L446.91,385.62 L449.28,387.81 L451.51,390.01 L453.62,392.23 L455.64,394.47 L457.6,396.71 L459.5,398.96 L461.32,401.22 L463.02,403.49 L464.61,405.76 L466.09,408.04 L467.48,410.32 L468.78,412.6 L469.99,414.89 L471.09,417.17 L472.08,419.45 L472.96,421.74 L473.73,424.02 L474.41,426.3 L475.04,428.58 L475.65,430.86 L476.23,433.15 L476.77,435.43 L477.25,437.71 L477.65,439.99 L478,442.28 L478.29,444.56 L478.53,446.84 L478.72,449.12 L478.87,451.41 L478.98,453.69 L479.05,455.97 L479,458.25 L478.9,460.54 L478.76,462.82 L478.57,465.1 L478.34,467.38 L478.06,469.67 L478.06,469.67 L470.8,469.67 L463.54,469.67 L456.29,469.67 L449.03,469.67 L441.77,469.67 L434.51,469.67 L427.25,469.67 L420,469.67 L412.74,469.67 L405.48,469.67 L398.22,469.67 L390.96,469.67 L383.71,469.67 L376.45,469.67 L369.19,469.67 L361.93,469.67 L354.67,469.67 L347.42,469.67 L340.16,469.67 L332.9,469.67 L325.64,469.67 L318.38,469.67 L311.13,469.67 L303.87,469.67 L296.61,469.67 L289.35,469.67 L282.09,469.67 L274.84,469.67 L267.58,469.67 L260.32,469.67 L253.06,469.67 L245.81,469.67 L238.55,469.67 L231.29,469.67 L224.03,469.67 L216.77,469.67 L209.52,469.67 L202.26,469.67 L195,469.67 L187.74,469.67 L180.48,469.67 L173.23,469.67 L165.97,469.67 L158.71,469.67 L151.45,469.67 L144.19,469.67 L136.94,469.67 L129.68,469.67 L122.42,469.67 L115.16,469.67 L107.9,469.67 L100.65,469.67 L93.39,469.67 L86.13,469.67 L78.87,469.67 L71.61,469.67 L64.36,469.67 L57.1,469.67 L49.84,469.67 L49.84,469.67 L49.56,467.38 L49.33,465.1 L49.14,462.82 L49,460.54 L48.9,458.25 L48.85,455.97 L48.92,453.69 L49.03,451.41 L49.18,449.12 L49.37,446.84 L49.61,444.56 L49.9,442.28 L50.25,439.99 L50.65,437.71 L51.13,435.43 L51.67,433.15 L52.25,430.86 L52.86,428.58 L53.49,426.3 L54.17,424.02 L54.94,421.74 L55.82,419.45 L56.81,417.17 L57.91,414.89 L59.12,412.6 L60.42,410.32 L61.81,408.04 L63.29,405.76 L64.88,403.49 L66.58,401.22 L68.4,398.96 L70.3,396.71 L72.26,394.47 L74.28,392.23 L76.39,390.01 L78.62,387.81 L80.99,385.62 L83.46,383.44 L86.01,381.29 L88.65,379.16 L91.35,377.05 L94.11,374.97 L96.94,372.91 L99.81,370.88 L102.73,368.88 L105.71,366.91 L108.76,364.98 L111.89,363.09 L115.16,361.23 L118.61,359.42 L122.28,357.66 L126.09,355.95 L129.93,354.34 L133.68,352.84 L137.28,351.47 L140.7,350.25 L143.9,349.19 L146.84,348.3 L149.47,347.6Z"/></clipPath>
<g clip-path="url(#clip2)" id="mapbody2">
<path d="M230 348l7 -0.5 8 0 8 1 8 2 5 2 5 3 4 3.5 4 5 4.5 8 1.5 7 0 3 -0.5 4 -6.5 13 -1.5 4 -0.5 3 0.5 5 1 5 2 4 2.5 3 2 1.5 3 0 36 -4 10 0 4 1.5 2 3 0.5 4 -1 2 -1.5 3 -3 2.5 -7 5 -3 1 -4 1 -10 0 -22 -3 -5 0.5 -4 2 -12 10.5 -5 3 -5 2 -6 0.5 -9 -0.5 -31 -4.5 -31 -2 -13 -2 -9 -2.5 -9 -3.5 -6 -3.5 -5.5 -4.5 -4.5 -6 -4 -7 -1.5 -5 0.5 -4 2 -3 4 -2 6 -2 9 -1.5 10 -1 10 0 10 0.5 10 1.5 10 2.5 8 2.5 21 10.5 6 2.5 4 0.5 3 0 3 -1 2 -1.5 2 -3.5 0 -4 -1 -5 -2.5 -6 -15.5 -22 -5 -5 -10.5 -9 -2.5 -3 -1 -2 0 -2 1 -2 2 -3 2 -2 7 -3.5 8 -2.5zM139 355l13 0 11.5 1 8 2 1.5 1 1 1 0 1 -2.5 2 -7 2 -8.5 1.5 -10 0.5 -10 -0.5 -8.5 -1.5 -6 -2 -1.5 -1 -0.5 -1 0.5 -1 1 -1 4 -1.5 6 -1.5 8 -1zM446.5 375l3.5 0 4 1 3 1 2 2 0.5 2 0 3 -1.5 3 -3 3 -3 2.5 -4 2 -4 1.5 -5 1 -5 0 -4 -1 -2.5 -1 -2 -2 -1 -2 0 -3 2 -3 3 -3 3.5 -2.5 4 -2 5 -1.5 4.5 -1zM350 377l8 -0.5 8 0.5 9 2 7.5 2 5.5 3 3 3 1.5 2 0 2 -0.5 4 -3 4 -5 4 -6 3 -7 2.5 -9 2 -9 1 -7 0 -6 -1.5 -5 -3.5 -4.5 -5.5 -3 -6 -0.5 -3 0 -2 2.5 -4 5 -4 7.5 -3 8 -2zM89 380l3 -0.5 2 0 1.5 1.5 -0.5 2 -1.5 2 -2.5 2 -3 1 -2 -0.5 -1.5 -1.5 0.5 -2 1 -2 3 -2zM69.5 399l2.5 -1 2 1 1 2 -0.5 2 -1 1 -2.5 1.5 -1.5 -0.5 -1.5 -1 -0.5 -1 0.5 -2 1.5 -2zM376 455l13 0 12 0.5 15 2 16 2 13 2.5 7 2 4.5 2 1 1 1 2 0 1 -2 2 -6 3 -123 0 -3.5 -2 -1 -1.5 0 -1.5 1.5 -2 3.5 -3 6 -3.5 6 -2.5 6 -1.5 7 -1 23 -1.5zM98 462l7 0 7 1 3 1 1.5 1 0.5 1 0 2 -2 2 -5 2 -6 0.5 -6 -1 -4.5 -2.5 -1 -1 -0.5 -2 1 -2 1.5 -1 3.5 -1z" fill="#fee8b6" fill-rule="evenodd"/>
<path d="M231 353l7 -0.5 7 0.5 9 2 9 2.5 6 3.5 4 3 4.5 5 2.5 5 1 6 -1 5 -2 5 -5 9 -1.5 6 0 6 2 19 0 8 -2 5 -4.5 5 -4 3 -4 2 -5 1.5 -6 0.5 -11 -0.5 -27 -2.5 -31 -2.5 -13 -2 -12 -4 -9 -5 -6 -5.5 -4.5 -6 -2 -5 0 -4 0.5 -2 1 -2 4 -3 4.5 -2 7.5 -1.5 9 -1 10 -0.5 10 1 10 1 9 2.5 11 3.5 20 11 8 3 4 0 3 0 3 -1 2 -1.5 2.5 -3.5 0.5 -4 -0.5 -6 -2.5 -6 -2.5 -4 -7.5 -10 -8 -12 -10 -11 -2.5 -4 0 -2 0.5 -2 2 -3 4 -3 6 -2zM144.5 359l7.5 0.5 2.5 0.5 1 1 -1.5 1 -7 1 -7 -1 -1.5 -1 0.5 -1 5.5 -1zM353 379l7 0 7 0.5 6 1.5 5.5 2 3 2 3 3 1 3 -1 4 -3 4 -4 3 -5.5 3 -7 2 -7 1 -8 0.5 -6 -1 -5 -2 -4.5 -3.5 -3 -5 -1 -4 1 -4 3.5 -3.5 5 -3 6 -2 7 -1.5zM444.5 381l3.5 1 1.5 1 0 2 -2 3 -3.5 2 -3 1 -3 0 -3 -1 -1 -2 0.5 -1 2 -3 3.5 -2 4.5 -1zM306.5 425l11.5 -0.5 11 1 4 1 1 1 0.5 1.5 -1 2 -2.5 2 -9 5.5 -6 1.5 -6 0.5 -7 -1 -5 -2 -2.5 -2.5 -1 -3 1.5 -3 4 -2 6.5 -2zM369.5 457l11.5 -0.5 12 0 12 1 12 1.5 11 2.5 8 2.5 3.5 2 1 1 0.5 2 -0.5 1 -2 2 -5.5 3 -89.5 0 -4.5 -2 -3 -3 0 -2 1 -2 2.5 -2 4.5 -2 10 -3 15.5 -2zM99.5 465l3.5 -0.5 4 0 2 0.5 1 1 0 1 -1.5 1 -1.5 0.5 -5 0 -3 -1.5 0 -1 0.5 -1z" fill="#fdd585" fill-rule="evenodd"/>
<path d="M232 357l6 -0.5 6 0.5 9 1.5 9 3 5 2.5 4 3 3.5 4 2 4 1 5 -1 6 -2.5 4.5 -7 10.5 -1.5 5 0 21 1 9 0 3 -1 4 -2.5 3 -3 2 -4 1.5 -4 1 -6 0.5 -55 -2.5 -13 -1 -12 -2 -11 -4 -8 -4.5 -4 -3 -2.5 -3 -3 -5 -1 -4 0 -4 2.5 -3.5 4 -2.5 6 -2 7 -1.5 9 -0.5 9 0 9 1 9 1.5 8 2 12 5 19 11 7 2.5 4 0.5 4 0 4 -1.5 4 -2 2.5 -3 1 -4 -1 -8 -2 -6 -3 -5 -8.5 -8.5 -4 -5 -8 -13 -4.5 -6.5 -1.5 -3 0 -3 0.5 -2 2.5 -2 4 -2zM353.5 381l5.5 0 5 0.5 5 1 5 2 3 1.5 2.5 3 0.5 3 -0.5 3 -2.5 3 -4 3 -6 3 -6 1.5 -7 0.5 -6 -0.5 -5 -1 -4 -2 -3.5 -3.5 -1.5 -3 0 -4 1 -3 3 -2.5 4 -2.5 5 -1.5 6.5 -1.5zM312 429l3 0.5 2 0.5 1 1 0 1 -2 2 -3 1 -4 -0.5 -2 -1.5 -0.5 -1 0.5 -1 1 -0.5 4 -1.5zM377.5 458l19.5 0.5 18 2 6 1.5 5.5 2 3.5 2 1 1 0 2 0 1 -2 2 -6.5 3 -68.5 0 -6.5 -3 -2.5 -3 0 -2 1.5 -2 6 -3 11.5 -2.5 13.5 -1.5z" fill="#fdbb6d" fill-rule="evenodd"/>
<path d="M235 361l3 -0.5 5 0 13 2.5 5 1.5 4 2 3 2 2.5 2.5 2 3 1.5 3 0 3 0 3 -1 3 -2 4 -6 6.5 -3 2 -2 1 -2 0 -2 -0.5 -6 -3 -7 -6.5 -5 -7.5 -6.5 -14 -0.5 -2 0.5 -2 1.5 -2 2 -1zM352.5 383l5.5 0 5 0 4.5 1 3.5 1.5 3 2.5 1.5 2 0.5 2 -1 3 -2.5 3 -3 2 -4.5 2 -5 1.5 -5 0.5 -5 -0.5 -4 -0.5 -4 -2 -2.5 -2 -2 -3 -0.5 -3 1 -2.5 2 -2.5 4 -2.5 4 -1.5 4.5 -1zM157.5 410l9.5 -0.5 10 0 11 1.5 10 2.5 7 2.5 6.5 3 18.5 12.5 6 3 7 1.5 10 -0.5 3 0.5 2.5 2 0 3 -1.5 2 -1 1 -5 2 -28 1.5 -39 -1 -11 -1.5 -10 -2 -9 -4 -7 -4.5 -5 -5.5 -1.5 -3 -1 -3 0.5 -4 1 -2 2 -2 6 -3 8.5 -2zM371.5 460l9.5 -0.5 9 0 9 0.5 9 1 7 1.5 5 2 3.5 2.5 0.5 2 -1 1.5 -2 1.5 -7.5 3 -50.5 0 -8 -3 -1.5 -1 -1.5 -2 0 -2 1 -1 3 -2 6 -2 9.5 -2z" fill="#fb9d59" fill-rule="evenodd"/>
<path d="M241.5 365l6.5 -0.5 9 1.5 6 2.5 5 3.5 2.5 4 0.5 5 -1 5 -4 5 -5 3.5 -2 0.5 -3 0 -3 -1 -3 -1.5 -5 -4 -2.5 -3.5 -2.5 -4 -2 -8 0 -5 1.5 -2 2 -1zM352 385l8 0 7 1.5 3 1.5 1.5 2 0.5 2 -0.5 2 -1 2 -2.5 2 -3 1.5 -4 1.5 -8 1 -4 -0.5 -3.5 -1.5 -2.5 -1 -2 -2 -1 -3 0.5 -2 1 -2 2.5 -2 4 -2 4 -1zM162 411l10 0 11 0.5 11 2.5 9 3 8.5 4 8.5 6 10 9 1.5 2 0 2 -0.5 1 -2 1.5 -7 1.5 -11 1 -16 0.5 -11 -0.5 -9 -1 -9 -2 -7 -2.5 -6.5 -3.5 -5.5 -4 -3.5 -5 -1 -3 0 -2 0.5 -2 1 -2 4 -3 6 -2.5 8 -1.5zM376.5 461l14.5 -0.5 14 1.5 5 1.5 4.5 1.5 2.5 2 0.5 2 -1.5 2 -2 1.5 -5 1.5 -5 1 -32 0 -9 -2.5 -2.5 -1.5 -2 -2 0 -2 1 -1 3 -2 6.5 -1.5 7.5 -1.5z" fill="#f67c4a" fill-rule="evenodd"/>
<path d="M246 369l4 -1 6 0.5 5 2 4 2.5 2.5 3 1 4 -1 4 -2.5 4 -4 2.5 -2 1 -3 0 -5 -1.5 -4 -3 -3.5 -5 -1 -3 -0.5 -3 1 -4 1.5 -2 1.5 -1zM352 387l7 0 5.5 1 1.5 1 1.5 2 0.5 1 -0.5 2 -3 3 -5.5 2.5 -6 0 -3 0 -3 -1.5 -2 -1.5 -1 -1.5 0 -3 3 -3 5 -2zM168.5 412l9.5 0.5 9 1 9 2.5 8 3 8 5 6.5 5 4 5 1 2 0 2 -2.5 2.5 -6 2 -10 1 -14 0.5 -10 -0.5 -9 -1.5 -8 -2 -6 -2.5 -5.5 -3.5 -4.5 -4 -2.5 -5 0.5 -4 2 -3 5 -3 7 -2 8.5 -1zM383 462l11 0.5 10 1.5 6 2 1 1 0.5 2 -2 2 -5.5 2 -7 1.5 -9 0.5 -8 -0.5 -7.5 -1.5 -5.5 -2 -2.5 -2 0 -1 0.5 -1 4 -2.5 6 -1.5 8 -1z" fill="#ec5c3b" fill-rule="evenodd"/>
<path d="M249.5 372l3.5 -0.5 4 0.5 3 1 3 2.5 1.5 2.5 0.5 3 -1 3 -2 2 -3 2 -4 0 -4 -1.5 -2.5 -2.5 -2 -3 -0.5 -4 1 -3 2.5 -2zM355.5 389l2.5 0.5 3 0.5 2 2 -0.5 2 -2.5 2 -4 1 -4 0 -3 -2 -1 -2 1.5 -2 2.5 -1 3.5 -1zM162.5 414l8.5 -0.5 10 0.5 9 1.5 9 3 7.5 3.5 6.5 5 4 5 1 2 0 2 -2 2.5 -4 2 -7 1 -10 1 -9 0 -9 -1 -7 -1.5 -7 -2 -6 -3 -4 -3 -3.5 -4 -1.5 -4 1 -3 2.5 -3 4.5 -2 6.5 -2zM380 464l8 -0.5 8 1 7 1.5 1.5 1 0.5 1 0 1 -1 1 -2 1 -5 1.5 -7 0.5 -6 0 -6 -1 -4 -1 -3 -2 0 -1 0.5 -1 1 -1 2.5 -1 5 -1z" fill="#dd3d2d" fill-rule="evenodd"/>
<path d="M252 376l3 -0.5 2 0.5 2 1 1.5 2 0 2 -0.5 1.5 -1 1 -2 0.5 -2 0 -2.5 -1 -1.5 -2 -0.5 -2 0.5 -2 1 -1zM165.5 415l7.5 0 9 0.5 8 1.5 8 2.5 6.5 3.5 5.5 4 3 4 0.5 2 0 2 -2 2 -5 2 -6.5 1.5 -8 0.5 -8 0 -8 -1 -7 -1.5 -6 -2 -4.5 -2.5 -4 -3 -3 -4 -0.5 -3 1 -3 3 -2.5 5 -2 5.5 -1.5zM384.5 466l7.5 0.5 3.5 0.5 1 1 -0.5 1 -2.5 1 -5.5 0.5 -5.5 -0.5 -2.5 -1 -0.5 -1 1 -1 4 -1z" fill="#ca2427" fill-rule="evenodd"/>
<path d="M169 416l7 0 8 1 7 1.5 6.5 2.5 5.5 3 4.5 4 2 3 -0.5 3 -1.5 2 -4.5 2 -6 1 -8 0.5 -7 0 -7 -1 -6 -1.5 -5.5 -2 -5 -3 -3 -3 -1.5 -3 0 -3 2 -2.5 3 -2 4 -1.5 6 -1z" fill="#b10b26" fill-rule="evenodd"/>
<path d="M387 352l16 -0.5 7 0.5 6 1 4 1 3.5 2 1.5 2 0.5 3 -1.5 2 -2 2 -6 4 -8 2.5 -8 1.5 -7 0 -9 -0.5 -30 -5 -6 0 -5 1.5 -9 3.5 -11 5.5 -5 3 -2.5 3 -0.5 2 0.5 2 8 12 2.5 6 0 4 -2 3 -3.5 2 -5.5 2 -6 1 -6 0 -5 -0.5 -5 -1.5 -3 -2 -3 -3 -1 -3 0 -3 0.5 -3 1 -3 3.5 -4.5 8.5 -8.5 2 -3 0 -3 -5 -11 -1 -5 0.5 -3 1 -2 1.5 -2 2.5 -1.5 4 -2 4 -0.5 5 -0.5 5 0.5 9 1.5 15 5.5 7 1 6 -1.5 19 -5 12 -2.5zM182 372l11 -0.5 10 1.5 10 3.5 8 4.5 3.5 3 3.5 4 11.5 19 1.5 3 0.5 3 -0.5 2 -1 2 -1.5 1 -2.5 0.5 -5 -0.5 -5 -1.5 -14 -6.5 -8 -3.5 -10 -2.5 -12 -2 -12 -1.5 -12 -0.5 -36 2 -13 0 -7 -1 -5 -1.5 -4 -2 -2 -2.5 0.5 -1 1 -2 6.5 -5 5 -2.5 5 -1.5 26 -5 47 -6zM49 403l10 0.5 2 1 5 3.5 4 1 4 -0.5 7 -3 6 0 9 2 10 4.5 7 4.5 6 5.5 5 7 6 10 2.5 3 8.5 6.5 7 4 6 1.5 7 1 39 2.5 17 2 9 2.5 6 2 4 3 0.5 1 0 2 -3.5 3 -5.5 2 -85 0 -6.5 -2 -3.5 -2 -2 -2 -3.5 -6 -2 -2 -2 -1 -4 -1 -5 -1 -12 -0.5 -14 1 -10 1.5 -1 1 -0.5 1 2.5 4 1 3 -1.5 2 -3.5 1.5 -6 1 -9 0 -9 -1 -7 -1 0 -7.5 11 -3 3 -1 0.5 -1 -4.5 -2 -10 -2.5 0 -51 5 -0.5zM436.5 407l10.5 0 9 0.5 27 5 0 37 -12 2.5 -14 1.5 -14 1 -13 0 -36 -2.5 -29 -0.5 -10 -0.5 -9 -2 -3 -2 -1.5 -2 -0.5 -2 0 -3 5 -9.5 4 -5.5 5 -3 8 -2 25 -4.5 26 -5.5 10 -1.5 12.5 -1.5zM287.5 448l4.5 -0.5 6 0 14 1.5 5 1.5 4 1.5 1 1 1 2 -1 2 -3 3 -4 2.5 -5 2 -5 1 -6 0.5 -6 0 -6 -0.5 -4.5 -1.5 -3.5 -1.5 -2.5 -2.5 -0.5 -2 1 -3 2.5 -3 3.5 -2 4.5 -2z" fill="#e9f6fb" fill-rule="evenodd"/>
<path d="M192.5 375l8.5 0.5 8 2 7 3 5.5 3.5 5 6 9 16 2 5 -0.5 2 -1 1 -1 1 -2 0.5 -4 -0.5 -26 -10.5 -11 -3 -14 -2.5 -11 -1.5 -10 -0.5 -28 1.5 -10 -0.5 -6 -0.5 -4.5 -1.5 -2 -1 -2 -2 1 -2 2.5 -2 10 -2.5 41 -6 24 -4.5 9.5 -1zM303.5 392l4.5 0 4 1 4 2.5 3 3 2.5 3.5 1 4 0 3 -2.5 3 -3 2 -3.5 1 -4.5 1 -4 0 -4 -0.5 -4 -1 -2.5 -1.5 -2 -2 -1.5 -2 -1 -3 0.5 -3 1.5 -3 2 -2.5 3 -2.5 3 -1.5 3.5 -1.5zM44 408l13 -0.5 3 0.5 9 2.5 9 -0.5 4 0 12 2.5 11 4.5 8 5 5.5 6 2.5 5 3 9 3.5 6 0.5 2 -0.5 1 -1 1 -2 1 -6 1 -34.5 1 -9 -0.5 -8 -1.5 -8 -2 -5 -2 -10 -6.5 0 -34.5zM431 411l13 0 12 1.5 12.5 3.5 14.5 6.5 0 17.5 -11 5 -14 3.5 -14 2.5 -14 1 -12 -0.5 -24 -2 -24 -0.5 -9 -0.5 -6 -1 -4 -1.5 -3 -2 -1.5 -3 0 -4 2.5 -5 4 -3.5 5 -2.5 9 -2 24 -3 26 -7.5 14 -2.5zM291.5 450l7.5 -0.5 9 1.5 6 2 1 1 1 2 -1 2 -3 2 -5 2 -5 1 -5 0.5 -5 -0.5 -5 -1.5 -3 -1.5 -1 -1 -1 -2 1 -3 3 -2 5.5 -2zM153.5 458l28.5 0 13 0.5 10 1 9.5 1.5 7 2 4 2 1.5 1 1 2 -1 2 -3 2 -4 1.5 -6 1.5 -55 0 -8 -1.5 -7.5 -2.5 -3.5 -2 -2.5 -3 -0.5 -3 1 -1.5 2 -1.5 5 -1 8.5 -1z" fill="#d2eaf2" fill-rule="evenodd"/>
<path d="M190 378l8 0 7 1 7 2 6 3.5 4 3.5 4 6 6 12 0.5 2 -0.5 2 -2 1.5 -4 -0.5 -19 -7 -11 -3.5 -30 -7 -12 -2 -7 -0.5 -1 -0.5 0 -0.5 6 -1 28 -9 10 -2zM128.5 391l8.5 -0.5 8 0.5 -13 1.5 -5.5 -0.5 2 -1zM304 396l4 0 3 0.5 3 1.5 3 3 1.5 2 1 3 -1 3 -1.5 2 -5 2.5 -6 0.5 -6 -1 -4 -3 -1 -2 -0.5 -2 0.5 -4 1.5 -2 2.5 -2 5 -2zM48.5 411l10.5 0 9 1 12 1 13 3 10 4 7 5 3 3 1.5 3 0.5 2 0 3 -3 10 -1 1.5 -2 1.5 -6 1.5 -11 0.5 -11.5 -1 -10.5 -2.5 -26 -10.5 0 -25 4.5 -1zM428.5 414l8.5 -0.5 8 0.5 8 1 7 2.5 7 3.5 5 4 2.5 4 0.5 2 -0.5 2 -2 3 -4 3 -4.5 3 -5.5 2 -13.5 4 -14 1.5 -14 0 -24 -2.5 -20 -0.5 -8 -0.5 -6 -1 -4 -2 -2.5 -2 -1 -2 0 -3 2 -3 3.5 -2.5 4 -1.5 8 -1.5 17 -1.5 7 -1 23 -8 12.5 -3zM298 452l5 0.5 4 1.5 1.5 1 0.5 1 -0.5 1 -1 1 -2.5 1.5 -7 1 -6 -1 -3 -1.5 -0.5 -1 0 -2 1.5 -1 3 -1 5 -1zM163.5 460l20.5 -0.5 19 1.5 7 1 6.5 2 3.5 2 1 2 -1.5 2 -2.5 1.5 -4.5 1.5 -6.5 1.5 -6.5 0.5 -25 0 -9.5 -1 -8.5 -2 -5.5 -2 -2 -1 -2 -2 0 -2 0.5 -1 2.5 -1 6 -2 7.5 -1z" fill="#b9e0ed" fill-rule="evenodd"/>
<path d="M189 381l7 -0.5 7 0 6 1.5 6 3 4 3.5 3.5 4.5 3 8 0.5 2 0 2.5 -1 0.5 -2 0.5 -6 -1.5 -32.5 -10 -7 -3 -2.5 -2 0 -2 3 -3 5 -2 6 -2zM303 400l2 -0.5 3 0 3 0.5 1.5 1 2.5 3 0.5 2 -0.5 2 -2 2 -4 1.5 -4 0 -3.5 -1.5 -2.5 -2 -0.5 -3 1.5 -3 3 -2zM48.5 414l10.5 -0.5 15 1 8 1.5 8 2 8 3.5 6 4 2.5 2.5 1 2 0.5 2 -0.5 2 -2 3 -4.5 3.5 -6 2.5 -6 0.5 -6 0 -8 -1 -12 -3 -11 -3 -8 -3 0 -18.5 4.5 -1zM430.5 416l6.5 -0.5 7 0.5 6 1.5 6 2 4.5 2.5 4 4 1.5 4 -1 3 -2 3 -2 2 -4 2.5 -5 2.5 -11 3 -12 1.5 -13 -0.5 -23 -3.5 -18 0 -7 -0.5 -7 -2 -2 -1 -1 -2 0 -2 1 -1 2.5 -2 2.5 -1 8 -1.5 15 -0.5 6 -0.5 5 -1.5 18 -8.5 7 -2 7.5 -1.5zM175.5 461l14.5 0 13 1.5 5 1 4 1.5 1.5 1 1 1 0 1 -1.5 2 -7 2.5 -10 1.5 -11 0 -11 -0.5 -9 -1.5 -6 -2 -2 -1 -2 -2 0 -1 1 -1 4.5 -2 6.5 -1 8.5 -1z" fill="#9dcee3" fill-rule="evenodd"/>
<path d="M193.5 383l5.5 0 5 0 5 1.5 4 2 3 2.5 3 4 1.5 4 0 2 -0.5 1.5 -1 1 -2 0 -8.5 -1.5 -16 -5 -4.5 -2 -2.5 -2 -1 -1 0 -2 1.5 -2 4 -2 3.5 -1zM306 404l2 0 1.5 1 0.5 1 -1 1 -2 0.5 -1.5 -0.5 -1 -1 0.5 -1 1 -1zM56.5 416l7.5 0 9 1 7 1.5 7 2 6.5 2.5 4.5 3 2 3 0.5 3 -2.5 3 -5 2.5 -7 1 -8 0 -10 -1 -10 -2.5 -8.5 -3 -5.5 -3 0 -10 5.5 -2 7 -1zM430 418l6 -0.5 6 0.5 6 1 5 2 4 3 2.5 3 0.5 3 -1 3 -1.5 2 -2.5 2.5 -7 4 -9 3 -9 1 -10 0 -9 -1.5 -11 -4 -3.5 -2 -1 -1 0 -1 0.5 -1 2 -2 7 -5 6 -3.5 9 -4 10 -2.5zM372.5 436l5 0 1.5 1 -2 1 -4 0 -2 -1 1.5 -1zM172.5 463l12.5 -0.5 12 1 8.5 1.5 2 1 1 1 0 1 -1 1 -1.5 1 -5 1.5 -7 1 -9 0 -8 0 -7 -1.5 -5.5 -2 -1.5 -1 -0.5 -1 0.5 -1 1.5 -1 2.5 -1 5.5 -1z" fill="#81b7d7" fill-rule="evenodd"/>
<path d="M195.5 386l6.5 -0.5 3.5 0.5 3.5 1.5 2.5 1.5 2.5 3 1 2 -0.5 2 -1 1 -1.5 0.5 -4 -0.5 -7.5 -2 -4.5 -2 -3 -2 -1 -2 1.5 -2 2 -1zM57 419l6 0 6 0 11 2 5.5 2 3.5 2 3 3 0.5 2 -1.5 2 -2 1.5 -4 1 -5 0.5 -11 -0.5 -10.5 -2.5 -7 -3 -2.5 -2 -1 -2 0 -2 2 -1.5 2.5 -1.5 4.5 -1zM429 420l6 -0.5 5 0.5 5 0.5 4 1.5 3 2 2.5 3 0.5 2 0 3 -3.5 4 -4.5 3 -7 3 -8 1.5 -8 0 -8 -1 -6.5 -2.5 -3.5 -3 -0.5 -2 0 -2 2.5 -3 3.5 -3 8.5 -4.5 9 -2.5zM183 464l7 0.5 6.5 0.5 3.5 1 1 1 0.5 1 -1.5 1 -4 1.5 -11 0.5 -10 -1 -4 -1.5 -0.5 -1.5 1 -1 2.5 -1 9 -1z" fill="#679ec9" fill-rule="evenodd"/>
<path d="M428 422l9 -0.5 4 0.5 4 1 3.5 2 2 2 0.5 2 -0.5 3 -2.5 3 -4 3 -5 2 -6 1.5 -6 0 -6 -0.5 -5 -1.5 -4 -2.5 -1 -2 0 -2 1 -2 1.5 -2 2.5 -2 4 -2 8 -3zM59.5 423l6.5 -0.5 7.5 0.5 5.5 2 1.5 1 1.5 2 -0.5 1 -1.5 1 -4 1 -5 0 -6 -1 -5 -2 -2.5 -2 0 -1 0.5 -1 1.5 -1z" fill="#5183bb" fill-rule="evenodd"/>
<path d="M428 424l8 -0.5 4 0.5 3 1 2 1.5 1.5 1.5 0.5 2 -0.5 2 -1.5 2 -3 2.5 -4 1.5 -5 1 -5 0.5 -4.5 -0.5 -3.5 -1 -3.5 -2 -0.5 -1 -0.5 -2 0.5 -2 2 -2 4.5 -3 5.5 -2z" fill="#4065ac" fill-rule="evenodd"/>
<path d="M429.5 426l5.5 0 4 0.5 2.5 1.5 0.5 1 0.5 2 -1.5 2 -2 2 -6 2 -6 0 -3 -0.5 -2.5 -1.5 -1 -2 0 -1 1 -2 2.5 -2 5.5 -2z" fill="#36459c" fill-rule="evenodd"/>
<g fill="#111"><circle cx="55.6" cy="464.4" r="1.02"/><circle cx="63.5" cy="464.4" r="1.02"/><circle cx="71.3" cy="464.4" r="1.02"/><circle cx="79.2" cy="464.4" r="1.02"/><circle cx="87.1" cy="464.4" r="1.02"/><circle cx="94.9" cy="464.4" r="1.02"/><circle cx="102.8" cy="464.4" r="1.02"/><circle cx="110.7" cy="464.4" r="1.02"/><circle cx="118.6" cy="464.4" r="1.02"/><circle cx="126.4" cy="464.4" r="1.02"/><circle cx="134.3" cy="464.4" r="1.02"/><circle cx="142.2" cy="464.4" r="1.02"/><circle cx="150.0" cy="464.4" r="1.02"/><circle cx="157.9" cy="464.4" r="1.02"/><circle cx="165.8" cy="464.4" r="1.02"/><circle cx="173.7" cy="464.4" r="1.02"/><circle cx="181.5" cy="464.4" r="1.02"/><circle cx="189.4" cy="464.4" r="1.02"/><circle cx="197.3" cy="464.4" r="1.02"/><circle cx="205.2" cy="464.4" r="1.02"/><circle cx="213.0" cy="464.4" r="1.02"/><circle cx="220.9" cy="464.4" r="1.02"/><circle cx="228.8" cy="464.4" r="1.02"/><circle cx="236.6" cy="464.4" r="1.02"/><circle cx="244.5" cy="464.4" r="1.02"/><circle cx="252.4" cy="464.4" r="1.02"/><circle cx="260.3" cy="464.4" r="1.02"/><circle cx="268.1" cy="464.4" r="1.02"/><circle cx="276.0" cy="464.4" r="1.02"/><circle cx="283.9" cy="464.4" r="1.02"/><circle cx="291.7" cy="464.4" r="1.02"/><circle cx="299.6" cy="464.4" r="1.02"/><circle cx="307.5" cy="464.4" r="1.02"/><circle cx="315.4" cy="464.4" r="1.02"/><circle cx="323.2" cy="464.4" r="1.02"/><circle cx="331.1" cy="464.4" r="1.02"/><circle cx="339.0" cy="464.4" r="1.02"/><circle cx="346.8" cy="464.4" r="1.02"/><circle cx="354.7" cy="464.4" r="1.02"/><circle cx="362.6" cy="464.4" r="1.02"/><circle cx="370.5" cy="464.4" r="1.02"/><circle cx="378.3" cy="464.4" r="1.02"/><circle cx="386.2" cy="464.4" r="1.02"/><circle cx="394.1" cy="464.4" r="1.02"/><circle cx="401.9" cy="464.4" r="1.02"/><circle cx="409.8" cy="464.4" r="1.02"/><circle cx="417.7" cy="464.4" r="1.02"/><circle cx="425.6" cy="464.4" r="1.02"/><circle cx="433.4" cy="464.4" r="1.02"/><circle cx="441.3" cy="464.4" r="1.02"/><circle cx="449.2" cy="464.4" r="1.02"/><circle cx="457.0" cy="464.4" r="1.02"/><circle cx="464.9" cy="464.4" r="1.02"/><circle cx="472.8" cy="464.4" r="1.02"/><circle cx="55.2" cy="456.9" r="1.02"/><circle cx="63.1" cy="456.9" r="1.02"/><circle cx="71.0" cy="456.9" r="1.02"/><circle cx="78.9" cy="456.9" r="1.02"/><circle cx="86.7" cy="456.9" r="1.02"/><circle cx="94.6" cy="456.9" r="1.02"/><circle cx="102.5" cy="456.9" r="1.02"/><circle cx="110.4" cy="456.9" r="1.02"/><circle cx="118.3" cy="456.9" r="1.02"/><circle cx="126.2" cy="456.9" r="1.02"/><circle cx="134.1" cy="456.9" r="1.02"/><circle cx="141.9" cy="456.9" r="1.02"/><circle cx="149.8" cy="456.9" r="1.02"/><circle cx="157.7" cy="456.9" r="1.02"/><circle cx="165.6" cy="456.9" r="1.02"/><circle cx="173.5" cy="456.9" r="1.02"/><circle cx="181.4" cy="456.9" r="1.02"/><circle cx="189.3" cy="456.9" r="1.02"/><circle cx="197.2" cy="456.9" r="1.02"/><circle cx="205.0" cy="456.9" r="1.02"/><circle cx="212.9" cy="456.9" r="1.02"/><circle cx="220.8" cy="456.9" r="1.02"/><circle cx="228.7" cy="456.9" r="1.02"/><circle cx="236.6" cy="456.9" r="1.02"/><circle cx="244.5" cy="456.9" r="1.02"/><circle cx="252.4" cy="456.9" r="1.02"/><circle cx="260.2" cy="456.9" r="1.02"/><circle cx="268.1" cy="456.9" r="1.02"/><circle cx="276.0" cy="456.9" r="1.02"/><circle cx="283.9" cy="456.9" r="1.02"/><circle cx="291.8" cy="456.9" r="1.02"/><circle cx="299.7" cy="456.9" r="1.02"/><circle cx="307.6" cy="456.9" r="1.02"/><circle cx="315.5" cy="456.9" r="1.02"/><circle cx="323.3" cy="456.9" r="1.02"/><circle cx="331.2" cy="456.9" r="1.02"/><circle cx="339.1" cy="456.9" r="1.02"/><circle cx="347.0" cy="456.9" r="1.02"/><circle cx="354.9" cy="456.9" r="1.02"/><circle cx="362.8" cy="456.9" r="1.02"/><circle cx="370.7" cy="456.9" r="1.02"/><circle cx="378.5" cy="456.9" r="1.02"/><circle cx="386.4" cy="456.9" r="1.02"/><circle cx="394.3" cy="456.9" r="1.02"/><circle cx="402.2" cy="456.9" r="1.02"/><circle cx="410.1" cy="456.9" r="1.02"/><circle cx="418.0" cy="456.9" r="1.02"/><circle cx="425.9" cy="456.9" r="1.02"/><circle cx="433.7" cy="456.9" r="1.02"/><circle cx="441.6" cy="456.9" r="1.02"/><circle cx="449.5" cy="456.9" r="1.02"/><circle cx="457.4" cy="456.9" r="1.02"/><circle cx="465.3" cy="456.9" r="1.02"/><circle cx="473.2" cy="456.9" r="1.02"/><circle cx="55.5" cy="449.3" r="1.02"/><circle cx="63.4" cy="449.3" r="1.02"/><circle cx="71.2" cy="449.3" r="1.02"/><circle cx="79.1" cy="449.3" r="1.02"/><circle cx="87.0" cy="449.3" r="1.02"/><circle cx="94.9" cy="449.3" r="1.02"/><circle cx="102.7" cy="449.3" r="1.02"/><circle cx="110.6" cy="449.3" r="1.02"/><circle cx="118.5" cy="449.3" r="1.02"/><circle cx="126.4" cy="449.3" r="1.02"/><circle cx="134.2" cy="449.3" r="1.02"/><circle cx="142.1" cy="449.3" r="1.02"/><circle cx="150.0" cy="449.3" r="1.02"/><circle cx="157.9" cy="449.3" r="1.02"/><circle cx="165.7" cy="449.3" r="1.02"/><circle cx="173.6" cy="449.3" r="1.02"/><circle cx="181.5" cy="449.3" r="1.02"/><circle cx="189.4" cy="449.3" r="1.02"/><circle cx="197.2" cy="449.3" r="1.02"/><circle cx="205.1" cy="449.3" r="1.02"/><circle cx="213.0" cy="449.3" r="1.02"/><circle cx="220.9" cy="449.3" r="1.02"/><circle cx="228.7" cy="449.3" r="1.02"/><circle cx="236.6" cy="449.3" r="1.02"/><circle cx="244.5" cy="449.3" r="1.02"/><circle cx="252.4" cy="449.3" r="1.02"/><circle cx="260.3" cy="449.3" r="1.02"/><circle cx="307.5" cy="449.3" r="1.02"/><circle cx="315.4" cy="449.3" r="1.02"/><circle cx="323.3" cy="449.3" r="1.02"/><circle cx="56.3" cy="441.8" r="1.02"/><circle cx="64.1" cy="441.8" r="1.02"/><circle cx="72.0" cy="441.8" r="1.02"/><circle cx="79.8" cy="441.8" r="1.02"/><circle cx="87.7" cy="441.8" r="1.02"/><circle cx="95.5" cy="441.8" r="1.02"/><circle cx="103.3" cy="441.8" r="1.02"/><circle cx="111.2" cy="441.8" r="1.02"/><circle cx="119.0" cy="441.8" r="1.02"/><circle cx="126.9" cy="441.8" r="1.02"/><circle cx="134.7" cy="441.8" r="1.02"/><circle cx="142.6" cy="441.8" r="1.02"/><circle cx="150.4" cy="441.8" r="1.02"/><circle cx="158.3" cy="441.8" r="1.02"/><circle cx="166.1" cy="441.8" r="1.02"/><circle cx="174.0" cy="441.8" r="1.02"/><circle cx="181.8" cy="441.8" r="1.02"/><circle cx="189.7" cy="441.8" r="1.02"/><circle cx="197.5" cy="441.8" r="1.02"/><circle cx="205.3" cy="441.8" r="1.02"/><circle cx="213.2" cy="441.8" r="1.02"/><circle cx="221.0" cy="441.8" r="1.02"/><circle cx="228.9" cy="441.8" r="1.02"/><circle cx="236.7" cy="441.8" r="1.02"/><circle cx="244.6" cy="441.8" r="1.02"/><circle cx="252.4" cy="441.8" r="1.02"/><circle cx="260.3" cy="441.8" r="1.02"/><circle cx="268.1" cy="441.8" r="1.02"/><circle cx="338.7" cy="441.8" r="1.02"/><circle cx="346.6" cy="441.8" r="1.02"/><circle cx="354.4" cy="441.8" r="1.02"/><circle cx="362.3" cy="441.8" r="1.02"/><circle cx="370.1" cy="441.8" r="1.02"/><circle cx="378.0" cy="441.8" r="1.02"/><circle cx="385.8" cy="441.8" r="1.02"/><circle cx="393.6" cy="441.8" r="1.02"/><circle cx="401.5" cy="441.8" r="1.02"/><circle cx="409.3" cy="441.8" r="1.02"/><circle cx="417.2" cy="441.8" r="1.02"/><circle cx="425.0" cy="441.8" r="1.02"/><circle cx="432.9" cy="441.8" r="1.02"/><circle cx="440.7" cy="441.8" r="1.02"/><circle cx="448.6" cy="441.8" r="1.02"/><circle cx="456.4" cy="441.8" r="1.02"/><circle cx="464.3" cy="441.8" r="1.02"/><circle cx="472.1" cy="441.8" r="1.02"/><circle cx="57.7" cy="434.2" r="1.02"/><circle cx="65.5" cy="434.2" r="1.02"/><circle cx="73.2" cy="434.2" r="1.02"/><circle cx="81.0" cy="434.2" r="1.02"/><circle cx="88.8" cy="434.2" r="1.02"/><circle cx="96.6" cy="434.2" r="1.02"/><circle cx="104.4" cy="434.2" r="1.02"/><circle cx="112.2" cy="434.2" r="1.02"/><circle cx="120.0" cy="434.2" r="1.02"/><circle cx="127.8" cy="434.2" r="1.02"/><circle cx="135.6" cy="434.2" r="1.02"/><circle cx="143.4" cy="434.2" r="1.02"/><circle cx="151.2" cy="434.2" r="1.02"/><circle cx="159.0" cy="434.2" r="1.02"/><circle cx="166.8" cy="434.2" r="1.02"/><circle cx="174.6" cy="434.2" r="1.02"/><circle cx="182.4" cy="434.2" r="1.02"/><circle cx="190.1" cy="434.2" r="1.02"/><circle cx="197.9" cy="434.2" r="1.02"/><circle cx="205.7" cy="434.2" r="1.02"/><circle cx="213.5" cy="434.2" r="1.02"/><circle cx="221.3" cy="434.2" r="1.02"/><circle cx="229.1" cy="434.2" r="1.02"/><circle cx="236.9" cy="434.2" r="1.02"/><circle cx="244.7" cy="434.2" r="1.02"/><circle cx="252.5" cy="434.2" r="1.02"/><circle cx="260.3" cy="434.2" r="1.02"/><circle cx="268.1" cy="434.2" r="1.02"/><circle cx="338.2" cy="434.2" r="1.02"/><circle cx="346.0" cy="434.2" r="1.02"/><circle cx="353.8" cy="434.2" r="1.02"/><circle cx="361.6" cy="434.2" r="1.02"/><circle cx="369.4" cy="434.2" r="1.02"/><circle cx="377.2" cy="434.2" r="1.02"/><circle cx="385.0" cy="434.2" r="1.02"/><circle cx="392.8" cy="434.2" r="1.02"/><circle cx="400.6" cy="434.2" r="1.02"/><circle cx="408.4" cy="434.2" r="1.02"/><circle cx="416.2" cy="434.2" r="1.02"/><circle cx="424.0" cy="434.2" r="1.02"/><circle cx="431.7" cy="434.2" r="1.02"/><circle cx="439.5" cy="434.2" r="1.02"/><circle cx="447.3" cy="434.2" r="1.02"/><circle cx="455.1" cy="434.2" r="1.02"/><circle cx="462.9" cy="434.2" r="1.02"/><circle cx="470.7" cy="434.2" r="1.02"/><circle cx="59.6" cy="426.7" r="1.02"/><circle cx="67.3" cy="426.7" r="1.02"/><circle cx="75.0" cy="426.7" r="1.02"/><circle cx="82.7" cy="426.7" r="1.02"/><circle cx="90.5" cy="426.7" r="1.02"/><circle cx="98.2" cy="426.7" r="1.02"/><circle cx="105.9" cy="426.7" r="1.02"/><circle cx="113.6" cy="426.7" r="1.02"/><circle cx="121.3" cy="426.7" r="1.02"/><circle cx="129.1" cy="426.7" r="1.02"/><circle cx="136.8" cy="426.7" r="1.02"/><circle cx="144.5" cy="426.7" r="1.02"/><circle cx="152.2" cy="426.7" r="1.02"/><circle cx="159.9" cy="426.7" r="1.02"/><circle cx="167.7" cy="426.7" r="1.02"/><circle cx="175.4" cy="426.7" r="1.02"/><circle cx="183.1" cy="426.7" r="1.02"/><circle cx="190.8" cy="426.7" r="1.02"/><circle cx="198.6" cy="426.7" r="1.02"/><circle cx="206.3" cy="426.7" r="1.02"/><circle cx="214.0" cy="426.7" r="1.02"/><circle cx="221.7" cy="426.7" r="1.02"/><circle cx="229.4" cy="426.7" r="1.02"/><circle cx="237.2" cy="426.7" r="1.02"/><circle cx="244.9" cy="426.7" r="1.02"/><circle cx="252.6" cy="426.7" r="1.02"/><circle cx="260.3" cy="426.7" r="1.02"/><circle cx="268.0" cy="426.7" r="1.02"/><circle cx="322.1" cy="426.7" r="1.02"/><circle cx="329.8" cy="426.7" r="1.02"/><circle cx="337.5" cy="426.7" r="1.02"/><circle cx="345.3" cy="426.7" r="1.02"/><circle cx="353.0" cy="426.7" r="1.02"/><circle cx="360.7" cy="426.7" r="1.02"/><circle cx="368.4" cy="426.7" r="1.02"/><circle cx="376.1" cy="426.7" r="1.02"/><circle cx="383.9" cy="426.7" r="1.02"/><circle cx="391.6" cy="426.7" r="1.02"/><circle cx="399.3" cy="426.7" r="1.02"/><circle cx="407.0" cy="426.7" r="1.02"/><circle cx="414.7" cy="426.7" r="1.02"/><circle cx="422.5" cy="426.7" r="1.02"/><circle cx="430.2" cy="426.7" r="1.02"/><circle cx="437.9" cy="426.7" r="1.02"/><circle cx="445.6" cy="426.7" r="1.02"/><circle cx="453.4" cy="426.7" r="1.02"/><circle cx="461.1" cy="426.7" r="1.02"/><circle cx="468.8" cy="426.7" r="1.02"/><circle cx="62.1" cy="419.2" r="1.02"/><circle cx="69.7" cy="419.2" r="1.02"/><circle cx="77.3" cy="419.2" r="1.02"/><circle cx="84.9" cy="419.2" r="1.02"/><circle cx="92.6" cy="419.2" r="1.02"/><circle cx="100.2" cy="419.2" r="1.02"/><circle cx="107.8" cy="419.2" r="1.02"/><circle cx="115.5" cy="419.2" r="1.02"/><circle cx="123.1" cy="419.2" r="1.02"/><circle cx="130.7" cy="419.2" r="1.02"/><circle cx="138.3" cy="419.2" r="1.02"/><circle cx="146.0" cy="419.2" r="1.02"/><circle cx="153.6" cy="419.2" r="1.02"/><circle cx="161.2" cy="419.2" r="1.02"/><circle cx="168.8" cy="419.2" r="1.02"/><circle cx="176.5" cy="419.2" r="1.02"/><circle cx="184.1" cy="419.2" r="1.02"/><circle cx="191.7" cy="419.2" r="1.02"/><circle cx="199.3" cy="419.2" r="1.02"/><circle cx="207.0" cy="419.2" r="1.02"/><circle cx="214.6" cy="419.2" r="1.02"/><circle cx="222.2" cy="419.2" r="1.02"/><circle cx="229.9" cy="419.2" r="1.02"/><circle cx="237.5" cy="419.2" r="1.02"/><circle cx="245.1" cy="419.2" r="1.02"/><circle cx="252.7" cy="419.2" r="1.02"/><circle cx="260.4" cy="419.2" r="1.02"/><circle cx="268.0" cy="419.2" r="1.02"/><circle cx="275.6" cy="419.2" r="1.02"/><circle cx="283.2" cy="419.2" r="1.02"/><circle cx="290.9" cy="419.2" r="1.02"/><circle cx="298.5" cy="419.2" r="1.02"/><circle cx="306.1" cy="419.2" r="1.02"/><circle cx="313.8" cy="419.2" r="1.02"/><circle cx="321.4" cy="419.2" r="1.02"/><circle cx="329.0" cy="419.2" r="1.02"/><circle cx="359.5" cy="419.2" r="1.02"/><circle cx="367.1" cy="419.2" r="1.02"/><circle cx="374.8" cy="419.2" r="1.02"/><circle cx="382.4" cy="419.2" r="1.02"/><circle cx="390.0" cy="419.2" r="1.02"/><circle cx="397.7" cy="419.2" r="1.02"/><circle cx="405.3" cy="419.2" r="1.02"/><circle cx="412.9" cy="419.2" r="1.02"/><circle cx="420.5" cy="419.2" r="1.02"/><circle cx="428.2" cy="419.2" r="1.02"/><circle cx="435.8" cy="419.2" r="1.02"/><circle cx="443.4" cy="419.2" r="1.02"/><circle cx="451.0" cy="419.2" r="1.02"/><circle cx="65.7" cy="411.6" r="1.02"/><circle cx="73.2" cy="411.6" r="1.02"/><circle cx="80.7" cy="411.6" r="1.02"/><circle cx="88.2" cy="411.6" r="1.02"/><circle cx="95.6" cy="411.6" r="1.02"/><circle cx="103.1" cy="411.6" r="1.02"/><circle cx="110.6" cy="411.6" r="1.02"/><circle cx="118.1" cy="411.6" r="1.02"/><circle cx="125.6" cy="411.6" r="1.02"/><circle cx="133.1" cy="411.6" r="1.02"/><circle cx="140.6" cy="411.6" r="1.02"/><circle cx="148.1" cy="411.6" r="1.02"/><circle cx="155.6" cy="411.6" r="1.02"/><circle cx="163.1" cy="411.6" r="1.02"/><circle cx="170.5" cy="411.6" r="1.02"/><circle cx="178.0" cy="411.6" r="1.02"/><circle cx="185.5" cy="411.6" r="1.02"/><circle cx="193.0" cy="411.6" r="1.02"/><circle cx="200.5" cy="411.6" r="1.02"/><circle cx="208.0" cy="411.6" r="1.02"/><circle cx="215.5" cy="411.6" r="1.02"/><circle cx="223.0" cy="411.6" r="1.02"/><circle cx="230.5" cy="411.6" r="1.02"/><circle cx="238.0" cy="411.6" r="1.02"/><circle cx="245.5" cy="411.6" r="1.02"/><circle cx="252.9" cy="411.6" r="1.02"/><circle cx="260.4" cy="411.6" r="1.02"/><circle cx="267.9" cy="411.6" r="1.02"/><circle cx="275.4" cy="411.6" r="1.02"/><circle cx="282.9" cy="411.6" r="1.02"/><circle cx="297.9" cy="411.6" r="1.02"/><circle cx="305.4" cy="411.6" r="1.02"/><circle cx="312.9" cy="411.6" r="1.02"/><circle cx="320.4" cy="411.6" r="1.02"/><circle cx="327.8" cy="411.6" r="1.02"/><circle cx="70.3" cy="404.1" r="1.02"/><circle cx="77.6" cy="404.1" r="1.02"/><circle cx="84.9" cy="404.1" r="1.02"/><circle cx="92.3" cy="404.1" r="1.02"/><circle cx="99.6" cy="404.1" r="1.02"/><circle cx="106.9" cy="404.1" r="1.02"/><circle cx="114.2" cy="404.1" r="1.02"/><circle cx="121.5" cy="404.1" r="1.02"/><circle cx="128.8" cy="404.1" r="1.02"/><circle cx="136.2" cy="404.1" r="1.02"/><circle cx="143.5" cy="404.1" r="1.02"/><circle cx="150.8" cy="404.1" r="1.02"/><circle cx="158.1" cy="404.1" r="1.02"/><circle cx="165.4" cy="404.1" r="1.02"/><circle cx="172.7" cy="404.1" r="1.02"/><circle cx="180.0" cy="404.1" r="1.02"/><circle cx="187.4" cy="404.1" r="1.02"/><circle cx="194.7" cy="404.1" r="1.02"/><circle cx="202.0" cy="404.1" r="1.02"/><circle cx="209.3" cy="404.1" r="1.02"/><circle cx="216.6" cy="404.1" r="1.02"/><circle cx="223.9" cy="404.1" r="1.02"/><circle cx="231.3" cy="404.1" r="1.02"/><circle cx="238.6" cy="404.1" r="1.02"/><circle cx="245.9" cy="404.1" r="1.02"/><circle cx="253.2" cy="404.1" r="1.02"/><circle cx="260.5" cy="404.1" r="1.02"/><circle cx="267.8" cy="404.1" r="1.02"/><circle cx="275.1" cy="404.1" r="1.02"/><circle cx="282.5" cy="404.1" r="1.02"/><circle cx="297.1" cy="404.1" r="1.02"/><circle cx="304.4" cy="404.1" r="1.02"/><circle cx="311.7" cy="404.1" r="1.02"/><circle cx="319.0" cy="404.1" r="1.02"/><circle cx="326.4" cy="404.1" r="1.02"/><circle cx="333.7" cy="404.1" r="1.02"/><circle cx="341.0" cy="404.1" r="1.02"/><circle cx="348.3" cy="404.1" r="1.02"/><circle cx="355.6" cy="404.1" r="1.02"/><circle cx="362.9" cy="404.1" r="1.02"/><circle cx="370.2" cy="404.1" r="1.02"/><circle cx="377.6" cy="404.1" r="1.02"/><circle cx="384.9" cy="404.1" r="1.02"/><circle cx="90.3" cy="396.6" r="1.02"/><circle cx="97.4" cy="396.6" r="1.02"/><circle cx="104.5" cy="396.6" r="1.02"/><circle cx="111.6" cy="396.6" r="1.02"/><circle cx="118.7" cy="396.6" r="1.02"/><circle cx="125.8" cy="396.6" r="1.02"/><circle cx="132.9" cy="396.6" r="1.02"/><circle cx="140.0" cy="396.6" r="1.02"/><circle cx="147.1" cy="396.6" r="1.02"/><circle cx="154.1" cy="396.6" r="1.02"/><circle cx="161.2" cy="396.6" r="1.02"/><circle cx="168.3" cy="396.6" r="1.02"/><circle cx="175.4" cy="396.6" r="1.02"/><circle cx="182.5" cy="396.6" r="1.02"/><circle cx="189.6" cy="396.6" r="1.02"/><circle cx="196.7" cy="396.6" r="1.02"/><circle cx="203.8" cy="396.6" r="1.02"/><circle cx="210.9" cy="396.6" r="1.02"/><circle cx="218.0" cy="396.6" r="1.02"/><circle cx="225.1" cy="396.6" r="1.02"/><circle cx="232.2" cy="396.6" r="1.02"/><circle cx="239.3" cy="396.6" r="1.02"/><circle cx="246.4" cy="396.6" r="1.02"/><circle cx="253.5" cy="396.6" r="1.02"/><circle cx="260.6" cy="396.6" r="1.02"/><circle cx="267.7" cy="396.6" r="1.02"/><circle cx="274.8" cy="396.6" r="1.02"/><circle cx="281.9" cy="396.6" r="1.02"/><circle cx="296.1" cy="396.6" r="1.02"/><circle cx="303.2" cy="396.6" r="1.02"/><circle cx="310.3" cy="396.6" r="1.02"/><circle cx="317.4" cy="396.6" r="1.02"/><circle cx="324.5" cy="396.6" r="1.02"/><circle cx="338.7" cy="396.6" r="1.02"/><circle cx="345.8" cy="396.6" r="1.02"/><circle cx="352.9" cy="396.6" r="1.02"/><circle cx="360.0" cy="396.6" r="1.02"/><circle cx="367.1" cy="396.6" r="1.02"/><circle cx="374.2" cy="396.6" r="1.02"/><circle cx="381.3" cy="396.6" r="1.02"/><circle cx="388.4" cy="396.6" r="1.02"/><circle cx="89.5" cy="389.3" r="1.02"/><circle cx="96.3" cy="389.3" r="1.02"/><circle cx="103.2" cy="389.3" r="1.02"/><circle cx="110.0" cy="389.3" r="1.02"/><circle cx="116.9" cy="389.3" r="1.02"/><circle cx="123.7" cy="389.3" r="1.02"/><circle cx="130.6" cy="389.3" r="1.02"/><circle cx="137.4" cy="389.3" r="1.02"/><circle cx="144.3" cy="389.3" r="1.02"/><circle cx="151.1" cy="389.3" r="1.02"/><circle cx="158.0" cy="389.3" r="1.02"/><circle cx="164.8" cy="389.3" r="1.02"/><circle cx="171.7" cy="389.3" r="1.02"/><circle cx="178.5" cy="389.3" r="1.02"/><circle cx="185.4" cy="389.3" r="1.02"/><circle cx="192.2" cy="389.3" r="1.02"/><circle cx="199.1" cy="389.3" r="1.02"/><circle cx="205.9" cy="389.3" r="1.02"/><circle cx="212.8" cy="389.3" r="1.02"/><circle cx="219.6" cy="389.3" r="1.02"/><circle cx="226.5" cy="389.3" r="1.02"/><circle cx="233.3" cy="389.3" r="1.02"/><circle cx="240.2" cy="389.3" r="1.02"/><circle cx="247.0" cy="389.3" r="1.02"/><circle cx="253.9" cy="389.3" r="1.02"/><circle cx="260.7" cy="389.3" r="1.02"/><circle cx="267.6" cy="389.3" r="1.02"/><circle cx="274.4" cy="389.3" r="1.02"/><circle cx="281.3" cy="389.3" r="1.02"/><circle cx="295.0" cy="389.3" r="1.02"/><circle cx="301.8" cy="389.3" r="1.02"/><circle cx="308.7" cy="389.3" r="1.02"/><circle cx="315.5" cy="389.3" r="1.02"/><circle cx="322.4" cy="389.3" r="1.02"/><circle cx="329.2" cy="389.3" r="1.02"/><circle cx="336.1" cy="389.3" r="1.02"/><circle cx="342.9" cy="389.3" r="1.02"/><circle cx="349.8" cy="389.3" r="1.02"/><circle cx="356.6" cy="389.3" r="1.02"/><circle cx="363.5" cy="389.3" r="1.02"/><circle cx="370.3" cy="389.3" r="1.02"/><circle cx="377.2" cy="389.3" r="1.02"/><circle cx="384.0" cy="389.3" r="1.02"/><circle cx="390.9" cy="389.3" r="1.02"/><circle cx="182.2" cy="382.1" r="1.02"/><circle cx="188.7" cy="382.1" r="1.02"/><circle cx="195.3" cy="382.1" r="1.02"/><circle cx="201.8" cy="382.1" r="1.02"/><circle cx="208.4" cy="382.1" r="1.02"/><circle cx="215.0" cy="382.1" r="1.02"/><circle cx="221.5" cy="382.1" r="1.02"/><circle cx="228.1" cy="382.1" r="1.02"/><circle cx="234.6" cy="382.1" r="1.02"/><circle cx="241.2" cy="382.1" r="1.02"/><circle cx="247.8" cy="382.1" r="1.02"/><circle cx="254.3" cy="382.1" r="1.02"/><circle cx="260.9" cy="382.1" r="1.02"/><circle cx="267.4" cy="382.1" r="1.02"/><circle cx="274.0" cy="382.1" r="1.02"/><circle cx="280.5" cy="382.1" r="1.02"/><circle cx="293.7" cy="382.1" r="1.02"/><circle cx="300.2" cy="382.1" r="1.02"/><circle cx="306.8" cy="382.1" r="1.02"/><circle cx="313.3" cy="382.1" r="1.02"/><circle cx="319.9" cy="382.1" r="1.02"/><circle cx="326.4" cy="382.1" r="1.02"/><circle cx="186.2" cy="375.1" r="1.02"/><circle cx="192.5" cy="375.1" r="1.02"/><circle cx="198.7" cy="375.1" r="1.02"/><circle cx="204.9" cy="375.1" r="1.02"/><circle cx="211.2" cy="375.1" r="1.02"/><circle cx="217.4" cy="375.1" r="1.02"/><circle cx="223.6" cy="375.1" r="1.02"/><circle cx="229.9" cy="375.1" r="1.02"/><circle cx="236.1" cy="375.1" r="1.02"/><circle cx="242.3" cy="375.1" r="1.02"/><circle cx="248.6" cy="375.1" r="1.02"/><circle cx="254.8" cy="375.1" r="1.02"/><circle cx="261.0" cy="375.1" r="1.02"/><circle cx="267.3" cy="375.1" r="1.02"/><circle cx="273.5" cy="375.1" r="1.02"/><circle cx="279.7" cy="375.1" r="1.02"/><circle cx="292.2" cy="375.1" r="1.02"/><circle cx="298.4" cy="375.1" r="1.02"/><circle cx="304.7" cy="375.1" r="1.02"/><circle cx="310.9" cy="375.1" r="1.02"/><circle cx="317.1" cy="375.1" r="1.02"/><circle cx="323.3" cy="375.1" r="1.02"/><circle cx="329.6" cy="375.1" r="1.02"/><circle cx="184.7" cy="368.4" r="1.02"/><circle cx="190.6" cy="368.4" r="1.02"/><circle cx="196.5" cy="368.4" r="1.02"/><circle cx="202.3" cy="368.4" r="1.02"/><circle cx="208.2" cy="368.4" r="1.02"/><circle cx="214.1" cy="368.4" r="1.02"/><circle cx="220.0" cy="368.4" r="1.02"/><circle cx="225.9" cy="368.4" r="1.02"/><circle cx="231.8" cy="368.4" r="1.02"/><circle cx="237.7" cy="368.4" r="1.02"/><circle cx="243.5" cy="368.4" r="1.02"/><circle cx="249.4" cy="368.4" r="1.02"/><circle cx="255.3" cy="368.4" r="1.02"/><circle cx="261.2" cy="368.4" r="1.02"/><circle cx="267.1" cy="368.4" r="1.02"/><circle cx="273.0" cy="368.4" r="1.02"/><circle cx="278.8" cy="368.4" r="1.02"/><circle cx="284.7" cy="368.4" r="1.02"/><circle cx="290.6" cy="368.4" r="1.02"/><circle cx="296.5" cy="368.4" r="1.02"/><circle cx="302.4" cy="368.4" r="1.02"/><circle cx="308.3" cy="368.4" r="1.02"/><circle cx="314.1" cy="368.4" r="1.02"/><circle cx="320.0" cy="368.4" r="1.02"/><circle cx="325.9" cy="368.4" r="1.02"/><circle cx="331.8" cy="368.4" r="1.02"/><circle cx="337.7" cy="368.4" r="1.02"/><circle cx="343.6" cy="368.4" r="1.02"/><circle cx="349.4" cy="368.4" r="1.02"/><circle cx="355.3" cy="368.4" r="1.02"/><circle cx="361.2" cy="368.4" r="1.02"/><circle cx="367.1" cy="368.4" r="1.02"/><circle cx="373.0" cy="368.4" r="1.02"/><circle cx="378.9" cy="368.4" r="1.02"/><circle cx="384.7" cy="368.4" r="1.02"/><circle cx="390.6" cy="368.4" r="1.02"/><circle cx="396.5" cy="368.4" r="1.02"/><circle cx="402.4" cy="368.4" r="1.02"/><circle cx="408.3" cy="368.4" r="1.02"/><circle cx="228.3" cy="362.0" r="1.02"/><circle cx="233.8" cy="362.0" r="1.02"/><circle cx="239.3" cy="362.0" r="1.02"/><circle cx="244.8" cy="362.0" r="1.02"/><circle cx="250.3" cy="362.0" r="1.02"/><circle cx="255.9" cy="362.0" r="1.02"/><circle cx="261.4" cy="362.0" r="1.02"/><circle cx="266.9" cy="362.0" r="1.02"/><circle cx="272.4" cy="362.0" r="1.02"/><circle cx="277.9" cy="362.0" r="1.02"/><circle cx="283.4" cy="362.0" r="1.02"/><circle cx="294.4" cy="362.0" r="1.02"/><circle cx="299.9" cy="362.0" r="1.02"/><circle cx="305.4" cy="362.0" r="1.02"/><circle cx="310.9" cy="362.0" r="1.02"/><circle cx="316.5" cy="362.0" r="1.02"/><circle cx="322.0" cy="362.0" r="1.02"/><circle cx="327.5" cy="362.0" r="1.02"/><circle cx="333.0" cy="362.0" r="1.02"/><circle cx="338.5" cy="362.0" r="1.02"/><circle cx="344.0" cy="362.0" r="1.02"/><circle cx="349.5" cy="362.0" r="1.02"/><circle cx="355.0" cy="362.0" r="1.02"/><circle cx="360.5" cy="362.0" r="1.02"/><circle cx="366.0" cy="362.0" r="1.02"/><circle cx="371.6" cy="362.0" r="1.02"/><circle cx="377.1" cy="362.0" r="1.02"/><circle cx="382.6" cy="362.0" r="1.02"/><circle cx="388.1" cy="362.0" r="1.02"/><circle cx="393.6" cy="362.0" r="1.02"/><circle cx="399.1" cy="362.0" r="1.02"/><circle cx="404.6" cy="362.0" r="1.02"/><circle cx="231.1" cy="356.2" r="1.02"/><circle cx="236.2" cy="356.2" r="1.02"/><circle cx="241.3" cy="356.2" r="1.02"/><circle cx="246.3" cy="356.2" r="1.02"/><circle cx="251.4" cy="356.2" r="1.02"/><circle cx="256.5" cy="356.2" r="1.02"/><circle cx="261.6" cy="356.2" r="1.02"/><circle cx="266.6" cy="356.2" r="1.02"/><circle cx="271.7" cy="356.2" r="1.02"/><circle cx="276.8" cy="356.2" r="1.02"/><circle cx="281.9" cy="356.2" r="1.02"/><circle cx="292.0" cy="356.2" r="1.02"/><circle cx="297.1" cy="356.2" r="1.02"/><circle cx="302.2" cy="356.2" r="1.02"/><circle cx="307.2" cy="356.2" r="1.02"/><circle cx="312.3" cy="356.2" r="1.02"/><circle cx="317.4" cy="356.2" r="1.02"/><circle cx="322.5" cy="356.2" r="1.02"/><circle cx="327.5" cy="356.2" r="1.02"/><circle cx="332.6" cy="356.2" r="1.02"/><circle cx="337.7" cy="356.2" r="1.02"/><circle cx="342.8" cy="356.2" r="1.02"/><circle cx="347.8" cy="356.2" r="1.02"/><circle cx="352.9" cy="356.2" r="1.02"/><circle cx="358.0" cy="356.2" r="1.02"/><circle cx="363.1" cy="356.2" r="1.02"/><circle cx="368.1" cy="356.2" r="1.02"/><circle cx="373.2" cy="356.2" r="1.02"/><circle cx="378.3" cy="356.2" r="1.02"/><circle cx="383.4" cy="356.2" r="1.02"/><circle cx="388.4" cy="356.2" r="1.02"/><circle cx="393.5" cy="356.2" r="1.02"/><circle cx="398.6" cy="356.2" r="1.02"/></g>
<path d="M107.2,366.0L111.6,365.4L113.0,366.2L118.0,364.0L121.2,361.8L124.2,361.3L121.8,363.5L116.8,366.9L117.3,367.4L120.6,365.7L123.6,362.9L127.0,361.8L130.2,362.2L132.9,360.8L137.9,360.4L140.9,359.2L145.0,358.6L149.0,358.1L152.7,357.8L159.0,356.4L160.3,357.5L163.3,357.6L160.0,360.8L163.9,361.3L168.6,360.8L171.1,360.8L170.9,362.4L171.2,363.7L173.6,363.0L176.2,363.0L178.8,362.9L180.7,361.8L183.1,361.9L185.5,362.0L188.2,362.8L190.0,363.6L193.5,363.5L195.3,364.6L195.7,365.2L198.4,365.0L201.0,364.9L203.9,364.5L206.4,364.6L208.9,364.7L211.8,365.8L214.1,366.3L216.0,368.0L218.4,368.6L219.0,369.2L216.3,370.4L215.5,371.2L213.0,370.7L210.6,370.8L209.5,370.4L207.8,371.0L205.3,373.4L202.0,374.2L199.7,375.2L197.1,376.4L193.3,376.4L191.4,376.5L190.1,377.0L188.1,378.9L188.3,381.4L186.2,382.9L182.8,385.2L180.7,386.5L178.2,387.8L178.8,385.2L180.3,381.4L183.1,379.2L188.3,375.2L188.4,374.3L185.6,374.6L181.5,377.0L178.2,377.7L175.6,377.3L170.8,377.3L168.1,378.3L163.8,381.0L160.3,384.0L163.3,384.9L163.1,386.5L160.8,389.1L159.5,391.1L156.6,393.1L152.2,396.4L147.9,398.6L145.5,399.0L143.1,401.0L140.2,403.3L140.5,406.1L139.4,408.7L137.1,409.5L135.7,409.6L137.2,406.6L137.2,405.4L135.7,405.0L137.3,403.0L136.5,402.5L134.3,401.7L132.3,403.8L134.2,402.0L134.1,401.2L131.8,402.4L129.1,403.4L128.2,404.5L128.9,405.8L131.3,405.3L132.8,406.1L130.0,407.7L127.9,409.3L128.5,412.3L128.9,414.5L128.1,415.5L128.4,416.5L127.2,418.5L124.1,421.9L122.5,423.2L120.5,424.6L116.9,426.2L114.2,426.8L112.3,427.7L111.7,428.9L111.3,427.2L109.7,427.2L107.6,428.3L106.2,430.6L106.7,432.6L107.8,434.4L108.8,435.7L108.9,438.7L108.6,440.7L106.8,441.8L105.1,443.0L103.3,444.6L103.1,442.9L102.7,442.1L101.1,441.4L100.5,439.8L98.9,439.1L98.0,438.2L96.5,442.1L97.2,443.8L97.5,446.1L98.6,446.9L99.6,447.9L100.9,450.1L100.9,452.7L101.8,454.3L100.9,454.4L99.1,452.8L98.3,452.3L97.3,449.9L97.1,447.6L96.0,445.6L95.2,444.9L95.6,442.7L96.1,440.0L96.0,438.0L95.8,434.7L95.5,433.4L93.9,434.2L92.4,434.9L91.9,434.1L92.7,431.3L91.8,430.1L90.8,428.3L90.7,426.2L89.4,425.9L87.2,427.0L84.8,427.2L84.4,428.5L81.8,430.2L80.2,431.7L77.8,433.8L75.1,435.3L74.4,438.0L73.6,442.3L71.7,444.1L70.4,445.4L69.3,444.2L68.8,441.4L68.1,439.0L67.9,436.5L67.3,434.7L67.3,431.3L67.9,428.6L67.9,427.4L68.1,426.2L65.3,428.1L64.2,426.2L65.4,425.4L63.8,424.4L62.8,424.0L62.6,422.0L60.0,422.3L56.6,422.3L54.8,422.0M73.5,443.0L74.8,444.8L75.4,446.1L74.7,447.9L73.2,448.1L73.1,445.4L73.5,443.0M165.8,383.6L165.4,385.9L163.7,389.1L164.1,390.4L163.1,390.0L161.2,392.4L161.1,393.6L159.6,394.4L161.1,391.1L163.1,387.8L163.8,385.9L165.8,383.6M154.7,400.4L156.1,400.0L157.1,398.9L158.6,399.7L161.7,398.0L160.9,397.2L159.8,396.8L159.2,395.0L158.3,396.5L157.2,397.8L156.2,398.0L155.1,399.2L154.7,400.4M156.2,400.5L155.7,402.9L154.0,404.6L153.3,406.4L152.3,408.1L151.1,409.2L149.8,409.6L147.7,409.6L145.8,411.1L145.6,409.6L143.1,409.9L140.6,410.5L140.7,410.0L143.1,408.4L145.4,408.3L147.2,408.0L148.8,406.0L149.2,406.6L151.1,405.2L152.8,403.8L153.9,402.1L154.2,401.3L156.2,400.5M139.3,411.0L140.6,410.5L140.9,412.3L139.6,413.9L138.5,414.2L138.7,412.0L139.3,411.0M141.9,411.8L144.0,411.4L144.8,410.3L143.0,410.3L141.9,411.8M125.6,422.3L126.6,422.7L125.3,425.8L124.4,426.6L124.0,425.0L125.6,422.3M109.5,430.3L111.4,429.1L112.4,429.8L110.9,431.6L109.4,431.2L109.5,430.3M123.5,431.3L125.3,431.3L124.8,434.0L123.7,437.1L126.5,438.7L125.8,439.2L122.8,437.9L122.5,434.7L123.5,431.3M123.3,446.8L125.3,445.4L127.6,443.1L128.8,446.5L127.2,448.7L125.9,447.6L123.3,446.8M124.5,440.6L126.7,439.4L128.0,441.1L128.0,442.7L125.2,443.5L124.2,442.1L124.5,440.6M107.4,454.2L108.1,457.5L108.9,460.2L113.5,460.9L116.2,460.6L115.8,457.5L117.6,455.5L118.9,451.5L119.6,449.2L117.9,446.8L116.0,448.1L114.8,449.7L112.9,451.5L109.8,454.0L108.1,453.5L107.4,454.2M91.3,448.7L93.9,449.2L97.3,453.5L101.1,457.5L103.9,460.2L104.0,464.0L102.3,464.0L99.6,461.6L97.3,457.5L95.3,453.9L93.2,451.9L91.3,448.7M103.2,465.4L104.1,464.3L107.1,464.8L110.1,464.8L112.2,465.5L114.4,466.6L114.4,467.9L110.3,467.4L107.3,466.7L104.8,466.2L103.2,465.4M120.2,463.6L119.8,460.9L120.3,456.2L121.7,454.4L126.4,454.2L124.5,455.5L121.9,457.0L123.5,458.2L122.4,460.2L123.7,462.4L122.2,462.4L121.3,463.6L120.2,463.6M115.1,467.5L116.8,467.2L119.9,467.6L122.2,467.5L124.6,467.4L121.7,468.2L117.5,468.3L115.1,467.5M126.0,469.7L127.0,468.3L129.7,467.5L128.3,468.6L126.0,469.7M129.6,453.8L131.0,454.2L130.1,457.0L129.6,453.8M130.2,460.5L133.5,460.2L133.2,461.3L130.2,460.9L130.2,460.5M133.7,458.0L135.5,456.7L137.3,457.4L139.2,460.6L142.1,458.5L145.7,459.7L149.9,461.3L151.8,463.6L153.6,464.5L154.3,467.0L156.9,470.1L153.3,469.7L152.0,467.6L149.6,466.6L148.5,468.3L146.1,468.5L143.6,467.0L142.5,467.5L142.0,463.6L138.6,462.1L136.2,461.6L135.0,460.0L133.7,458.0M156.5,460.2L158.9,461.9L158.4,463.6L154.8,463.9L156.5,460.2M140.5,472.4L141.4,471.7L140.4,471.0L136.8,471.4L134.4,471.4L133.3,472.4M147.0,472.4L148.0,470.6L149.0,472.4M220.6,369.7L223.9,366.0L227.2,364.3L230.1,363.7L233.1,363.1L236.7,363.7L239.6,364.1L242.5,364.6L245.9,364.9L250.0,365.7L252.7,365.2L255.4,364.6L259.6,365.2L263.9,365.7L268.3,366.3L271.4,366.6L274.5,366.9L278.0,367.0L281.6,367.1L284.9,366.3L285.4,362.6L287.6,364.6L290.2,366.3L294.2,365.2L297.3,366.9L297.9,368.6L294.5,371.0L291.6,372.2L290.2,374.0L288.5,377.7L290.9,380.2L295.5,380.8L298.8,382.4L302.2,385.4L306.0,387.2L305.2,383.3L306.6,380.8L304.6,378.3L304.3,375.8L303.1,373.6L306.9,373.6L311.2,375.2L312.6,377.7L316.3,376.1L317.9,377.7L320.8,380.2L323.6,382.1L327.6,384.6L329.7,386.5L328.5,387.3L326.1,388.9L322.7,388.9L319.4,388.9L317.4,391.1L321.9,390.4L321.8,391.7L322.5,393.3L326.9,395.0L327.8,394.4L324.3,397.0L322.2,397.3L321.2,395.7L320.8,396.1L317.9,397.4L317.7,399.0L318.6,400.2L316.5,400.8L314.5,401.7L314.7,403.0L313.8,403.8L313.5,405.7L313.1,406.5L313.9,408.8L311.9,409.7L310.5,411.5L308.4,413.4L308.3,415.8L309.5,418.2L310.3,420.2L310.0,422.3L309.0,422.3L308.0,420.4L306.9,418.2L305.8,416.1L304.1,416.2L302.3,415.3L299.5,415.4L299.0,416.9L297.9,416.7L295.0,416.2L293.0,416.6L290.2,419.2L290.2,421.3L289.9,423.9L290.4,427.2L292.1,429.9L294.0,431.7L296.5,431.2L298.1,430.7L298.6,429.4L298.7,427.9L302.6,427.2L302.1,429.9L301.4,432.0L301.2,434.7L304.1,434.8L306.5,436.0L307.4,436.1L307.1,441.4L308.0,442.7L309.8,444.3L312.1,443.3L314.6,444.5L316.3,443.4L316.9,442.1L318.6,441.1L320.9,440.2L321.6,442.1L323.3,439.8L325.2,442.1L328.1,441.9L330.5,441.9L332.9,441.8L334.5,444.8L336.6,445.4L338.5,448.1L341.5,448.3L345.1,449.9L346.3,450.8L347.6,453.8L347.7,456.9L349.4,458.0L354.1,459.6L357.7,460.1L361.3,461.2L363.6,462.9L365.3,465.0L365.3,467.0L364.9,469.0L363.8,470.3M309.7,471.0L310.2,464.3L311.1,460.9L311.7,459.2L311.3,456.9L312.0,454.9L313.2,453.8L314.7,450.8L314.9,447.4L313.6,445.4L311.8,445.2L311.0,446.4L309.2,445.2L306.0,443.3L304.6,441.7L302.5,438.7L300.1,438.0L297.7,437.3L295.9,434.9L294.1,434.4L291.7,435.1L289.3,434.2L286.4,432.9L283.4,431.6L281.0,429.3L281.2,427.2L279.7,424.8L277.3,422.1L274.9,418.8L272.6,416.1L270.0,413.5L270.3,415.8L272.0,418.5L273.8,421.2L275.6,423.9L276.2,425.0L275.3,424.6L273.3,422.8L270.9,419.2L269.1,416.1L267.2,412.4L265.8,410.4L263.3,409.6L261.8,406.9L261.2,405.3L259.8,402.6L259.3,400.0L259.1,398.4L259.7,394.1L259.0,391.2L260.8,391.5L258.8,389.1L255.7,387.8L253.9,383.3L252.1,380.8L249.4,378.7L247.1,377.9L244.8,376.7L241.1,376.2L238.3,375.8L235.6,375.1L233.4,377.4L230.7,379.9L227.8,381.4L225.0,382.7L221.5,382.7L219.4,383.3L222.3,381.7L226.3,379.8L228.2,377.9L223.8,378.2L223.4,376.4L221.4,375.2L222.1,373.1L224.3,371.0L221.6,370.7L220.6,369.7M217.6,384.2L213.2,385.5L209.9,386.1L206.6,386.8L202.5,386.9L199.7,386.2L196.9,385.5L195.5,385.2M300.8,372.2L302.3,371.0L305.7,369.2L310.6,369.0L313.1,368.6L315.6,368.3L312.9,366.3L309.3,365.2L306.6,364.0L302.7,362.9L298.9,361.8L295.8,361.3L292.7,360.8L289.6,361.3L291.3,364.0L294.9,364.6L298.4,364.8L301.5,366.3L304.6,367.4L308.7,371.0L313.3,373.4L315.4,374.0L311.4,373.1L305.9,371.0L302.8,372.5L300.8,372.2M265.6,363.5L269.0,362.4L272.2,361.3L275.6,361.6L278.9,361.8L280.3,364.6L277.3,365.2L274.4,365.7L271.8,365.6L269.2,365.5L265.6,363.5M259.8,362.4L262.3,359.7L266.4,361.3L265.6,362.9L262.7,362.7L259.8,362.4M287.4,357.1L290.1,357.3L292.8,357.6L295.5,357.8L297.9,355.1L299.9,354.3L301.9,353.6L303.8,352.9L305.3,352.0L303.1,352.0L300.9,351.9L298.7,351.8L296.5,351.8L294.4,351.7L292.2,351.6L290.3,352.0L288.4,352.4L286.4,352.9L284.4,353.3L287.4,357.1M286.3,358.6L288.9,358.4L291.4,358.1L294.0,357.9L296.3,359.5L293.1,359.6L289.9,359.8L286.6,359.6L286.3,358.6M276.3,361.1L279.2,361.2L282.1,361.3L283.6,364.0L280.8,362.9L276.3,361.1M266.3,358.3L269.2,358.2L272.1,358.0L275.0,357.9L276.8,358.9L274.4,359.3L272.1,359.7L269.2,359.0L266.3,358.3M276.8,355.1L279.2,354.4L281.6,353.7L284.7,354.2L287.9,354.6L285.3,355.6L282.5,356.6L279.6,355.8L276.8,355.1M294.5,369.2L297.1,368.9L299.7,368.6L297.9,371.6L294.5,369.2M299.9,355.9L302.9,357.0L306.0,358.1L308.3,358.0L310.6,357.9L313.3,358.4L316.2,360.2L318.3,362.9L321.1,364.0L323.8,366.3L323.4,368.6L327.2,371.6L330.7,374.6L335.5,376.4L337.4,376.3L337.5,373.4L336.6,370.4L338.5,369.8L341.1,366.6L343.6,365.3L345.9,364.0L345.5,361.8L344.4,359.2L343.1,357.1L338.2,354.2L340.0,352.9L337.0,352.4L334.0,352.0L331.0,351.6L328.8,351.5L326.6,351.5L324.3,351.4L322.1,351.3L319.9,351.2L317.8,351.4L315.7,351.6L313.6,351.8L311.4,352.0L309.2,352.2L307.0,352.4L305.4,353.1L303.7,353.7L301.9,354.8L299.9,355.9M353.4,371.6L350.6,369.8L351.6,368.7L354.2,368.7L356.9,368.6L360.4,370.1L360.0,371.2L357.6,372.3L353.4,371.6M327.8,392.3L329.8,387.1L333.3,390.0L334.9,392.4L334.1,393.5L331.4,392.3L327.8,392.3M304.9,426.8L308.3,425.0L310.6,425.1L314.3,426.8L317.7,429.0L313.8,429.4L312.5,427.2L309.0,426.4L306.6,426.7L304.9,426.8M317.5,431.4L319.7,429.4L322.7,429.7L324.7,431.2L322.8,431.7L320.5,432.0L317.5,431.4M313.0,431.4L315.4,431.7L314.6,432.2L313.0,431.4M326.1,431.3L328.0,431.4L327.8,432.0L326.1,432.0L326.1,431.3M418.6,366.3L415.8,366.2L413.3,366.9L409.5,366.6L407.3,366.3L410.3,368.8L408.6,369.2L409.5,371.0L406.8,371.0L403.5,369.8L401.1,368.6L404.7,369.0L407.0,368.0L405.0,366.9L398.3,365.5L396.3,365.3L389.5,363.5L386.1,363.5L384.3,364.0L382.5,364.6L381.7,366.9L383.2,369.8L383.8,372.2L381.0,374.0L384.4,377.7L387.9,378.9L389.4,377.4L391.2,378.3L394.7,381.0L397.4,382.1L398.4,380.8L396.7,377.0L393.7,375.2L392.4,370.4L395.3,369.8L397.7,375.2L400.4,376.4L403.4,376.1L406.4,375.8L404.4,376.5L402.3,377.3L402.5,379.9L403.5,381.4L403.7,383.3L399.4,384.1L396.4,383.6L395.5,384.0L393.5,382.7L390.0,380.2L391.2,379.3L393.1,383.2L393.4,384.1L390.3,384.7L390.7,386.5L390.8,387.4L389.3,388.0L388.8,389.8L387.2,389.7L384.7,391.1L388.6,392.8L390.6,394.6L392.0,397.7L389.4,397.8L384.8,397.4L384.4,398.6L385.8,401.0L386.4,404.0L387.9,406.1L389.6,406.2L391.5,407.3L392.4,407.7L393.1,406.8L395.9,406.6L396.7,404.8L397.0,403.7L396.3,401.0L398.2,399.7L397.2,398.0L399.1,397.8L401.5,397.3L402.4,396.5L404.6,397.7L407.8,399.7L413.3,402.4L414.8,404.4L414.7,405.0L415.5,404.4L415.5,403.2L416.3,402.1L413.8,400.8L409.5,398.9L406.1,396.5L406.3,394.8L407.5,395.8L410.9,397.7L416.0,400.0L417.6,402.4L420.4,404.4L423.4,407.1L423.2,405.3L423.9,404.8L421.6,403.0L421.7,401.4L424.1,401.3L424.0,400.4L427.1,401.0L425.4,403.0L426.9,404.5L428.5,406.4L429.7,406.8L432.5,407.2L434.4,407.6L436.7,406.6L438.6,407.1L439.0,408.1L439.9,409.6L439.9,411.8L440.3,413.8L438.0,414.2L435.2,414.0L429.4,413.6L424.1,414.7L423.4,413.8L423.4,412.8L417.8,412.7L412.6,411.4L411.0,410.0L411.4,408.8L409.8,406.8L408.4,406.0L403.7,406.6L398.7,408.0L396.8,408.9L392.7,407.9L392.1,408.4L391.9,410.4L390.4,415.3L390.6,416.5L387.0,419.2L386.2,423.2L384.8,427.7L386.0,430.6L386.2,434.7L385.3,436.4L386.4,438.2L388.3,440.7L390.7,443.4L393.3,446.8L397.6,450.3L401.2,449.3L404.8,449.7L408.9,447.9L412.4,447.7L414.4,450.4L417.3,450.0L419.0,452.2L419.0,454.9L418.3,457.5L421.0,460.6L421.7,463.6L422.6,467.6L422.8,470.3M438.0,414.2L439.0,415.9L441.3,419.2L445.1,423.9L448.1,427.9L450.6,432.0L452.5,435.3L455.4,438.0L457.7,439.4L459.6,442.2L463.6,441.1L467.3,440.3L467.3,442.1L465.4,447.0L464.5,450.1L462.2,453.5L458.7,456.9L456.3,458.9L455.0,460.9L453.6,463.6L454.0,467.0L454.2,470.3M439.0,415.9L442.0,418.8L441.9,416.5L445.0,419.8L448.6,423.9L450.3,427.2L453.4,431.3L455.9,434.7L457.7,439.1L459.7,439.0L463.6,437.3L467.2,435.1L470.2,432.6L472.1,430.7L473.4,428.6L474.1,425.9L472.1,424.3L469.4,423.2L468.4,420.9L466.6,423.6L463.7,423.6L462.9,421.2L462.6,422.8L460.9,420.5L458.1,417.8L456.5,415.8L458.4,415.8L460.0,416.9L462.0,418.8L466.1,420.5L468.1,419.7L470.6,421.7M382.5,389.1L384.8,388.3L388.8,387.6L387.7,385.6L385.4,384.6L384.0,383.3L381.5,381.9L379.7,380.2L377.5,379.3L377.1,378.2L375.1,378.2L375.0,379.4L377.1,381.4L379.0,382.9L381.6,384.0L382.3,384.9L380.9,385.1L382.0,386.1L381.5,386.9L383.9,387.3L382.5,389.1M380.5,386.5L378.6,384.0L375.9,382.3L374.4,383.7L376.4,386.5L378.9,387.2L380.5,386.5M425.6,400.2L424.5,397.7L423.9,393.7L428.8,396.4L431.4,395.4L431.1,393.1L432.7,392.8L434.2,396.4L440.4,400.2L434.2,400.1L430.7,399.7L425.6,400.2M443.3,396.4L444.9,398.4L449.8,401.7L451.9,405.0L455.7,406.6L458.1,406.0L454.5,402.4L452.5,399.7L449.6,398.1L449.2,395.7L445.6,393.3L443.2,393.6L443.3,396.4M361.7,354.6L363.5,354.3L365.3,354.0L367.9,354.1L370.5,354.1L373.1,354.2L372.7,355.1L372.2,356.1L371.6,357.1L369.3,357.1L361.7,354.6M409.9,363.5L408.6,360.8M120.2,358.6L125.0,357.9L129.8,357.1L125.3,358.1L120.8,359.2M411.3,361.8L412.4,363.5L409.9,363.5M155.4,354.6L159.7,354.4L161.2,355.6L157.0,355.8L155.4,354.6M181.1,359.2L185.7,358.6L188.0,358.7L190.3,358.8L187.0,359.6L183.8,360.4L181.1,359.2M213.4,362.9L215.7,363.3L213.8,363.7L213.4,362.9M404.7,401.0L405.9,401.0L407.3,403.7L406.1,403.7L404.7,401.0M411.1,404.9L414.6,404.8L414.9,406.8L411.1,404.9M425.4,408.7L428.6,408.8L426.8,409.2L425.4,408.7M435.5,408.9L437.6,408.3L437.6,409.6L435.5,408.9M464.8,472.4L465.7,472.4M469.6,439.2L471.0,439.4L470.0,439.6L469.6,439.2" fill="none" stroke="#3a3a3a" stroke-width="0.5" stroke-linejoin="round"/>
<path d="M121.21,469.67 L120.94,466.21 L120.74,462.76 L120.61,459.31 L120.55,455.85 L120.63,452.4 L120.78,448.95 L120.99,445.5 L121.27,442.04 L121.64,438.59 L122.11,435.14 L122.68,431.68 L123.29,428.23 L123.94,424.78 L124.71,421.33 L125.64,417.87 L126.75,414.42 L128.01,410.97 L129.41,407.52 L130.96,404.07 L132.68,400.64 L134.55,397.23 L136.53,393.84 L138.61,390.47 L140.87,387.13 L143.32,383.83 L145.9,380.58 L148.6,377.37 L151.4,374.22 L154.28,371.14 L157.23,368.12 L160.28,365.17 L163.46,362.32 L166.87,359.56 L170.6,356.9 L174.47,354.42 L178.22,352.19 L181.73,350.28 L184.9,348.74 L187.63,347.6" fill="none" stroke="#c4c4c4" stroke-width="0.5"/>
<path d="M192.58,469.67 L192.44,466.21 L192.35,462.76 L192.28,459.31 L192.25,455.85 L192.29,452.4 L192.36,448.95 L192.47,445.5 L192.61,442.04 L192.8,438.59 L193.03,435.14 L193.31,431.68 L193.62,428.23 L193.95,424.78 L194.33,421.33 L194.8,417.87 L195.35,414.42 L195.98,410.97 L196.68,407.52 L197.45,404.07 L198.31,400.64 L199.25,397.23 L200.24,393.84 L201.28,390.47 L202.41,387.13 L203.64,383.83 L204.93,380.58 L206.28,377.37 L207.67,374.22 L209.11,371.14 L210.59,368.12 L212.11,365.17 L213.71,362.32 L215.41,359.56 L217.28,356.9 L219.21,354.42 L221.09,352.19 L222.84,350.28 L224.42,348.74 L225.79,347.6" fill="none" stroke="#c4c4c4" stroke-width="0.5"/>
<path d="M263.95,469.67 L263.95,466.21 L263.95,462.76 L263.95,459.31 L263.95,455.85 L263.95,452.4 L263.95,448.95 L263.95,445.5 L263.95,442.04 L263.95,438.59 L263.95,435.14 L263.95,431.68 L263.95,428.23 L263.95,424.78 L263.95,421.33 L263.95,417.87 L263.95,414.42 L263.95,410.97 L263.95,407.52 L263.95,404.07 L263.95,400.64 L263.95,397.23 L263.95,393.84 L263.95,390.47 L263.95,387.13 L263.95,383.83 L263.95,380.58 L263.95,377.37 L263.95,374.22 L263.95,371.14 L263.95,368.12 L263.95,365.17 L263.95,362.32 L263.95,359.56 L263.95,356.9 L263.95,354.42 L263.95,352.19 L263.95,350.28 L263.95,348.74 L263.95,347.6" fill="none" stroke="#c4c4c4" stroke-width="0.5"/>
<path d="M335.32,469.67 L335.46,466.21 L335.55,462.76 L335.62,459.31 L335.65,455.85 L335.61,452.4 L335.54,448.95 L335.43,445.5 L335.29,442.04 L335.1,438.59 L334.87,435.14 L334.59,431.68 L334.28,428.23 L333.95,424.78 L333.57,421.33 L333.1,417.87 L332.55,414.42 L331.92,410.97 L331.22,407.52 L330.45,404.07 L329.59,400.64 L328.65,397.23 L327.66,393.84 L326.62,390.47 L325.49,387.13 L324.26,383.83 L322.97,380.58 L321.62,377.37 L320.23,374.22 L318.79,371.14 L317.31,368.12 L315.79,365.17 L314.19,362.32 L312.49,359.56 L310.62,356.9 L308.69,354.42 L306.81,352.19 L305.06,350.28 L303.48,348.74 L302.11,347.6" fill="none" stroke="#c4c4c4" stroke-width="0.5"/>
<path d="M406.69,469.67 L406.96,466.21 L407.16,462.76 L407.29,459.31 L407.35,455.85 L407.27,452.4 L407.12,448.95 L406.91,445.5 L406.63,442.04 L406.26,438.59 L405.79,435.14 L405.22,431.68 L404.61,428.23 L403.96,424.78 L403.19,421.33 L402.26,417.87 L401.15,414.42 L399.89,410.97 L398.49,407.52 L396.94,404.07 L395.22,400.64 L393.35,397.23 L391.37,393.84 L389.29,390.47 L387.03,387.13 L384.58,383.83 L382,380.58 L379.3,377.37 L376.5,374.22 L373.62,371.14 L370.67,368.12 L367.62,365.17 L364.44,362.32 L361.03,359.56 L357.3,356.9 L353.43,354.42 L349.68,352.19 L346.17,350.28 L343,348.74 L340.27,347.6" fill="none" stroke="#c4c4c4" stroke-width="0.5"/>
<line x1="48.85" y1="456.2" x2="479.05" y2="456.2" stroke="#b0b0b0" stroke-width="0.6" stroke-dasharray="2,2"/>
<line x1="57.45" y1="415.8" x2="470.45" y2="415.8" stroke="#b0b0b0" stroke-width="0.6" stroke-dasharray="2,2"/>
<line x1="92.17" y1="376.42" x2="435.73" y2="376.42" stroke="#b0b0b0" stroke-width="0.6" stroke-dasharray="2,2"/>
<path d="M108.5,363.7 C107.75,364.95 105.33,368.53 104,371.2 C102.67,373.87 102,377.5 100.5,379.7 C99,381.9 97.42,383.23 95,384.4 C92.58,385.57 89,385.98 86,386.7 C83,387.42 78.5,388.37 77,388.7" fill="none" stroke="#000" stroke-width="1.35"/>
<path d="M56,410.2 C56.67,409.62 58.33,407.62 60,406.7 C61.67,405.78 64.08,404.87 66,404.7 C67.92,404.53 70.83,405.03 71.5,405.7 C72.17,406.37 71.42,407.87 70,408.7 C68.58,409.53 65.33,410.2 63,410.7 C60.67,411.2 57.17,411.53 56,411.7" fill="none" stroke="#000" stroke-width="1.35" stroke-dasharray="4,2.2"/>
<path d="M172,402 C175.83,401.6 188.33,400.5 195,399.6 C201.67,398.7 207.75,397.92 212,396.6 C216.25,395.28 218.7,393.83 220.5,391.7 C222.3,389.57 223.13,386.55 222.8,383.8 C222.47,381.05 221.05,378.13 218.5,375.2 C215.95,372.27 211.42,368.45 207.5,366.2 C203.58,363.95 200.18,362.82 195,361.7 C189.82,360.58 182.42,359.75 176.4,359.5 C170.38,359.25 164.75,359.08 158.9,360.2 C153.05,361.32 146.45,363.03 141.3,366.2 C136.15,369.37 131.72,374.37 128,379.2 C124.28,384.03 120.58,391.45 119,395.2 C117.42,398.95 117.67,400.07 118.5,401.7 C119.33,403.33 120.92,404.37 124,405 C127.08,405.63 133.83,405.47 137,405.5 C140.17,405.53 142,405.25 143,405.2" fill="none" stroke="#000" stroke-width="1.35" stroke-dasharray="4,2.2"/>
<path d="M155.6,387.7 C155.68,386.12 157.1,383.73 159,382.7 C160.9,381.67 164.17,381.42 167,381.5 C169.83,381.58 174.03,382.17 176,383.2 C177.97,384.23 178.97,386.2 178.8,387.7 C178.63,389.2 176.97,391.18 175,392.2 C173.03,393.22 169.75,393.8 167,393.8 C164.25,393.8 160.4,393.22 158.5,392.2 C156.6,391.18 155.52,389.28 155.6,387.7Z" fill="none" stroke="#000" stroke-width="1.35" stroke-dasharray="4,2.2"/>
<path d="M90,418.2 C95.27,417.67 110.85,416.25 121.6,415 C132.35,413.75 143.93,411.92 154.5,410.7 C165.07,409.48 176.02,408.45 185,407.7 C193.98,406.95 202.57,406.35 208.4,406.2 C214.23,406.05 217.57,406.42 220,406.8 C222.43,407.18 223.97,407.13 223,408.5 C222.03,409.87 217.12,412.7 214.2,415 C211.28,417.3 208.9,419.38 205.5,422.3 C202.1,425.22 198.18,429.22 193.8,432.5 C189.42,435.78 184.07,439.43 179.2,442 C174.33,444.57 169.47,446.48 164.6,447.9 C159.73,449.32 155.33,450.3 150,450.5 C144.67,450.7 139.27,449.22 132.6,449.1 C125.93,448.98 117.3,449.58 110,449.8 C102.7,450.02 95.47,450.13 88.8,450.4 C82.13,450.67 76.63,451.07 70,451.4 C63.37,451.73 52.5,452.23 49,452.4" fill="none" stroke="#000" stroke-width="1.35"/>
<path d="M118,440.7 C118.97,440.65 120.13,440.72 123.8,440.4 C127.47,440.08 134.42,439.38 140,438.8 C145.58,438.22 152.72,437.95 157.3,436.9 C161.88,435.85 163.85,434.2 167.5,432.5 C171.15,430.8 176.03,428.52 179.2,426.7 C182.37,424.88 184.68,423.18 186.5,421.6 C188.32,420.02 189.62,418.3 190.1,417.2 C190.58,416.1 190.48,415.73 189.4,415 C188.32,414.27 186.52,413.28 183.6,412.8 C180.68,412.32 175.3,412.08 171.9,412.1 C168.5,412.12 166.85,412.62 163.2,412.9 C159.55,413.18 154.37,413.08 150,413.8 C145.63,414.52 142,416.05 137,417.2 C132,418.35 124.38,419.6 120,420.7 C115.62,421.8 114.2,422.63 110.7,423.8 C107.2,424.97 102.65,426.42 99,427.7 C95.35,428.98 90.5,430.87 88.8,431.5" fill="none" stroke="#000" stroke-width="1.35"/>
<path d="M142.4,425.8 C142.73,425.22 145.35,424.12 147,423.9 C148.65,423.68 151.63,424.02 152.3,424.5 C152.97,424.98 152.22,426.32 151,426.8 C149.78,427.28 146.43,427.57 145,427.4 C143.57,427.23 142.07,426.38 142.4,425.8Z" fill="none" stroke="#000" stroke-width="1.35"/>
<path d="M269.5,391.2 C269.97,390.53 272.05,388.98 272.3,387.2 C272.55,385.42 272.32,382.57 271,380.5 C269.68,378.43 266.58,375.93 264.4,374.8 C262.22,373.67 259.9,373.47 257.9,373.7 C255.9,373.93 254.05,374.15 252.4,376.2 C250.75,378.25 249.65,382.55 248,386 C246.35,389.45 244.25,393.98 242.5,396.9 C240.75,399.82 237.75,402.25 237.5,403.5 C237.25,404.75 240.42,404.25 241,404.4" fill="none" stroke="#000" stroke-width="1.35"/>
<path d="M294,364.7 C295.05,363.32 298.22,361.18 301,360.6 C303.78,360.02 307.45,360.52 310.7,361.2 C313.95,361.88 317.82,362.95 320.5,364.7 C323.18,366.45 325.63,369.37 326.8,371.7 C327.97,374.03 328.08,376.72 327.5,378.7 C326.92,380.68 325.4,382.43 323.3,383.6 C321.2,384.77 317.7,385.82 314.9,385.7 C312.1,385.58 309.07,384.53 306.5,382.9 C303.93,381.27 301.47,378.23 299.5,375.9 C297.53,373.57 295.62,370.77 294.7,368.9 C293.78,367.03 292.95,366.08 294,364.7Z" fill="none" stroke="#000" stroke-width="1.35" stroke-dasharray="4,2.2"/>
<path d="M418,364 C416.33,363.45 410.88,361.63 408,360.7 C405.12,359.77 403.53,359.1 400.7,358.4 C397.87,357.7 394.2,356.93 391,356.5 C387.8,356.07 383.08,355.92 381.5,355.8" fill="none" stroke="#000" stroke-width="1.35"/>
<path d="M352.6,357.7 C352.43,358.45 351.83,360.57 351.6,362.2 C351.37,363.83 351.38,364.98 351.2,367.5 C351.02,370.02 350.97,374.27 350.5,377.3 C350.03,380.33 349.68,382.9 348.4,385.7 C347.12,388.5 345.37,391.77 342.8,394.1 C340.23,396.43 336.72,398.32 333,399.7 C329.28,401.08 323.63,401.48 320.5,402.4 C317.37,403.32 315.6,404.03 314.2,405.2 C312.8,406.37 311.98,408.12 312.1,409.4 C312.22,410.68 313.27,412.2 314.9,412.9 C316.53,413.6 319.55,413.6 321.9,413.6 C324.25,413.6 327.82,413.02 329,412.9" fill="none" stroke="#000" stroke-width="1.35"/>
<path d="M358.5,408 C361.25,407.7 369.08,406.95 375,406.2 C380.92,405.45 390.17,404.1 394,403.5 C397.83,402.9 397.33,402.75 398,402.6" fill="none" stroke="#000" stroke-width="1.35"/>
<path d="M424,394.4 C426,393.8 431.85,391.9 436,390.8 C440.15,389.7 445.23,388.7 448.9,387.8 C452.57,386.9 456.48,385.8 458,385.4" fill="none" stroke="#000" stroke-width="1.35"/>
<path d="M478,410.5 C476.07,410.72 470.23,411.18 466.4,411.8 C462.57,412.42 458.65,413.42 455,414.2 C451.35,414.98 448.17,415.42 444.5,416.5 C440.83,417.58 434.92,420 433,420.7" fill="none" stroke="#000" stroke-width="1.35" stroke-dasharray="4,2.2"/>
<path d="M405,440.7 C403.5,441.38 400.43,443.65 396,444.8 C391.57,445.95 383.77,446.98 378.4,447.6 C373.03,448.22 368.67,448.25 363.8,448.5 C358.93,448.75 354.07,449.12 349.2,449.1 C344.33,449.08 338.8,448.88 334.6,448.4 C330.4,447.92 326.93,446.63 324,446.2 C321.07,445.77 319.63,445.33 317,445.8 C314.37,446.27 311.12,447.4 308.2,449 C305.28,450.6 302.78,453.8 299.5,455.4 C296.22,457 292.75,458.13 288.5,458.6 C284.25,459.07 277.65,458.35 274,458.2 C270.35,458.05 267.83,457.78 266.6,457.7" fill="none" stroke="#000" stroke-width="1.35" stroke-dasharray="4,2.2"/>
<path d="M238.5,453.4 C236.25,453.2 229.42,453.02 225,452.2 C220.58,451.38 215.1,450.13 212,448.5 C208.9,446.87 207.33,444.5 206.4,442.4 C205.47,440.3 205.58,438.03 206.4,435.9 C207.22,433.77 209.03,431.62 211.3,429.6 C213.57,427.58 216.58,425.75 220,423.8 C223.42,421.85 227.63,419.53 231.8,417.9 C235.97,416.27 240.97,415.08 245,414 C249.03,412.92 252.5,412.45 256,411.4 C259.5,410.35 263.33,408.9 266,407.7 C268.67,406.5 270,405.08 272,404.2 C274,403.32 276,402.47 278,402.4 C280,402.33 282.42,402.83 284,403.8 C285.58,404.77 286.42,406.13 287.5,408.2 C288.58,410.27 289.5,413.42 290.5,416.2 C291.5,418.98 292,422.2 293.5,424.9 C295,427.6 297.05,430.95 299.5,432.4 C301.95,433.85 304.55,434.13 308.2,433.6 C311.85,433.07 317,431.48 321.4,429.2 C325.8,426.92 329.97,422.07 334.6,419.9 C339.23,417.73 344.33,417.17 349.2,416.2 C354.07,415.23 358.93,414.82 363.8,414.1 C368.67,413.38 373.53,412.75 378.4,411.9 C383.27,411.05 388.13,409.98 393,409 C397.87,408.02 403.1,406.93 407.6,406 C412.1,405.07 416.6,403.98 420,403.4 C423.4,402.82 426.67,402.65 428,402.5" fill="none" stroke="#000" stroke-width="1.35" stroke-dasharray="4,2.2"/>
<path d="M456,404.2 C457,404.2 459.67,404.12 462,404.2 C464.33,404.28 468.67,404.62 470,404.7" fill="none" stroke="#000" stroke-width="1.35" stroke-dasharray="4,2.2"/>
<path d="M365.5,420.7 C363.25,421.22 355.58,422.38 352,423.8 C348.42,425.22 345.68,427.3 344,429.2 C342.32,431.1 341.03,433.82 341.9,435.2 C342.77,436.58 345.55,436.88 349.2,437.5 C352.85,438.12 357.97,439.03 363.8,438.9 C369.63,438.77 378.85,437.8 384.2,436.7 C389.55,435.6 392.73,434 395.9,432.3 C399.07,430.6 401.73,428.45 403.2,426.5 C404.67,424.55 405.67,421.95 404.7,420.6 C403.73,419.25 399.27,418.73 397.4,418.4 C395.53,418.07 394.15,418.57 393.5,418.6" fill="none" stroke="#000" stroke-width="1.35" stroke-dasharray="4,2.2"/>
<path d="M363.4,396.7 C362.57,394.3 364.32,387.72 367,384.2 C369.68,380.68 375.33,377.23 379.5,375.6 C383.67,373.97 388.7,373.8 392,374.4 C395.3,375 398.3,376.73 399.3,379.2 C400.3,381.67 400.05,386.5 398,389.2 C395.95,391.9 391.33,393.83 387,395.4 C382.67,396.97 375.93,398.38 372,398.6 C368.07,398.82 364.23,399.1 363.4,396.7Z" fill="none" stroke="#000" stroke-width="1.35"/>
<path d="M479,420.2 C477.63,420.25 474.73,420.27 470.8,420.5 C466.87,420.73 460.53,420.87 455.4,421.6 C450.27,422.33 444.02,423.43 440,424.9 C435.98,426.37 433.1,428.22 431.3,430.4 C429.5,432.58 428.83,435.63 429.2,438 C429.57,440.37 431.32,442.4 433.5,444.6 C435.68,446.8 440.13,449.9 442.3,451.2 C444.47,452.5 445.8,452.2 446.5,452.4" fill="none" stroke="#000" stroke-width="1.35"/>
<path d="M472.5,452.8 L479,452.8" fill="none" stroke="#000" stroke-width="1.35"/>
<path d="M408.5,471.2 C409.08,470.6 410.58,468.67 412,467.6 C413.42,466.53 415.27,465.55 417,464.8 C418.73,464.05 419.73,463.47 422.4,463.1 C425.07,462.73 429.28,462.68 433,462.6 C436.72,462.52 442.75,462.6 444.7,462.6" fill="none" stroke="#000" stroke-width="1.35" stroke-dasharray="4,2.2"/>
<path d="M474,464.2 L479,464.4" fill="none" stroke="#000" stroke-width="1.35" stroke-dasharray="4,2.2"/>
<path d="M339,471.2 C339.5,470.2 340.5,467.03 342,465.2 C343.5,463.37 345.33,461.5 348,460.2 C350.67,458.9 354.33,457.93 358,457.4 C361.67,456.87 366.17,456.77 370,457 C373.83,457.23 378,457.77 381,458.8 C384,459.83 386.25,461.13 388,463.2 C389.75,465.27 390.92,469.87 391.5,471.2" fill="none" stroke="#000" stroke-width="1.35"/>
<path d="M207,471.2 C208.17,470.53 211.37,468.37 214,467.2 C216.63,466.03 219.47,464.95 222.8,464.2 C226.13,463.45 230.35,463 234,462.7 C237.65,462.4 241.2,462.38 244.7,462.4 C248.2,462.42 251.72,462.5 255,462.8 C258.28,463.1 262.83,463.97 264.4,464.2" fill="none" stroke="#000" stroke-width="1.35"/>
<path d="M291,466.7 L295,471.2" fill="none" stroke="#000" stroke-width="1.35"/>
<path d="M48,470.7 C51.17,470.38 61.67,469.47 67,468.8 C72.33,468.13 76.37,467.25 80,466.7 C83.63,466.15 85.47,465.98 88.8,465.5 C92.13,465.02 96.35,464.18 100,463.8 C103.65,463.42 107.03,463.23 110.7,463.2 C114.37,463.17 118.35,463.42 122,463.6 C125.65,463.78 129.27,463.9 132.6,464.3 C135.93,464.7 139.1,465.45 142,466 C144.9,466.55 147.5,467.1 150,467.6 C152.5,468.1 154.5,468.47 157,469 C159.5,469.53 163.67,470.5 165,470.8" fill="none" stroke="#000" stroke-width="1.35" stroke-dasharray="4,2.2"/>
<text x="74" y="421.4" font-size="7.4" text-anchor="middle" textLength="24.6" lengthAdjust="spacingAndGlyphs" stroke="#000" stroke-width="0.18" transform="rotate(-3 74 418.8)">5e+06</text>
<text x="104" y="439.8" font-size="7.4" text-anchor="middle" textLength="24.6" lengthAdjust="spacingAndGlyphs" stroke="#000" stroke-width="0.18" transform="rotate(17 104 437.2)">2e+07</text>
<text x="157.5" y="406.8" font-size="7.4" text-anchor="middle" textLength="27.4" lengthAdjust="spacingAndGlyphs" stroke="#000" stroke-width="0.18" transform="rotate(-5 157.5 404.2)">-5e+06</text>
<text x="255.5" y="400.3" font-size="7.4" text-anchor="middle" textLength="24.6" lengthAdjust="spacingAndGlyphs" stroke="#000" stroke-width="0.18" transform="rotate(-28 255.5 397.7)">5e+06</text>
<text x="366.2" y="358" font-size="7.4" text-anchor="middle" textLength="24.6" lengthAdjust="spacingAndGlyphs" stroke="#000" stroke-width="0.18" transform="rotate(3 366.2 355.4)">5e+06</text>
<text x="344.3" y="411.4" font-size="7.4" text-anchor="middle" textLength="24.6" lengthAdjust="spacingAndGlyphs" stroke="#000" stroke-width="0.18" transform="rotate(-5 344.3 408.8)">5e+06</text>
<text x="410.6" y="400.2" font-size="7.4" text-anchor="middle" textLength="24.6" lengthAdjust="spacingAndGlyphs" stroke="#000" stroke-width="0.18" transform="rotate(-22 410.6 397.6)">5e+06</text>
<text x="442" y="406.3" font-size="7.4" text-anchor="middle" textLength="27.4" lengthAdjust="spacingAndGlyphs" stroke="#000" stroke-width="0.18" transform="rotate(3 442 403.7)">-5e+06</text>
<text x="418.5" y="433.8" font-size="7.4" text-anchor="middle" textLength="27.4" lengthAdjust="spacingAndGlyphs" stroke="#000" stroke-width="0.18" transform="rotate(-42 418.5 431.2)">-5e+06</text>
<text x="379.3" y="421.3" font-size="7.4" text-anchor="middle" textLength="27.4" lengthAdjust="spacingAndGlyphs" stroke="#000" stroke-width="0.18" transform="rotate(-3 379.3 418.7)">-2e+07</text>
<text x="252" y="457.4" font-size="7.4" text-anchor="middle" textLength="27.4" lengthAdjust="spacingAndGlyphs" stroke="#000" stroke-width="0.18" transform="rotate(5 252 454.8)">-5e+06</text>
<text x="459.3" y="455.4" font-size="7.4" text-anchor="middle" textLength="24.6" lengthAdjust="spacingAndGlyphs" stroke="#000" stroke-width="0.18" transform="rotate(2 459.3 452.8)">5e+06</text>
<text x="459.7" y="467.6" font-size="7.4" text-anchor="middle" textLength="27.4" lengthAdjust="spacingAndGlyphs" stroke="#000" stroke-width="0.18" transform="rotate(5 459.7 465)">-5e+06</text>
<text x="278.6" y="469.4" font-size="7.4" text-anchor="middle" textLength="24.6" lengthAdjust="spacingAndGlyphs" stroke="#000" stroke-width="0.18" transform="rotate(10 278.6 466.8)">5e+06</text>
</g>
<path d="M149.47,347.6 L153.35,347.6 L157.23,347.6 L161.12,347.6 L165,347.6 L168.88,347.6 L172.76,347.6 L176.64,347.6 L180.52,347.6 L184.4,347.6 L188.28,347.6 L192.16,347.6 L196.04,347.6 L199.92,347.6 L203.8,347.6 L207.68,347.6 L211.56,347.6 L215.44,347.6 L219.32,347.6 L223.2,347.6 L227.08,347.6 L230.97,347.6 L234.85,347.6 L238.73,347.6 L242.61,347.6 L246.49,347.6 L250.37,347.6 L254.25,347.6 L258.13,347.6 L262.01,347.6 L265.89,347.6 L269.77,347.6 L273.65,347.6 L277.53,347.6 L281.41,347.6 L285.29,347.6 L289.17,347.6 L293.05,347.6 L296.93,347.6 L300.82,347.6 L304.7,347.6 L308.58,347.6 L312.46,347.6 L316.34,347.6 L320.22,347.6 L324.1,347.6 L327.98,347.6 L331.86,347.6 L335.74,347.6 L339.62,347.6 L343.5,347.6 L347.38,347.6 L351.26,347.6 L355.14,347.6 L359.02,347.6 L362.9,347.6 L366.78,347.6 L370.67,347.6 L374.55,347.6 L378.43,347.6 L378.43,347.6 L381.06,348.3 L384,349.19 L387.2,350.25 L390.62,351.47 L394.22,352.84 L397.97,354.34 L401.81,355.95 L405.62,357.66 L409.29,359.42 L412.74,361.23 L416.01,363.09 L419.14,364.98 L422.19,366.91 L425.17,368.88 L428.09,370.88 L430.96,372.91 L433.79,374.97 L436.55,377.05 L439.25,379.16 L441.89,381.29 L444.44,383.44 L446.91,385.62 L449.28,387.81 L451.51,390.01 L453.62,392.23 L455.64,394.47 L457.6,396.71 L459.5,398.96 L461.32,401.22 L463.02,403.49 L464.61,405.76 L466.09,408.04 L467.48,410.32 L468.78,412.6 L469.99,414.89 L471.09,417.17 L472.08,419.45 L472.96,421.74 L473.73,424.02 L474.41,426.3 L475.04,428.58 L475.65,430.86 L476.23,433.15 L476.77,435.43 L477.25,437.71 L477.65,439.99 L478,442.28 L478.29,444.56 L478.53,446.84 L478.72,449.12 L478.87,451.41 L478.98,453.69 L479.05,455.97 L479,458.25 L478.9,460.54 L478.76,462.82 L478.57,465.1 L478.34,467.38 L478.06,469.67 L478.06,469.67 L470.8,469.67 L463.54,469.67 L456.29,469.67 L449.03,469.67 L441.77,469.67 L434.51,469.67 L427.25,469.67 L420,469.67 L412.74,469.67 L405.48,469.67 L398.22,469.67 L390.96,469.67 L383.71,469.67 L376.45,469.67 L369.19,469.67 L361.93,469.67 L354.67,469.67 L347.42,469.67 L340.16,469.67 L332.9,469.67 L325.64,469.67 L318.38,469.67 L311.13,469.67 L303.87,469.67 L296.61,469.67 L289.35,469.67 L282.09,469.67 L274.84,469.67 L267.58,469.67 L260.32,469.67 L253.06,469.67 L245.81,469.67 L238.55,469.67 L231.29,469.67 L224.03,469.67 L216.77,469.67 L209.52,469.67 L202.26,469.67 L195,469.67 L187.74,469.67 L180.48,469.67 L173.23,469.67 L165.97,469.67 L158.71,469.67 L151.45,469.67 L144.19,469.67 L136.94,469.67 L129.68,469.67 L122.42,469.67 L115.16,469.67 L107.9,469.67 L100.65,469.67 L93.39,469.67 L86.13,469.67 L78.87,469.67 L71.61,469.67 L64.36,469.67 L57.1,469.67 L49.84,469.67 L49.84,469.67 L49.56,467.38 L49.33,465.1 L49.14,462.82 L49,460.54 L48.9,458.25 L48.85,455.97 L48.92,453.69 L49.03,451.41 L49.18,449.12 L49.37,446.84 L49.61,444.56 L49.9,442.28 L50.25,439.99 L50.65,437.71 L51.13,435.43 L51.67,433.15 L52.25,430.86 L52.86,428.58 L53.49,426.3 L54.17,424.02 L54.94,421.74 L55.82,419.45 L56.81,417.17 L57.91,414.89 L59.12,412.6 L60.42,410.32 L61.81,408.04 L63.29,405.76 L64.88,403.49 L66.58,401.22 L68.4,398.96 L70.3,396.71 L72.26,394.47 L74.28,392.23 L76.39,390.01 L78.62,387.81 L80.99,385.62 L83.46,383.44 L86.01,381.29 L88.65,379.16 L91.35,377.05 L94.11,374.97 L96.94,372.91 L99.81,370.88 L102.73,368.88 L105.71,366.91 L108.76,364.98 L111.89,363.09 L115.16,361.23 L118.61,359.42 L122.28,357.66 L126.09,355.95 L129.93,354.34 L133.68,352.84 L137.28,351.47 L140.7,350.25 L143.9,349.19 L146.84,348.3 L149.47,347.6Z" fill="none" stroke="#000" stroke-width="1.1"/>
<text x="85.3" y="379.1" font-size="9.9" text-anchor="end" textLength="23.3" lengthAdjust="spacingAndGlyphs">60°N</text>
<text x="52.1" y="419" font-size="9.9" text-anchor="end" textLength="22.5" lengthAdjust="spacingAndGlyphs">30°N</text>
<text x="44.2" y="459.7" font-size="9.9" text-anchor="end" textLength="9.5" lengthAdjust="spacingAndGlyphs">0°</text>
<text x="121.3" y="482.2" font-size="9.9" text-anchor="middle" textLength="27.5" lengthAdjust="spacingAndGlyphs">120°E</text>
<text x="192.7" y="482.2" font-size="9.9" text-anchor="middle" textLength="30.4" lengthAdjust="spacingAndGlyphs">180°W</text>
<text x="263.5" y="482.2" font-size="9.9" text-anchor="middle" textLength="30.4" lengthAdjust="spacingAndGlyphs">120°W</text>
<text x="334.6" y="482.2" font-size="9.9" text-anchor="middle" textLength="24.6" lengthAdjust="spacingAndGlyphs">60°W</text>
<text x="406" y="482.2" font-size="9.9" text-anchor="middle" textLength="9.5" lengthAdjust="spacingAndGlyphs">0°</text>
<rect x="141.41" y="494.3" width="13.46" height="9.7" fill="#36459c"/>
<rect x="154.57" y="494.3" width="12.46" height="9.7" fill="#4065ac"/>
<rect x="166.73" y="494.3" width="12.46" height="9.7" fill="#5183bb"/>
<rect x="178.89" y="494.3" width="12.46" height="9.7" fill="#679ec9"/>
<rect x="191.05" y="494.3" width="12.46" height="9.7" fill="#81b7d7"/>
<rect x="203.2" y="494.3" width="12.46" height="9.7" fill="#9dcee3"/>
<rect x="215.36" y="494.3" width="12.46" height="9.7" fill="#b9e0ed"/>
<rect x="227.52" y="494.3" width="12.46" height="9.7" fill="#d2eaf2"/>
<rect x="239.68" y="494.3" width="12.46" height="9.7" fill="#e9f6fb"/>
<rect x="251.84" y="494.3" width="12.46" height="9.7" fill="#ffffff"/>
<rect x="264" y="494.3" width="12.46" height="9.7" fill="#ffffff"/>
<rect x="276.16" y="494.3" width="12.46" height="9.7" fill="#fee8b6"/>
<rect x="288.32" y="494.3" width="12.46" height="9.7" fill="#fdd585"/>
<rect x="300.48" y="494.3" width="12.46" height="9.7" fill="#fdbb6d"/>
<rect x="312.64" y="494.3" width="12.46" height="9.7" fill="#fb9d59"/>
<rect x="324.79" y="494.3" width="12.46" height="9.7" fill="#f67c4a"/>
<rect x="336.95" y="494.3" width="12.46" height="9.7" fill="#ec5c3b"/>
<rect x="349.11" y="494.3" width="12.46" height="9.7" fill="#dd3d2d"/>
<rect x="361.27" y="494.3" width="12.46" height="9.7" fill="#ca2427"/>
<rect x="373.43" y="494.3" width="12.46" height="9.7" fill="#b10b26"/>
<path d="M142.41,494.3 L129.4,499.15 L142.41,504Z" fill="#313695"/>
<path d="M385.59,494.3 L398.6,499.15 L385.59,504Z" fill="#a50026"/>
<path d="M142.41,494.3 L129.4,499.15 L142.41,504 L385.59,504 L398.6,499.15 L385.59,494.3Z" fill="none" stroke="#222" stroke-width="0.8"/>
<line x1="148.2" y1="504" x2="148.2" y2="507.5" stroke="#000" stroke-width="0.8"/>
<text x="148.4" y="516.8" font-size="9.8" text-anchor="middle" textLength="12.4" lengthAdjust="spacingAndGlyphs">−4</text>
<line x1="177.15" y1="504" x2="177.15" y2="507.5" stroke="#000" stroke-width="0.8"/>
<text x="177.35" y="516.8" font-size="9.8" text-anchor="middle" textLength="12.4" lengthAdjust="spacingAndGlyphs">−3</text>
<line x1="206.1" y1="504" x2="206.1" y2="507.5" stroke="#000" stroke-width="0.8"/>
<text x="206.3" y="516.8" font-size="9.8" text-anchor="middle" textLength="12.4" lengthAdjust="spacingAndGlyphs">−2</text>
<line x1="235.05" y1="504" x2="235.05" y2="507.5" stroke="#000" stroke-width="0.8"/>
<text x="235.25" y="516.8" font-size="9.8" text-anchor="middle" textLength="12.4" lengthAdjust="spacingAndGlyphs">−1</text>
<line x1="264" y1="504" x2="264" y2="507.5" stroke="#000" stroke-width="0.8"/>
<text x="264.2" y="516.8" font-size="9.8" text-anchor="middle" textLength="6.2" lengthAdjust="spacingAndGlyphs">0</text>
<line x1="292.95" y1="504" x2="292.95" y2="507.5" stroke="#000" stroke-width="0.8"/>
<text x="293.15" y="516.8" font-size="9.8" text-anchor="middle" textLength="6.2" lengthAdjust="spacingAndGlyphs">1</text>
<line x1="321.9" y1="504" x2="321.9" y2="507.5" stroke="#000" stroke-width="0.8"/>
<text x="322.1" y="516.8" font-size="9.8" text-anchor="middle" textLength="6.2" lengthAdjust="spacingAndGlyphs">2</text>
<line x1="350.85" y1="504" x2="350.85" y2="507.5" stroke="#000" stroke-width="0.8"/>
<text x="351.05" y="516.8" font-size="9.8" text-anchor="middle" textLength="6.2" lengthAdjust="spacingAndGlyphs">3</text>
<line x1="379.8" y1="504" x2="379.8" y2="507.5" stroke="#000" stroke-width="0.8"/>
<text x="380" y="516.8" font-size="9.8" text-anchor="middle" textLength="6.2" lengthAdjust="spacingAndGlyphs">4</text>
<text x="245.8" y="526" font-size="9.8" textLength="11.6" lengthAdjust="spacingAndGlyphs">[m</text>
<text x="257.6" y="522.2" font-size="6.8" textLength="4" lengthAdjust="spacingAndGlyphs">2</text>
<text x="262" y="526" font-size="9.8" textLength="5.2" lengthAdjust="spacingAndGlyphs">s</text>
<text x="267.6" y="522.2" font-size="6.8" textLength="8.4" lengthAdjust="spacingAndGlyphs">−1</text>
<text x="276.8" y="526" font-size="9.8" textLength="4" lengthAdjust="spacingAndGlyphs">]</text>
<text x="385.3" y="528.5" font-size="9.8" text-anchor="end" textLength="16.8" lengthAdjust="spacingAndGlyphs">1e6</text>
<clipPath id="bclip0"><rect x="544.8" y="51.2" width="140.2" height="125.29"/></clipPath>
<g clip-path="url(#bclip0)">
<path d="M540,97.3 C540.7,89.33 544.72,97.3 546,97.3 C547.28,97.3 550.12,97.3 551,97.3 C551.88,97.3 553.17,97.63 553.5,97.3 C553.83,96.97 553.75,95.18 553.8,94.5 C553.85,93.82 553.53,91.85 553.9,91.5 C554.27,91.15 554.54,91.5 557,91.5 C559.46,91.5 571.12,91.5 575,91.5 C578.88,91.5 587.79,91.06 590.3,91.5 C592.81,91.94 595.57,93.84 596.5,95.3 C597.43,96.76 597.86,101.95 598.3,104 C598.74,106.05 599.48,110.99 600.3,112.9 C601.12,114.81 603.83,118.35 605.3,120.4 C606.77,122.45 611.14,128.31 612.9,130.5 C614.66,132.69 618.94,137.74 620.4,139.2 C621.86,140.66 625.4,142.26 625.4,143 C625.4,143.74 622.15,144.61 620.4,145.5 C618.65,146.39 612.75,149.13 610.4,150.6 C608.05,152.07 603.24,156.64 600.3,158.1 C597.36,159.56 589.31,162.17 585.2,163.1 C581.09,164.03 570.37,165.81 565.1,166.1 C559.83,166.39 542.93,173.63 540,165.6 C537.07,157.57 539.3,105.27 540,97.3Z" fill="#fedc8c"/>
<path d="M656.9,45 C652.8,45.73 656.18,48.37 656.9,51.3 C657.62,54.23 661.2,65.85 663.1,70.1 C665,74.35 670.65,83.89 673.2,87.7 C675.75,91.52 682.81,101.02 685,102.8 C687.19,104.58 691.18,109.74 692,103 C692.82,96.26 696.1,51.77 692,45 C687.9,38.23 661,44.27 656.9,45Z" fill="#fedc8c"/>
<path d="M647,182 C641.88,181.32 647.1,178.7 648.1,176.2 C649.1,173.7 654.43,163.89 655.6,160.6 C656.77,157.31 656.92,150.64 658.1,148 C659.28,145.36 663.65,139.9 665.7,138 C667.75,136.1 673.45,132.63 675.7,131.7 C677.95,130.77 683.1,130.2 685,130 C686.9,129.8 691.18,123.93 692,130 C692.82,136.07 697.25,175.93 692,182 C686.75,188.07 652.12,182.68 647,182Z" fill="#fedc8c"/>
<path d="M665,182 C661.97,181.32 665.18,177.19 666,176.2 C666.82,175.21 669.78,174 672,173.5 C674.22,173 682.67,172.09 685,171.9 C687.33,171.71 691.18,170.72 692,171.9 C692.82,173.08 695.15,180.82 692,182 C688.85,183.18 668.03,182.68 665,182Z" fill="#fdb96b"/>
<path d="M600.3,50 C599.25,51.58 596.08,56.57 594,59.5 C591.92,62.43 588.83,66.25 587.8,67.6" fill="none" stroke="#111" stroke-width="0.75"/>
<path d="M574.5,78.3 C574.2,78.75 573.05,79.38 572.7,81 C572.35,82.62 572.4,85.42 572.4,88 C572.4,90.58 571.82,93.62 572.7,96.5 C573.58,99.38 575.4,102.48 577.7,105.3 C580,108.12 583.78,112.48 586.5,113.4 C589.22,114.32 591.28,112.57 594,110.8 C596.72,109.03 599.87,106.23 602.8,102.8 C605.73,99.37 609.5,94.8 611.6,90.2 C613.7,85.6 614.98,79.8 615.4,75.2 C615.82,70.6 614.93,66.8 614.1,62.6 C613.27,58.4 611.02,52.1 610.4,50" fill="none" stroke="#111" stroke-width="0.75"/>
<text x="581.2" y="75.9" font-size="5.6" text-anchor="middle" transform="rotate(15 581.2 73.9)">1.2</text>
<line x1="602.33" y1="51.2" x2="602.33" y2="176.49" stroke="#000" stroke-width="2" stroke-dasharray="5.5,2.5"/>
</g>
<path d="M686,51.2 L544.8,51.2 L544.8,176.49 L686,176.49" fill="none" stroke="#000" stroke-width="0.9"/>
<line x1="541.3" y1="51.2" x2="544.8" y2="51.2" stroke="#000" stroke-width="0.8"/>
<text x="540.2" y="53.7" font-size="7" text-anchor="end" textLength="8.4" lengthAdjust="spacingAndGlyphs">50</text>
<line x1="541.3" y1="80.19" x2="544.8" y2="80.19" stroke="#000" stroke-width="0.8"/>
<text x="540.2" y="82.69" font-size="7" text-anchor="end" textLength="12.6" lengthAdjust="spacingAndGlyphs">100</text>
<line x1="541.3" y1="97.15" x2="544.8" y2="97.15" stroke="#000" stroke-width="0.8"/>
<text x="540.2" y="99.65" font-size="7" text-anchor="end" textLength="12.6" lengthAdjust="spacingAndGlyphs">150</text>
<line x1="541.3" y1="109.18" x2="544.8" y2="109.18" stroke="#000" stroke-width="0.8"/>
<text x="540.2" y="111.68" font-size="7" text-anchor="end" textLength="12.6" lengthAdjust="spacingAndGlyphs">200</text>
<line x1="541.3" y1="126.14" x2="544.8" y2="126.14" stroke="#000" stroke-width="0.8"/>
<text x="540.2" y="128.64" font-size="7" text-anchor="end" textLength="12.6" lengthAdjust="spacingAndGlyphs">300</text>
<line x1="541.3" y1="147.5" x2="544.8" y2="147.5" stroke="#000" stroke-width="0.8"/>
<text x="540.2" y="150" font-size="7" text-anchor="end" textLength="12.6" lengthAdjust="spacingAndGlyphs">500</text>
<line x1="541.3" y1="176.49" x2="544.8" y2="176.49" stroke="#000" stroke-width="0.8"/>
<text x="540.2" y="178.99" font-size="7" text-anchor="end" textLength="16.8" lengthAdjust="spacingAndGlyphs">1000</text>
<line x1="542.8" y1="58.83" x2="544.8" y2="58.83" stroke="#000" stroke-width="0.6"/>
<line x1="542.8" y1="65.27" x2="544.8" y2="65.27" stroke="#000" stroke-width="0.6"/>
<line x1="542.8" y1="70.86" x2="544.8" y2="70.86" stroke="#000" stroke-width="0.6"/>
<line x1="542.8" y1="75.78" x2="544.8" y2="75.78" stroke="#000" stroke-width="0.6"/>
<line x1="542.8" y1="138.17" x2="544.8" y2="138.17" stroke="#000" stroke-width="0.6"/>
<line x1="542.8" y1="155.13" x2="544.8" y2="155.13" stroke="#000" stroke-width="0.6"/>
<line x1="542.8" y1="161.57" x2="544.8" y2="161.57" stroke="#000" stroke-width="0.6"/>
<line x1="542.8" y1="167.16" x2="544.8" y2="167.16" stroke="#000" stroke-width="0.6"/>
<line x1="542.8" y1="172.08" x2="544.8" y2="172.08" stroke="#000" stroke-width="0.6"/>
<line x1="544.8" y1="176.49" x2="544.8" y2="179.99" stroke="#000" stroke-width="0.8"/>
<text x="544.8" y="186.49" font-size="7" text-anchor="middle" textLength="6.8" lengthAdjust="spacingAndGlyphs">0°</text>
<line x1="597.1" y1="176.49" x2="597.1" y2="179.99" stroke="#000" stroke-width="0.8"/>
<text x="597.1" y="186.49" font-size="7" text-anchor="middle" textLength="16.4" lengthAdjust="spacingAndGlyphs">30°N</text>
<line x1="649.4" y1="176.49" x2="649.4" y2="179.99" stroke="#000" stroke-width="0.8"/>
<text x="649.4" y="186.49" font-size="7" text-anchor="middle" textLength="16.4" lengthAdjust="spacingAndGlyphs">60°N</text>
<text x="515.2" y="113.84" font-size="7.9" text-anchor="middle" textLength="56.8" lengthAdjust="spacingAndGlyphs" transform="rotate(-90 515.2 113.84)">Pressure (hPa)</text>
<clipPath id="bclip1"><rect x="544.8" y="197.4" width="140.2" height="125.29"/></clipPath>
<g clip-path="url(#bclip1)">
<path d="M540,190 C557.73,173.67 674.27,173.67 692,190 C709.73,206.33 709.73,313.67 692,330 C674.27,346.33 557.73,346.33 540,330 C522.27,313.67 522.27,206.33 540,190Z" fill="#fedc8c"/>
<path d="M540,190 C551.38,185.39 626.12,189.17 637.5,190 C648.88,190.83 637.34,195.37 637.5,197.1 C637.66,198.83 638.25,203.09 638.9,204.8 C639.55,206.52 641.81,210.18 643.1,211.8 C644.39,213.42 648.38,216.91 650,218.7 C651.62,220.48 655.37,224.65 657,227.1 C658.63,229.55 662.94,237.41 664,239.7 C665.06,241.99 666.1,244.75 666.1,246.7 C666.1,248.65 665.55,254.61 664,256.4 C662.45,258.19 656.05,261.18 652.8,262 C649.54,262.82 639.68,263.73 636.1,263.4 C632.52,263.07 624.8,260.51 622.1,259.2 C619.4,257.89 614.39,253.98 613,252.2 C611.61,250.41 610.28,245.69 610.2,243.9 C610.12,242.12 611.4,238.7 612.3,236.9 C613.2,235.1 616.76,229.97 617.9,228.5 C619.04,227.03 621.45,225.44 622.1,224.3 C622.75,223.16 622.85,220 623.5,218.7 C624.15,217.4 626.88,214.17 627.7,213.2 C628.52,212.23 631.15,210.89 630.5,210.4 C629.85,209.91 623.9,208.84 622.1,209 C620.3,209.16 617.21,210.83 615.1,211.8 C612.99,212.77 606.93,216.17 604,217.3 C601.07,218.43 594.54,220.49 590,221.5 C585.46,222.51 570.93,225.07 565.1,226 C559.27,226.93 542.93,233.7 540,229.5 C537.07,225.3 528.62,194.61 540,190Z" fill="#ffffff"/>
<path d="M540,203 C541.4,201.8 549.78,202.97 552,203.2 C554.22,203.43 558.01,204.38 559,205 C559.99,205.62 560.62,207.62 560.5,208.5 C560.38,209.38 559.23,211.91 558,212.5 C556.77,213.09 552.1,213.48 550,213.6 C547.9,213.72 541.17,214.74 540,213.5 C538.83,212.26 538.6,204.2 540,203Z" fill="#dcf1f7"/>
<path d="M540,236 C542.92,225.15 559.75,236.42 565,237 C570.25,237.58 581.27,239.83 585,241 C588.73,242.17 595.02,245.37 597,247 C598.98,248.63 601.18,253.07 602,255 C602.82,256.93 602.41,261.56 604,263.5 C605.59,265.44 611.83,270.05 615.6,271.6 C619.37,273.15 631.47,276.32 636.3,276.8 C641.13,277.28 652.89,276.19 657,275.7 C661.11,275.21 668.84,273.57 671.5,272.6 C674.16,271.63 678.46,268.87 679.8,267.4 C681.14,265.93 682.92,262.61 683,260 C683.08,257.39 680.97,249.08 680.5,245 C680.03,240.92 678.94,229.43 679,225 C679.06,220.57 680.3,209.92 681,207 C681.7,204.08 683.72,200.93 685,200 C686.28,199.07 691.18,183.83 692,199 C692.82,214.17 709.73,314.72 692,330 C674.27,345.28 557.73,340.97 540,330 C522.27,319.03 537.08,246.85 540,236Z" fill="#fdb96b"/>
<path d="M540,240 C541.75,234.6 552.08,239.53 555,239.8 C557.92,240.07 562.08,241.13 565,242.3 C567.92,243.47 577.34,248.05 580,249.8 C582.66,251.55 586.49,255.53 587.8,257.3 C589.11,259.07 590.75,263.33 591.2,265 C591.66,266.67 591.89,269.86 591.7,271.6 C591.51,273.34 590.93,278.32 589.6,279.9 C588.27,281.47 583.32,284.38 580.3,285.1 C577.28,285.82 568.4,285.98 563.7,286.1 C559,286.22 542.76,291.48 540,286.1 C537.24,280.72 538.25,245.4 540,240Z" fill="#f88c51"/>
<path d="M540,314.1 C542.76,312.25 558.51,313.98 563.7,314.1 C568.89,314.22 580.87,314.74 584.5,315.1 C588.13,315.46 593.22,316.35 594.8,317.2 C596.38,318.05 597.51,320.91 598,322.4 C598.49,323.89 605.77,329.11 599,330 C592.23,330.89 546.88,331.86 540,330 C533.12,328.14 537.24,315.96 540,314.1Z" fill="#fedc8c"/>
<path d="M652,330 C647.57,329.11 653.17,324.14 654,322.4 C654.83,320.66 657.06,316.43 659.1,315.1 C661.14,313.77 668.48,311.72 671.5,311 C674.52,310.28 682.61,309.14 685,308.9 C687.39,308.65 691.18,306.44 692,308.9 C692.82,311.36 696.67,327.54 692,330 C687.33,332.46 656.43,330.89 652,330Z" fill="#f88c51"/>
<path d="M667,330 C664.2,329.11 666.99,323.89 668,322.4 C669.01,320.91 673.72,318.05 675.7,317.2 C677.68,316.35 683.1,315.36 685,315.1 C686.9,314.84 691.18,313.26 692,315 C692.82,316.74 694.92,328.25 692,330 C689.08,331.75 669.8,330.89 667,330Z" fill="#ed5f3c"/>
<path d="M677.7,330 C676.18,329.11 678.15,323.65 679,322.4 C679.85,321.15 683.48,319.7 685,319.3 C686.52,318.9 691.18,317.75 692,319 C692.82,320.25 693.67,328.72 692,330 C690.33,331.28 679.22,330.89 677.7,330Z" fill="#d93429"/>
<path d="M543,239.8 C544.6,239.8 549.75,239.22 552.6,239.8 C555.45,240.38 558.85,242.72 560.1,243.3" fill="none" stroke="#111" stroke-width="0.75"/>
<path d="M575.5,253.5 C577.55,254.98 584.08,261.13 587.8,262.4 C591.52,263.67 595.3,261.52 597.8,261.1 C600.3,260.68 600.7,261.37 602.8,259.9 C604.9,258.43 607.88,255.23 610.4,252.3 C612.92,249.37 615.4,246.07 617.9,242.3 C620.4,238.53 623.72,234.32 625.4,229.7 C627.08,225.08 627.48,220.22 628,214.6 C628.52,208.98 628.42,199.1 628.5,196" fill="none" stroke="#111" stroke-width="0.75"/>
<path d="M590.3,196 C589.67,197.85 588.18,203.17 586.5,207.1 C584.82,211.03 581.67,216.47 580.2,219.6 C578.73,222.73 577.7,222.97 577.7,225.9 C577.7,228.83 578.1,234.05 580.2,237.2 C582.3,240.35 586.73,243.53 590.3,244.8 C593.87,246.07 598.25,245.65 601.6,244.8 C604.95,243.95 608.32,242.63 610.4,239.7 C612.48,236.77 613.68,232.22 614.1,227.2 C614.52,222.18 613.52,214.8 612.9,209.6 C612.28,204.4 610.82,198.27 610.4,196" fill="none" stroke="#111" stroke-width="0.75"/>
<path d="M561.5,221.8 C562.58,221.38 566,220.17 568,219.3 C570,218.43 572.58,217.05 573.5,216.6" fill="none" stroke="#111" stroke-width="0.75" stroke-dasharray="2.2,1.3"/>
<path d="M582,207.5 C582.75,206.65 585.33,204.15 586.5,202.4 C587.67,200.65 588.58,197.9 589,197" fill="none" stroke="#111" stroke-width="0.75" stroke-dasharray="2.2,1.3"/>
<path d="M651.8,196 C652.02,198.68 652.32,207.1 653.1,212.1 C653.88,217.1 655.58,222.68 656.5,226 C657.42,229.32 658.25,231 658.6,232" fill="none" stroke="#111" stroke-width="0.75" stroke-dasharray="2.2,1.3"/>
<path d="M669,237.5 C669.7,236.62 671.25,235.6 673.2,232.2 C675.15,228.8 678.57,221.13 680.7,217.1 C682.83,213.07 685.12,209.52 686,208" fill="none" stroke="#111" stroke-width="0.75" stroke-dasharray="2.2,1.3"/>
<path d="M663.1,196 C663.95,197.22 666.52,202.3 668.2,203.3 C669.88,204.3 671.95,203.22 673.2,202 C674.45,200.78 675.28,197 675.7,196" fill="none" stroke="#111" stroke-width="0.75" stroke-dasharray="2.2,1.3"/>
<path d="M653.9,269.5 C653.83,272.08 653.65,280.5 653.5,285 C653.35,289.5 653.08,294.58 653,296.5" fill="none" stroke="#111" stroke-width="0.75" stroke-dasharray="2.2,1.3"/>
<path d="M655,308 C655.17,308.5 654.63,310.17 656,311 C657.37,311.83 660.95,311.62 663.2,313 C665.45,314.38 667.42,318.6 669.5,319.3 C671.58,320 673.98,319.28 675.7,317.2 C677.42,315.12 678.95,311.98 679.8,306.8 C680.65,301.62 680.45,292.67 680.8,286.1 C681.15,279.53 681.03,272.08 681.9,267.4 C682.77,262.72 685.32,259.57 686,258" fill="none" stroke="#111" stroke-width="0.75" stroke-dasharray="2.2,1.3"/>
<text x="568.3" y="250.5" font-size="5.6" text-anchor="middle" transform="rotate(28 568.3 248.5)">1.2</text>
<text x="551.9" y="222.9" font-size="5.6" text-anchor="middle" transform="rotate(-5 551.9 220.9)">1.2</text>
<text x="577.2" y="213.9" font-size="5.6" text-anchor="middle" transform="rotate(-20 577.2 211.9)">1.2</text>
<text x="598.3" y="201" font-size="5.6" text-anchor="middle" transform="rotate(-10 598.3 199)">2.5</text>
<text x="663.8" y="240.2" font-size="5.6" text-anchor="middle" transform="rotate(-20 663.8 238.2)">−1.6</text>
<text x="654.3" y="304.3" font-size="5.6" text-anchor="middle" transform="rotate(-80 654.3 302.3)">0.5</text>
<line x1="602.33" y1="197.4" x2="602.33" y2="322.69" stroke="#000" stroke-width="2" stroke-dasharray="5.5,2.5"/>
</g>
<path d="M686,197.4 L544.8,197.4 L544.8,322.69 L686,322.69" fill="none" stroke="#000" stroke-width="0.9"/>
<line x1="541.3" y1="197.4" x2="544.8" y2="197.4" stroke="#000" stroke-width="0.8"/>
<text x="540.2" y="199.9" font-size="7" text-anchor="end" textLength="8.4" lengthAdjust="spacingAndGlyphs">50</text>
<line x1="541.3" y1="226.39" x2="544.8" y2="226.39" stroke="#000" stroke-width="0.8"/>
<text x="540.2" y="228.89" font-size="7" text-anchor="end" textLength="12.6" lengthAdjust="spacingAndGlyphs">100</text>
<line x1="541.3" y1="243.35" x2="544.8" y2="243.35" stroke="#000" stroke-width="0.8"/>
<text x="540.2" y="245.85" font-size="7" text-anchor="end" textLength="12.6" lengthAdjust="spacingAndGlyphs">150</text>
<line x1="541.3" y1="255.38" x2="544.8" y2="255.38" stroke="#000" stroke-width="0.8"/>
<text x="540.2" y="257.88" font-size="7" text-anchor="end" textLength="12.6" lengthAdjust="spacingAndGlyphs">200</text>
<line x1="541.3" y1="272.34" x2="544.8" y2="272.34" stroke="#000" stroke-width="0.8"/>
<text x="540.2" y="274.84" font-size="7" text-anchor="end" textLength="12.6" lengthAdjust="spacingAndGlyphs">300</text>
<line x1="541.3" y1="293.7" x2="544.8" y2="293.7" stroke="#000" stroke-width="0.8"/>
<text x="540.2" y="296.2" font-size="7" text-anchor="end" textLength="12.6" lengthAdjust="spacingAndGlyphs">500</text>
<line x1="541.3" y1="322.69" x2="544.8" y2="322.69" stroke="#000" stroke-width="0.8"/>
<text x="540.2" y="325.19" font-size="7" text-anchor="end" textLength="16.8" lengthAdjust="spacingAndGlyphs">1000</text>
<line x1="542.8" y1="205.03" x2="544.8" y2="205.03" stroke="#000" stroke-width="0.6"/>
<line x1="542.8" y1="211.47" x2="544.8" y2="211.47" stroke="#000" stroke-width="0.6"/>
<line x1="542.8" y1="217.06" x2="544.8" y2="217.06" stroke="#000" stroke-width="0.6"/>
<line x1="542.8" y1="221.98" x2="544.8" y2="221.98" stroke="#000" stroke-width="0.6"/>
<line x1="542.8" y1="284.37" x2="544.8" y2="284.37" stroke="#000" stroke-width="0.6"/>
<line x1="542.8" y1="301.33" x2="544.8" y2="301.33" stroke="#000" stroke-width="0.6"/>
<line x1="542.8" y1="307.77" x2="544.8" y2="307.77" stroke="#000" stroke-width="0.6"/>
<line x1="542.8" y1="313.36" x2="544.8" y2="313.36" stroke="#000" stroke-width="0.6"/>
<line x1="542.8" y1="318.28" x2="544.8" y2="318.28" stroke="#000" stroke-width="0.6"/>
<line x1="544.8" y1="322.69" x2="544.8" y2="326.19" stroke="#000" stroke-width="0.8"/>
<text x="544.8" y="332.69" font-size="7" text-anchor="middle" textLength="6.8" lengthAdjust="spacingAndGlyphs">0°</text>
<line x1="597.1" y1="322.69" x2="597.1" y2="326.19" stroke="#000" stroke-width="0.8"/>
<text x="597.1" y="332.69" font-size="7" text-anchor="middle" textLength="16.4" lengthAdjust="spacingAndGlyphs">30°N</text>
<line x1="649.4" y1="322.69" x2="649.4" y2="326.19" stroke="#000" stroke-width="0.8"/>
<text x="649.4" y="332.69" font-size="7" text-anchor="middle" textLength="16.4" lengthAdjust="spacingAndGlyphs">60°N</text>
<text x="515.2" y="260.04" font-size="7.9" text-anchor="middle" textLength="56.8" lengthAdjust="spacingAndGlyphs" transform="rotate(-90 515.2 260.04)">Pressure (hPa)</text>
<clipPath id="bclip2"><rect x="544.8" y="343.2" width="140.2" height="125.29"/></clipPath>
<g clip-path="url(#bclip2)">
<path d="M540,336 C557.73,319.78 674.27,319.78 692,336 C709.73,352.22 709.73,458.78 692,475 C674.27,491.22 557.73,491.22 540,475 C522.27,458.78 522.27,352.22 540,336Z" fill="#f88c51"/>
<path d="M540,336 C557.73,330.56 674.27,326.35 692,336 C709.73,345.65 693.67,408.94 692,418.7 C690.33,428.46 681.78,419.7 677.7,419.7 C673.62,419.7 661.83,419.06 657,418.7 C652.17,418.34 640.27,416.74 636.3,416.6 C632.33,416.46 626.07,417.72 623,417.5 C619.93,417.28 612.5,416.01 610,414.7 C607.5,413.39 603.23,408.25 601.6,406.3 C599.97,404.35 597.47,400.11 596,398 C594.53,395.89 591.11,389.83 589,388.2 C586.89,386.57 581.28,384.63 577.9,384 C574.52,383.37 564.42,382.96 560,382.8 C555.58,382.64 542.33,388.06 540,382.6 C537.67,377.14 522.27,341.44 540,336Z" fill="#fdb96b"/>
<path d="M540,336 C557.73,331.52 674.27,329.7 692,336 C709.73,342.3 692.82,383.44 692,390 C691.18,396.56 686.96,390.88 685,392.2 C683.04,393.52 677.53,399.81 675.2,401.3 C672.87,402.79 668.06,404.24 665,405 C661.94,405.76 653.9,407.62 649,407.8 C644.1,407.98 627.55,407.06 623,406.5 C618.45,405.94 611.98,403.99 610,403 C608.02,402.01 606.82,399.52 606,398 C605.18,396.48 603.82,391.98 603,390 C602.18,388.02 600.05,382.69 599,381 C597.95,379.31 595.21,376.41 594,375.5 C592.79,374.59 590.75,373.54 588.6,373.2 C586.45,372.86 578.63,372.55 575.6,372.6 C572.57,372.65 566.75,373.39 562.6,373.6 C558.45,373.81 542.64,378.79 540,374.4 C537.36,370.01 522.27,340.48 540,336Z" fill="#fedc8c"/>
<path d="M662.2,336 C658.72,336.92 661.59,341.45 662.2,343.9 C662.81,346.35 666.19,353.95 667.4,357 C668.61,360.05 671.39,367.27 672.6,370 C673.81,372.73 676.59,378.42 677.8,380.4 C679.01,382.38 681.34,385.76 683,387 C684.66,388.24 690.95,396.95 692,391 C693.05,385.05 695.48,342.42 692,336 C688.52,329.58 665.68,335.08 662.2,336Z" fill="#fdb96b"/>
<path d="M540,336 C548.75,332.03 606.25,335.08 615,336 C623.75,336.92 616.1,342.52 615,343.9 C613.9,345.28 607.61,346.89 605.6,347.8 C603.59,348.71 599.62,350.47 597.8,351.7 C595.98,352.93 591.83,356.7 590,358.3 C588.17,359.9 583.24,364.27 582.1,365.4 C580.96,366.53 580.66,367.92 580.2,368 C579.75,368.08 579.5,366.1 578.2,366.1 C576.91,366.1 571.69,367.63 569.1,368 C566.51,368.37 559.39,369.07 556,369.3 C552.61,369.53 541.87,373.88 540,370 C538.13,366.12 531.25,339.97 540,336Z" fill="#ffffff"/>
<path d="M540,336 C543.62,332.87 567.38,335.08 571,336 C574.62,336.92 571.22,341.92 571,343.9 C570.78,345.88 569.62,351.17 569.1,353 C568.58,354.83 568.03,358.53 566.5,359.6 C564.97,360.67 559.09,361.83 556,362.2 C552.91,362.57 541.87,365.86 540,362.8 C538.13,359.74 536.38,339.13 540,336Z" fill="#dcf1f7"/>
<path d="M615.2,391.5 C614.58,393.94 618.72,397.4 620.4,398.7 C622.08,400 627.01,401.91 629.6,402.6 C632.19,403.29 639.57,404.6 642.6,404.6 C645.63,404.6 653.31,403.44 655.6,402.6 C657.89,401.76 661.28,398.92 662.2,397.4 C663.12,395.88 663.96,391.74 663.5,389.6 C663.04,387.47 659.68,381.39 658.3,379.1 C656.92,376.81 653.38,371.37 651.7,370 C650.02,368.63 645.72,367.55 643.9,367.4 C642.08,367.25 638.22,367.49 636.1,368.7 C633.98,369.91 628.14,375.14 625.7,377.8 C623.26,380.46 615.82,389.06 615.2,391.5Z" fill="#ffffff"/>
<path d="M540,385.4 C541.98,379.71 553.38,384.54 557,384.7 C560.62,384.86 568.4,386.06 571,386.8 C573.6,387.54 577.68,389.69 579.3,391 C580.92,392.31 583.77,396.38 584.9,398 C586.03,399.62 587.71,403.11 589,404.9 C590.29,406.69 594.2,411.67 596,413.3 C597.8,414.93 602.77,417.44 604.4,418.9 C606.03,420.36 609.43,424.34 610,425.8 C610.57,427.26 610.12,430.26 609.3,431.4 C608.48,432.54 605.37,434.95 603,435.6 C600.63,436.25 592.73,437 589,437 C585.27,437 574.73,435.93 571,435.6 C567.27,435.27 560.62,434.44 557,434.2 C553.38,433.95 541.98,439.19 540,433.5 C538.02,427.81 538.02,391.09 540,385.4Z" fill="#ed5f3c"/>
<path d="M540,389.5 C541.98,385.36 553.38,390.51 557,391 C560.62,391.49 568.73,392.57 571,393.7 C573.27,394.83 575.53,398.58 576.5,400.7 C577.47,402.82 579.14,409.61 579.3,411.9 C579.46,414.19 578.87,418.83 577.9,420.3 C576.93,421.77 573.44,423.86 571,424.5 C568.56,425.14 560.62,425.57 557,425.8 C553.38,426.03 541.98,430.74 540,426.5 C538.02,422.26 538.02,393.64 540,389.5Z" fill="#d93429"/>
<path d="M540,460.1 C542.76,458.25 558.51,458.97 563.7,459.1 C568.89,459.23 581.11,460.59 584.5,461.2 C587.89,461.81 591.6,463.46 592.8,464.3 C594,465.14 594.54,467.15 594.8,468.4 C595.06,469.65 601.39,474.23 595,475 C588.61,475.77 546.42,476.74 540,475 C533.58,473.26 537.24,461.96 540,460.1Z" fill="#fdb96b"/>
<path d="M650,475 C645.19,474.23 649.74,470.14 650.8,468.4 C651.86,466.66 657.16,462.52 659.1,460.1 C661.04,457.69 665.46,450.12 667.4,447.7 C669.34,445.28 673.65,440.86 675.7,439.4 C677.75,437.94 683.1,435.71 685,435.2 C686.9,434.69 691.18,430.36 692,435 C692.82,439.64 696.9,470.33 692,475 C687.1,479.67 654.81,475.77 650,475Z" fill="#ed5f3c"/>
<path d="M660.5,475 C656.91,474.23 659.92,470.14 661.2,468.4 C662.48,466.66 668.72,461.55 671.5,460.1 C674.28,458.65 682.61,456.48 685,456 C687.39,455.52 691.18,453.78 692,456 C692.82,458.22 695.67,472.78 692,475 C688.33,477.22 664.09,475.77 660.5,475Z" fill="#d93429"/>
<path d="M671,475 C668.61,474.23 669.87,469.89 671.5,468.4 C673.13,466.91 682.61,462.95 685,462.2 C687.39,461.45 691.18,460.51 692,462 C692.82,463.49 694.45,473.48 692,475 C689.55,476.52 673.39,475.77 671,475Z" fill="#b71126"/>
<path d="M543,366.1 C544.73,366.32 550.13,367.3 553.4,367.4 C556.67,367.5 559.55,367.25 562.6,366.7 C565.65,366.15 569.1,365.28 571.7,364.1 C574.3,362.92 576.47,361.45 578.2,359.6 C579.93,357.75 581.23,355.93 582.1,353 C582.97,350.07 583.18,343.83 583.4,342" fill="none" stroke="#111" stroke-width="0.75"/>
<path d="M543,353 C544.17,353.63 547.83,355.7 550,356.8 C552.17,357.9 555,359.13 556,359.6" fill="none" stroke="#111" stroke-width="0.75" stroke-dasharray="2.2,1.3"/>
<path d="M570.4,357 C571.27,356.33 574.25,354.08 575.6,353 C576.95,351.92 578.02,350.92 578.5,350.5" fill="none" stroke="#111" stroke-width="0.75" stroke-dasharray="2.2,1.3"/>
<path d="M575.8,372.1 C576.38,372.92 577.78,375.48 579.3,377 C580.82,378.52 582.57,380.03 584.9,381.2 C587.23,382.37 590.05,383.88 593.3,384 C596.55,384.12 601.62,382.9 604.4,381.9 C607.18,380.9 608.07,379.65 610,378 C611.93,376.35 614.25,374.33 616,372 C617.75,369.67 619.25,367.33 620.5,364 C621.75,360.67 622.63,355.67 623.5,352 C624.37,348.33 625.33,343.67 625.7,342" fill="none" stroke="#111" stroke-width="0.75"/>
<path d="M575.8,372.1 C576.85,371.1 579.3,368.62 582.1,366.1 C584.9,363.58 590.03,359.75 592.6,357 C595.17,354.25 596.2,352.1 597.5,349.6 C598.8,347.1 599.92,343.27 600.4,342" fill="none" stroke="#111" stroke-width="0.75"/>
<path d="M543,382.6 C544.63,382.37 549.78,380.97 552.8,381.2 C555.82,381.43 558.08,382.37 561.1,384 C564.12,385.63 567.87,389.03 570.9,391 C573.93,392.97 576.95,394.63 579.3,395.8 C581.65,396.97 584.05,397.63 585,398" fill="none" stroke="#111" stroke-width="0.75"/>
<path d="M597.5,395.8 C598.88,395.45 602.78,394.75 605.8,393.7 C608.82,392.65 613.03,391.12 615.6,389.5 C618.17,387.88 619.97,386.17 621.2,384 C622.43,381.83 622.25,380.57 623,376.5 C623.75,372.43 625.25,365.35 625.7,359.6 C626.15,353.85 625.7,344.93 625.7,342" fill="none" stroke="#111" stroke-width="0.75"/>
<path d="M543,411.2 C544.4,410.38 548.38,407.93 551.4,406.3 C554.42,404.67 558.32,402.33 561.1,401.4 C563.88,400.47 565.77,400.35 568.1,400.7 C570.43,401.05 572.53,401.98 575.1,403.5 C577.67,405.02 580.93,408.75 583.5,409.8 C586.07,410.85 588.33,410.18 590.5,409.8 C592.67,409.42 595.5,407.88 596.5,407.5" fill="none" stroke="#111" stroke-width="0.75"/>
<path d="M608.6,404.9 C609.67,404.67 612.15,404.32 615,403.5 C617.85,402.68 623.05,401.45 625.7,400 C628.35,398.55 629.5,397.63 630.9,394.8 C632.3,391.97 633.23,387.78 634.1,383 C634.97,378.22 635.77,372.93 636.1,366.1 C636.43,359.27 636.1,346.02 636.1,342" fill="none" stroke="#111" stroke-width="0.75"/>
<path d="M651.7,342 L653.7,355.7" fill="none" stroke="#111" stroke-width="0.75" stroke-dasharray="2.2,1.3"/>
<path d="M660.2,342 L662.8,353" fill="none" stroke="#111" stroke-width="0.75" stroke-dasharray="2.2,1.3"/>
<path d="M678.5,342 L676.5,353" fill="none" stroke="#111" stroke-width="0.75" stroke-dasharray="2.2,1.3"/>
<path d="M664.1,392.2 C665.3,393.07 669.02,396.97 671.3,397.4 C673.58,397.83 675.85,396.77 677.8,394.8 C679.75,392.83 681.63,388.57 683,385.6 C684.37,382.63 685.5,378.43 686,377" fill="none" stroke="#111" stroke-width="0.75" stroke-dasharray="2.2,1.3"/>
<path d="M655,420.7 C654.88,422.25 654.48,426.53 654.3,430 C654.12,433.47 653.87,438.5 653.9,441.5 C653.93,444.5 654.4,446.92 654.5,448" fill="none" stroke="#111" stroke-width="0.75" stroke-dasharray="2.2,1.3"/>
<path d="M660,457.5 C660.53,457.58 661.62,456.87 663.2,458 C664.78,459.13 667.08,463.6 669.5,464.3 C671.92,465 674.95,463.17 677.7,462.2 C680.45,461.23 684.62,459.12 686,458.5" fill="none" stroke="#111" stroke-width="0.75" stroke-dasharray="2.2,1.3"/>
<text x="563.6" y="362.3" font-size="5.6" text-anchor="middle" transform="rotate(-5 563.6 360.3)">1.2</text>
<text x="584.4" y="354.4" font-size="5.6" text-anchor="middle" transform="rotate(10 584.4 352.4)">2.5</text>
<text x="590.9" y="399.7" font-size="5.6" text-anchor="middle" transform="rotate(0 590.9 397.7)">2.5</text>
<text x="602.2" y="408.3" font-size="5.6" text-anchor="middle" transform="rotate(0 602.2 406.3)">1.2</text>
<text x="610.5" y="384.5" font-size="5.6" text-anchor="middle" transform="rotate(35 610.5 382.5)">3.7</text>
<text x="670.3" y="365.2" font-size="5.6" text-anchor="middle" transform="rotate(0 670.3 363.2)">−2.8</text>
<text x="658.9" y="381.1" font-size="5.6" text-anchor="middle" transform="rotate(-45 658.9 379.1)">−1.6</text>
<text x="562.7" y="430" font-size="5.6" text-anchor="middle" transform="rotate(-80 562.7 428)">6</text>
<text x="657" y="456.5" font-size="5.6" text-anchor="middle" transform="rotate(-75 657 454.5)">0.5</text>
<line x1="602.33" y1="343.2" x2="602.33" y2="468.49" stroke="#000" stroke-width="2" stroke-dasharray="5.5,2.5"/>
</g>
<path d="M686,343.2 L544.8,343.2 L544.8,468.49 L686,468.49" fill="none" stroke="#000" stroke-width="0.9"/>
<line x1="541.3" y1="343.2" x2="544.8" y2="343.2" stroke="#000" stroke-width="0.8"/>
<text x="540.2" y="345.7" font-size="7" text-anchor="end" textLength="8.4" lengthAdjust="spacingAndGlyphs">50</text>
<line x1="541.3" y1="372.19" x2="544.8" y2="372.19" stroke="#000" stroke-width="0.8"/>
<text x="540.2" y="374.69" font-size="7" text-anchor="end" textLength="12.6" lengthAdjust="spacingAndGlyphs">100</text>
<line x1="541.3" y1="389.15" x2="544.8" y2="389.15" stroke="#000" stroke-width="0.8"/>
<text x="540.2" y="391.65" font-size="7" text-anchor="end" textLength="12.6" lengthAdjust="spacingAndGlyphs">150</text>
<line x1="541.3" y1="401.18" x2="544.8" y2="401.18" stroke="#000" stroke-width="0.8"/>
<text x="540.2" y="403.68" font-size="7" text-anchor="end" textLength="12.6" lengthAdjust="spacingAndGlyphs">200</text>
<line x1="541.3" y1="418.14" x2="544.8" y2="418.14" stroke="#000" stroke-width="0.8"/>
<text x="540.2" y="420.64" font-size="7" text-anchor="end" textLength="12.6" lengthAdjust="spacingAndGlyphs">300</text>
<line x1="541.3" y1="439.5" x2="544.8" y2="439.5" stroke="#000" stroke-width="0.8"/>
<text x="540.2" y="442" font-size="7" text-anchor="end" textLength="12.6" lengthAdjust="spacingAndGlyphs">500</text>
<line x1="541.3" y1="468.49" x2="544.8" y2="468.49" stroke="#000" stroke-width="0.8"/>
<text x="540.2" y="470.99" font-size="7" text-anchor="end" textLength="16.8" lengthAdjust="spacingAndGlyphs">1000</text>
<line x1="542.8" y1="350.83" x2="544.8" y2="350.83" stroke="#000" stroke-width="0.6"/>
<line x1="542.8" y1="357.27" x2="544.8" y2="357.27" stroke="#000" stroke-width="0.6"/>
<line x1="542.8" y1="362.86" x2="544.8" y2="362.86" stroke="#000" stroke-width="0.6"/>
<line x1="542.8" y1="367.78" x2="544.8" y2="367.78" stroke="#000" stroke-width="0.6"/>
<line x1="542.8" y1="430.17" x2="544.8" y2="430.17" stroke="#000" stroke-width="0.6"/>
<line x1="542.8" y1="447.13" x2="544.8" y2="447.13" stroke="#000" stroke-width="0.6"/>
<line x1="542.8" y1="453.57" x2="544.8" y2="453.57" stroke="#000" stroke-width="0.6"/>
<line x1="542.8" y1="459.16" x2="544.8" y2="459.16" stroke="#000" stroke-width="0.6"/>
<line x1="542.8" y1="464.08" x2="544.8" y2="464.08" stroke="#000" stroke-width="0.6"/>
<line x1="544.8" y1="468.49" x2="544.8" y2="471.99" stroke="#000" stroke-width="0.8"/>
<text x="544.8" y="478.49" font-size="7" text-anchor="middle" textLength="6.8" lengthAdjust="spacingAndGlyphs">0°</text>
<line x1="597.1" y1="468.49" x2="597.1" y2="471.99" stroke="#000" stroke-width="0.8"/>
<text x="597.1" y="478.49" font-size="7" text-anchor="middle" textLength="16.4" lengthAdjust="spacingAndGlyphs">30°N</text>
<line x1="649.4" y1="468.49" x2="649.4" y2="471.99" stroke="#000" stroke-width="0.8"/>
<text x="649.4" y="478.49" font-size="7" text-anchor="middle" textLength="16.4" lengthAdjust="spacingAndGlyphs">60°N</text>
<text x="515.2" y="405.84" font-size="7.9" text-anchor="middle" textLength="56.8" lengthAdjust="spacingAndGlyphs" transform="rotate(-90 515.2 405.84)">Pressure (hPa)</text>
<text x="614.6" y="489.1" font-size="9" text-anchor="middle" textLength="31.7" lengthAdjust="spacingAndGlyphs">Latitude</text>
<rect x="558.95" y="497.7" width="8.31" height="8.4" fill="#384ca0"/>
<rect x="566.96" y="497.7" width="8.31" height="8.4" fill="#4878b6"/>
<rect x="574.98" y="497.7" width="8.31" height="8.4" fill="#69a0ca"/>
<rect x="582.99" y="497.7" width="8.31" height="8.4" fill="#90c3dd"/>
<rect x="591.01" y="497.7" width="8.31" height="8.4" fill="#b6dfec"/>
<rect x="599.02" y="497.7" width="8.31" height="8.4" fill="#dcf1f7"/>
<rect x="607.04" y="497.7" width="8.31" height="8.4" fill="#ffffff"/>
<rect x="615.05" y="497.7" width="8.31" height="8.4" fill="#ffffff"/>
<rect x="623.06" y="497.7" width="8.31" height="8.4" fill="#fedc8c"/>
<rect x="631.08" y="497.7" width="8.31" height="8.4" fill="#fdb96b"/>
<rect x="639.09" y="497.7" width="8.31" height="8.4" fill="#f88c51"/>
<rect x="647.11" y="497.7" width="8.31" height="8.4" fill="#ed5f3c"/>
<rect x="655.12" y="497.7" width="8.31" height="8.4" fill="#d93429"/>
<rect x="663.14" y="497.7" width="8.31" height="8.4" fill="#b71126"/>
<path d="M558.95,497.7 L553.2,501.9 L558.95,506.1Z" fill="#313695"/>
<path d="M671.15,497.7 L676.8,501.9 L671.15,506.1Z" fill="#a50026"/>
<path d="M558.95,497.7 L553.2,501.9 L558.95,506.1 L671.15,506.1 L676.8,501.9 L671.15,497.7Z" fill="none" stroke="#222" stroke-width="0.8"/>
<line x1="558.95" y1="506.1" x2="558.95" y2="509.1" stroke="#000" stroke-width="0.8"/>
<text x="559.35" y="516.5" font-size="7.4" text-anchor="middle" textLength="9" lengthAdjust="spacingAndGlyphs">−6</text>
<line x1="587" y1="506.1" x2="587" y2="509.1" stroke="#000" stroke-width="0.8"/>
<text x="587.4" y="516.5" font-size="7.4" text-anchor="middle" textLength="9" lengthAdjust="spacingAndGlyphs">−3</text>
<line x1="615.05" y1="506.1" x2="615.05" y2="509.1" stroke="#000" stroke-width="0.8"/>
<text x="615.45" y="516.5" font-size="7.4" text-anchor="middle" textLength="4.3" lengthAdjust="spacingAndGlyphs">0</text>
<line x1="643.1" y1="506.1" x2="643.1" y2="509.1" stroke="#000" stroke-width="0.8"/>
<text x="643.5" y="516.5" font-size="7.4" text-anchor="middle" textLength="4.3" lengthAdjust="spacingAndGlyphs">3</text>
<line x1="671.15" y1="506.1" x2="671.15" y2="509.1" stroke="#000" stroke-width="0.8"/>
<text x="671.55" y="516.5" font-size="7.4" text-anchor="middle" textLength="4.3" lengthAdjust="spacingAndGlyphs">6</text>
</svg></body></html>
